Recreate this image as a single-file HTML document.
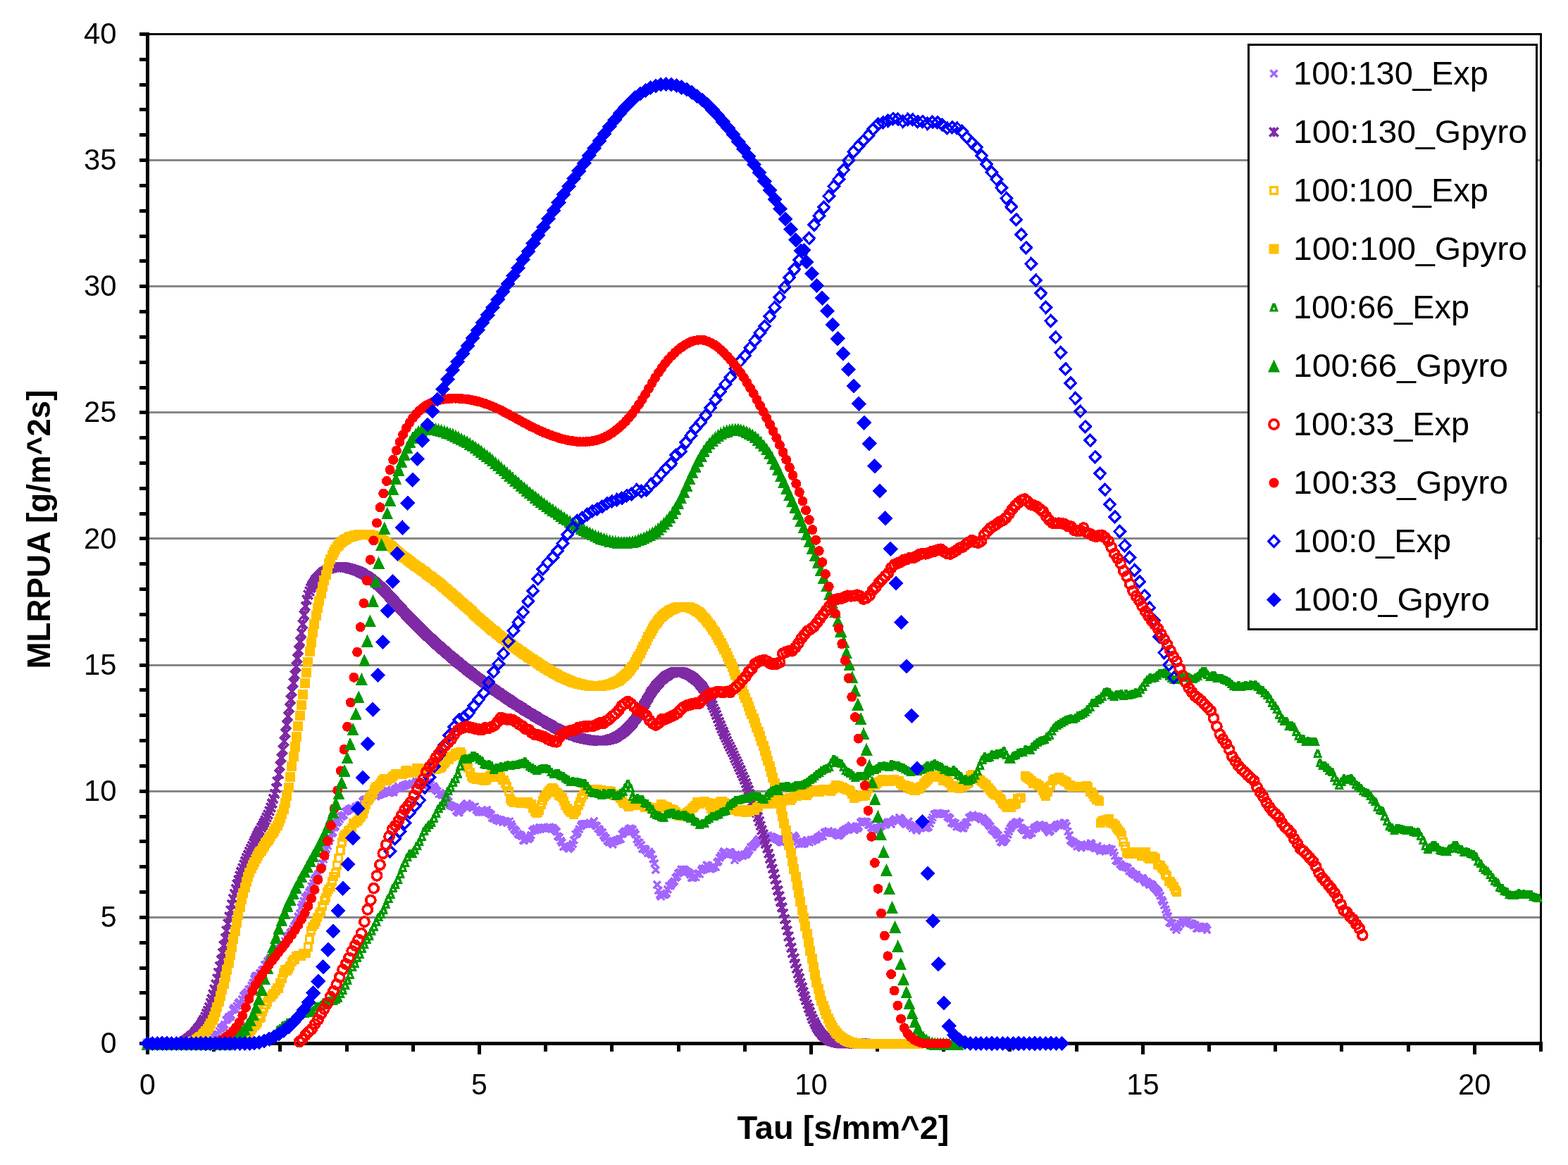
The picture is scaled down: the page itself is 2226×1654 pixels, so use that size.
<!DOCTYPE html>
<html lang="en">
<head>
<meta charset="utf-8">
<title>MLRPUA vs Tau</title>
<style>
html,body{margin:0;padding:0;background:#fff;}
body{width:2226px;height:1654px;overflow:hidden;}
svg{display:block;}
text{font-family:"Liberation Sans", sans-serif;fill:#000;}
.tk{font-size:42px;}
.lg{font-size:47px;}
.ti{font-size:47px;font-weight:bold;}
</style>
</head>
<body>
<svg xmlns="http://www.w3.org/2000/svg" width="2226" height="1654" viewBox="0 0 2226 1654">
<rect x="0" y="0" width="2226" height="1654" fill="#fff"/>
<g stroke="#868686" stroke-width="3" shape-rendering="crispEdges">
<line x1="212" y1="1302.5" x2="2186" y2="1302.5"/>
<line x1="212" y1="1123.5" x2="2186" y2="1123.5"/>
<line x1="212" y1="944.5" x2="2186" y2="944.5"/>
<line x1="212" y1="764.5" x2="2186" y2="764.5"/>
<line x1="212" y1="585.5" x2="2186" y2="585.5"/>
<line x1="212" y1="406.5" x2="2186" y2="406.5"/>
<line x1="212" y1="227.5" x2="2186" y2="227.5"/>
</g>
<g fill="#000" shape-rendering="crispEdges">
<rect x="207" y="47" width="1982" height="3"/>
<rect x="2186" y="47" width="3" height="1437"/>
<rect x="207" y="46" width="5" height="1451"/>
<rect x="198" y="1479" width="1992" height="5"/>
<rect x="198" y="1479" width="10" height="5"/>
<rect x="198" y="1443" width="10" height="5"/>
<rect x="198" y="1407" width="10" height="5"/>
<rect x="198" y="1372" width="10" height="5"/>
<rect x="198" y="1336" width="10" height="5"/>
<rect x="198" y="1300" width="10" height="5"/>
<rect x="198" y="1264" width="10" height="5"/>
<rect x="198" y="1228" width="10" height="5"/>
<rect x="198" y="1192" width="10" height="5"/>
<rect x="198" y="1157" width="10" height="5"/>
<rect x="198" y="1121" width="10" height="5"/>
<rect x="198" y="1085" width="10" height="5"/>
<rect x="198" y="1049" width="10" height="5"/>
<rect x="198" y="1013" width="10" height="5"/>
<rect x="198" y="977" width="10" height="5"/>
<rect x="198" y="942" width="10" height="5"/>
<rect x="198" y="906" width="10" height="5"/>
<rect x="198" y="870" width="10" height="5"/>
<rect x="198" y="834" width="10" height="5"/>
<rect x="198" y="798" width="10" height="5"/>
<rect x="198" y="762" width="10" height="5"/>
<rect x="198" y="727" width="10" height="5"/>
<rect x="198" y="691" width="10" height="5"/>
<rect x="198" y="655" width="10" height="5"/>
<rect x="198" y="619" width="10" height="5"/>
<rect x="198" y="583" width="10" height="5"/>
<rect x="198" y="548" width="10" height="5"/>
<rect x="198" y="512" width="10" height="5"/>
<rect x="198" y="476" width="10" height="5"/>
<rect x="198" y="440" width="10" height="5"/>
<rect x="198" y="404" width="10" height="5"/>
<rect x="198" y="368" width="10" height="5"/>
<rect x="198" y="333" width="10" height="5"/>
<rect x="198" y="297" width="10" height="5"/>
<rect x="198" y="261" width="10" height="5"/>
<rect x="198" y="225" width="10" height="5"/>
<rect x="198" y="189" width="10" height="5"/>
<rect x="198" y="153" width="10" height="5"/>
<rect x="198" y="118" width="10" height="5"/>
<rect x="198" y="82" width="10" height="5"/>
<rect x="198" y="46" width="10" height="5"/>
<rect x="207" y="1479" width="5" height="18"/>
<rect x="301" y="1479" width="5" height="14"/>
<rect x="395" y="1479" width="5" height="14"/>
<rect x="490" y="1479" width="5" height="14"/>
<rect x="584" y="1479" width="5" height="14"/>
<rect x="678" y="1479" width="5" height="18"/>
<rect x="772" y="1479" width="5" height="14"/>
<rect x="866" y="1479" width="5" height="14"/>
<rect x="961" y="1479" width="5" height="14"/>
<rect x="1055" y="1479" width="5" height="14"/>
<rect x="1149" y="1479" width="5" height="18"/>
<rect x="1243" y="1479" width="5" height="14"/>
<rect x="1337" y="1479" width="5" height="14"/>
<rect x="1431" y="1479" width="5" height="14"/>
<rect x="1526" y="1479" width="5" height="14"/>
<rect x="1620" y="1479" width="5" height="18"/>
<rect x="1714" y="1479" width="5" height="14"/>
<rect x="1808" y="1479" width="5" height="14"/>
<rect x="1902" y="1479" width="5" height="14"/>
<rect x="1997" y="1479" width="5" height="14"/>
<rect x="2091" y="1479" width="5" height="18"/>
<rect x="2185" y="1479" width="5" height="14"/>
</g>
<defs>
<g id="m0"><path d="M-5,-5L5,5M-5,5L5,-5" stroke="#A366FF" stroke-width="3.4" fill="none"/></g>
<g id="m1"><path d="M-6.2,-6.2L6.2,6.2M-6.2,6.2L6.2,-6.2" stroke="#7F2AA5" stroke-width="3.7" fill="none"/><rect x="-2" y="-6.5" width="4" height="13" fill="#7F2AA5"/></g>
<g id="m2"><rect x="-4.85" y="-4.85" width="9.7" height="9.7" stroke="#FFC000" stroke-width="3.3" fill="none"/></g>
<g id="m3"><rect x="-7" y="-7" width="14" height="14" fill="#FFC000"/></g>
<g id="m4"><path d="M-2,-6L2,-6L6.5,6L-6.5,6ZM0,-0.6L-1.8,3L1.8,3Z" fill="#009900" fill-rule="evenodd"/></g>
<g id="m5"><path d="M0,-9L8.5,9L-8.5,9Z" fill="#009900"/></g>
<g id="m6"><circle r="6.55" stroke="#FF0000" stroke-width="3.8" fill="none"/></g>
<g id="m7"><circle r="7" fill="#FF0000"/></g>
<g id="m8"><path d="M0,-7.9L7.6,0L0,7.9L-7.6,0Z" stroke="#0000FF" stroke-width="3.4" fill="none" stroke-linejoin="miter"/></g>
<g id="m9"><path d="M0,-10.6L10.6,0L0,10.6L-10.6,0Z" fill="#0000FF"/></g>
</defs>
<g id="series" shape-rendering="crispEdges">
<g><use href="#m0" x="300.0" y="1477.6"/><use href="#m0" x="301.9" y="1476.0"/><use href="#m0" x="303.8" y="1472.1"/><use href="#m0" x="305.7" y="1468.7"/><use href="#m0" x="307.6" y="1470.1"/><use href="#m0" x="309.5" y="1468.4"/><use href="#m0" x="311.4" y="1464.0"/><use href="#m0" x="313.3" y="1460.8"/><use href="#m0" x="315.2" y="1458.8"/><use href="#m0" x="317.1" y="1457.2"/><use href="#m0" x="319.0" y="1454.7"/><use href="#m0" x="320.9" y="1448.2"/><use href="#m0" x="322.8" y="1446.3"/><use href="#m0" x="324.7" y="1444.0"/><use href="#m0" x="326.6" y="1443.5"/><use href="#m0" x="328.5" y="1441.1"/><use href="#m0" x="330.4" y="1433.7"/><use href="#m0" x="332.3" y="1431.4"/><use href="#m0" x="334.2" y="1432.6"/><use href="#m0" x="336.1" y="1428.2"/><use href="#m0" x="338.0" y="1424.5"/><use href="#m0" x="339.9" y="1423.1"/><use href="#m0" x="341.8" y="1425.8"/><use href="#m0" x="343.7" y="1418.4"/><use href="#m0" x="345.6" y="1414.2"/><use href="#m0" x="347.5" y="1411.9"/><use href="#m0" x="349.4" y="1409.8"/><use href="#m0" x="351.3" y="1407.8"/><use href="#m0" x="353.2" y="1404.7"/><use href="#m0" x="355.1" y="1404.2"/><use href="#m0" x="357.0" y="1399.2"/><use href="#m0" x="358.9" y="1395.3"/><use href="#m0" x="360.8" y="1389.5"/><use href="#m0" x="362.7" y="1386.3"/><use href="#m0" x="364.6" y="1385.2"/><use href="#m0" x="366.5" y="1385.9"/><use href="#m0" x="368.4" y="1381.8"/><use href="#m0" x="370.3" y="1380.9"/><use href="#m0" x="372.2" y="1377.1"/><use href="#m0" x="374.1" y="1376.4"/><use href="#m0" x="376.0" y="1370.0"/><use href="#m0" x="377.9" y="1369.2"/><use href="#m0" x="379.8" y="1365.2"/><use href="#m0" x="381.7" y="1362.9"/><use href="#m0" x="383.6" y="1359.8"/><use href="#m0" x="385.5" y="1359.7"/><use href="#m0" x="387.4" y="1358.5"/><use href="#m0" x="389.3" y="1354.6"/><use href="#m0" x="391.2" y="1353.2"/><use href="#m0" x="393.1" y="1353.1"/><use href="#m0" x="395.0" y="1349.6"/><use href="#m0" x="396.9" y="1346.9"/><use href="#m0" x="398.8" y="1343.9"/><use href="#m0" x="400.7" y="1343.0"/><use href="#m0" x="402.6" y="1341.8"/><use href="#m0" x="404.5" y="1336.0"/><use href="#m0" x="406.4" y="1330.7"/><use href="#m0" x="408.3" y="1329.3"/><use href="#m0" x="410.2" y="1328.5"/><use href="#m0" x="412.1" y="1324.0"/><use href="#m0" x="414.0" y="1322.8"/><use href="#m0" x="415.9" y="1318.9"/><use href="#m0" x="417.8" y="1315.1"/><use href="#m0" x="419.7" y="1312.0"/><use href="#m0" x="421.6" y="1308.6"/><use href="#m0" x="423.5" y="1301.4"/><use href="#m0" x="425.4" y="1297.0"/><use href="#m0" x="427.3" y="1288.4"/><use href="#m0" x="429.2" y="1284.5"/><use href="#m0" x="431.1" y="1279.3"/><use href="#m0" x="433.0" y="1274.1"/><use href="#m0" x="434.9" y="1273.5"/><use href="#m0" x="436.8" y="1270.5"/><use href="#m0" x="438.7" y="1266.9"/><use href="#m0" x="440.6" y="1263.9"/><use href="#m0" x="442.5" y="1258.3"/><use href="#m0" x="444.4" y="1253.9"/><use href="#m0" x="446.3" y="1249.6"/><use href="#m0" x="448.2" y="1246.2"/><use href="#m0" x="450.1" y="1244.3"/><use href="#m0" x="452.0" y="1240.8"/><use href="#m0" x="453.9" y="1234.3"/><use href="#m0" x="455.8" y="1231.2"/><use href="#m0" x="457.7" y="1225.5"/><use href="#m0" x="459.6" y="1220.1"/><use href="#m0" x="461.5" y="1215.5"/><use href="#m0" x="463.4" y="1205.3"/><use href="#m0" x="465.3" y="1200.8"/><use href="#m0" x="467.2" y="1194.1"/><use href="#m0" x="469.1" y="1189.7"/><use href="#m0" x="471.0" y="1183.5"/><use href="#m0" x="472.9" y="1181.4"/><use href="#m0" x="474.8" y="1174.5"/><use href="#m0" x="476.7" y="1173.2"/><use href="#m0" x="478.6" y="1168.3"/><use href="#m0" x="480.5" y="1166.1"/><use href="#m0" x="482.4" y="1163.0"/><use href="#m0" x="484.3" y="1159.1"/><use href="#m0" x="486.2" y="1158.8"/><use href="#m0" x="488.1" y="1157.1"/><use href="#m0" x="490.0" y="1152.6"/><use href="#m0" x="491.9" y="1151.4"/><use href="#m0" x="493.8" y="1151.1"/><use href="#m0" x="495.7" y="1148.8"/><use href="#m0" x="497.6" y="1147.8"/><use href="#m0" x="499.5" y="1147.6"/><use href="#m0" x="501.4" y="1148.8"/><use href="#m0" x="503.3" y="1148.8"/><use href="#m0" x="505.2" y="1145.5"/><use href="#m0" x="507.1" y="1147.0"/><use href="#m0" x="509.0" y="1143.6"/><use href="#m0" x="510.9" y="1143.0"/><use href="#m0" x="512.8" y="1142.9"/><use href="#m0" x="514.7" y="1138.0"/><use href="#m0" x="516.6" y="1135.8"/><use href="#m0" x="518.5" y="1135.3"/><use href="#m0" x="520.4" y="1135.5"/><use href="#m0" x="522.3" y="1134.4"/><use href="#m0" x="524.2" y="1134.9"/><use href="#m0" x="526.1" y="1130.7"/><use href="#m0" x="528.0" y="1127.2"/><use href="#m0" x="529.9" y="1126.9"/><use href="#m0" x="531.8" y="1129.1"/><use href="#m0" x="533.7" y="1130.5"/><use href="#m0" x="535.6" y="1129.3"/><use href="#m0" x="537.5" y="1128.6"/><use href="#m0" x="539.4" y="1128.4"/><use href="#m0" x="541.3" y="1126.8"/><use href="#m0" x="543.2" y="1126.0"/><use href="#m0" x="545.1" y="1126.0"/><use href="#m0" x="547.0" y="1123.6"/><use href="#m0" x="548.9" y="1121.0"/><use href="#m0" x="550.8" y="1125.4"/><use href="#m0" x="552.7" y="1126.0"/><use href="#m0" x="554.6" y="1125.0"/><use href="#m0" x="556.5" y="1124.2"/><use href="#m0" x="558.4" y="1124.7"/><use href="#m0" x="560.3" y="1121.4"/><use href="#m0" x="562.2" y="1119.6"/><use href="#m0" x="564.1" y="1119.7"/><use href="#m0" x="566.0" y="1117.0"/><use href="#m0" x="567.9" y="1119.0"/><use href="#m0" x="569.8" y="1118.3"/><use href="#m0" x="571.7" y="1115.7"/><use href="#m0" x="573.6" y="1115.5"/><use href="#m0" x="575.5" y="1114.3"/><use href="#m0" x="577.4" y="1113.7"/><use href="#m0" x="579.3" y="1113.6"/><use href="#m0" x="581.2" y="1114.6"/><use href="#m0" x="583.1" y="1114.8"/><use href="#m0" x="585.0" y="1112.4"/><use href="#m0" x="586.9" y="1113.6"/><use href="#m0" x="588.8" y="1112.5"/><use href="#m0" x="590.7" y="1109.6"/><use href="#m0" x="592.6" y="1111.8"/><use href="#m0" x="594.5" y="1109.5"/><use href="#m0" x="596.4" y="1110.5"/><use href="#m0" x="598.3" y="1113.5"/><use href="#m0" x="600.2" y="1115.4"/><use href="#m0" x="602.1" y="1113.9"/><use href="#m0" x="604.0" y="1113.0"/><use href="#m0" x="605.9" y="1113.2"/><use href="#m0" x="607.8" y="1110.4"/><use href="#m0" x="609.7" y="1115.9"/><use href="#m0" x="611.6" y="1114.0"/><use href="#m0" x="613.5" y="1117.0"/><use href="#m0" x="615.4" y="1116.1"/><use href="#m0" x="617.3" y="1118.6"/><use href="#m0" x="619.2" y="1122.2"/><use href="#m0" x="621.1" y="1123.2"/><use href="#m0" x="623.0" y="1127.5"/><use href="#m0" x="624.9" y="1125.9"/><use href="#m0" x="626.8" y="1128.8"/><use href="#m0" x="628.7" y="1128.6"/><use href="#m0" x="630.6" y="1129.5"/><use href="#m0" x="632.5" y="1133.0"/><use href="#m0" x="634.4" y="1135.6"/><use href="#m0" x="636.3" y="1138.3"/><use href="#m0" x="638.2" y="1142.8"/><use href="#m0" x="640.1" y="1143.8"/><use href="#m0" x="642.0" y="1144.6"/><use href="#m0" x="643.9" y="1145.8"/><use href="#m0" x="645.8" y="1145.9"/><use href="#m0" x="647.7" y="1150.9"/><use href="#m0" x="649.6" y="1152.7"/><use href="#m0" x="651.5" y="1153.7"/><use href="#m0" x="653.4" y="1150.1"/><use href="#m0" x="655.3" y="1148.0"/><use href="#m0" x="657.2" y="1146.4"/><use href="#m0" x="659.1" y="1144.8"/><use href="#m0" x="661.0" y="1142.5"/><use href="#m0" x="662.9" y="1140.9"/><use href="#m0" x="664.8" y="1142.9"/><use href="#m0" x="666.7" y="1143.4"/><use href="#m0" x="668.6" y="1145.2"/><use href="#m0" x="670.5" y="1147.3"/><use href="#m0" x="672.4" y="1145.8"/><use href="#m0" x="674.3" y="1145.2"/><use href="#m0" x="676.2" y="1150.1"/><use href="#m0" x="678.1" y="1151.2"/><use href="#m0" x="680.0" y="1153.5"/><use href="#m0" x="681.9" y="1152.1"/><use href="#m0" x="683.8" y="1153.2"/><use href="#m0" x="685.7" y="1152.6"/><use href="#m0" x="687.6" y="1151.6"/><use href="#m0" x="689.5" y="1152.2"/><use href="#m0" x="691.4" y="1149.8"/><use href="#m0" x="693.3" y="1153.4"/><use href="#m0" x="695.2" y="1154.8"/><use href="#m0" x="697.1" y="1157.0"/><use href="#m0" x="699.0" y="1161.4"/><use href="#m0" x="700.9" y="1162.5"/><use href="#m0" x="702.8" y="1161.5"/><use href="#m0" x="704.7" y="1164.2"/><use href="#m0" x="706.6" y="1163.4"/><use href="#m0" x="708.5" y="1165.9"/><use href="#m0" x="710.4" y="1163.5"/><use href="#m0" x="712.3" y="1165.1"/><use href="#m0" x="714.2" y="1167.4"/><use href="#m0" x="716.1" y="1166.4"/><use href="#m0" x="718.0" y="1166.0"/><use href="#m0" x="719.9" y="1168.0"/><use href="#m0" x="721.8" y="1167.1"/><use href="#m0" x="723.7" y="1165.8"/><use href="#m0" x="725.6" y="1170.2"/><use href="#m0" x="727.5" y="1173.9"/><use href="#m0" x="729.4" y="1177.1"/><use href="#m0" x="731.3" y="1178.7"/><use href="#m0" x="733.2" y="1180.4"/><use href="#m0" x="735.1" y="1183.9"/><use href="#m0" x="737.0" y="1185.1"/><use href="#m0" x="738.9" y="1185.2"/><use href="#m0" x="740.8" y="1187.1"/><use href="#m0" x="742.7" y="1193.1"/><use href="#m0" x="744.6" y="1193.3"/><use href="#m0" x="746.5" y="1190.3"/><use href="#m0" x="748.4" y="1190.7"/><use href="#m0" x="750.3" y="1191.3"/><use href="#m0" x="752.2" y="1189.0"/><use href="#m0" x="754.1" y="1185.8"/><use href="#m0" x="756.0" y="1179.9"/><use href="#m0" x="757.9" y="1178.0"/><use href="#m0" x="759.8" y="1178.6"/><use href="#m0" x="761.7" y="1176.3"/><use href="#m0" x="763.6" y="1177.8"/><use href="#m0" x="765.5" y="1174.7"/><use href="#m0" x="767.4" y="1175.7"/><use href="#m0" x="769.3" y="1174.9"/><use href="#m0" x="771.2" y="1176.0"/><use href="#m0" x="773.1" y="1174.9"/><use href="#m0" x="775.0" y="1177.5"/><use href="#m0" x="776.9" y="1174.7"/><use href="#m0" x="778.8" y="1175.0"/><use href="#m0" x="780.7" y="1174.3"/><use href="#m0" x="782.6" y="1176.5"/><use href="#m0" x="784.5" y="1175.1"/><use href="#m0" x="786.4" y="1176.9"/><use href="#m0" x="788.3" y="1179.2"/><use href="#m0" x="790.2" y="1181.2"/><use href="#m0" x="792.1" y="1187.2"/><use href="#m0" x="794.0" y="1188.9"/><use href="#m0" x="795.9" y="1193.9"/><use href="#m0" x="797.8" y="1196.0"/><use href="#m0" x="799.7" y="1202.1"/><use href="#m0" x="801.6" y="1201.2"/><use href="#m0" x="803.5" y="1201.4"/><use href="#m0" x="805.4" y="1203.1"/><use href="#m0" x="807.3" y="1205.2"/><use href="#m0" x="809.2" y="1203.5"/><use href="#m0" x="811.1" y="1201.7"/><use href="#m0" x="813.0" y="1198.1"/><use href="#m0" x="814.9" y="1192.9"/><use href="#m0" x="816.8" y="1184.4"/><use href="#m0" x="818.7" y="1183.6"/><use href="#m0" x="820.6" y="1181.1"/><use href="#m0" x="822.5" y="1177.5"/><use href="#m0" x="824.4" y="1172.7"/><use href="#m0" x="826.3" y="1170.3"/><use href="#m0" x="828.2" y="1170.5"/><use href="#m0" x="830.1" y="1169.9"/><use href="#m0" x="832.0" y="1170.0"/><use href="#m0" x="833.9" y="1169.5"/><use href="#m0" x="835.8" y="1169.8"/><use href="#m0" x="837.7" y="1168.3"/><use href="#m0" x="839.6" y="1170.6"/><use href="#m0" x="841.5" y="1168.6"/><use href="#m0" x="843.4" y="1165.9"/><use href="#m0" x="845.3" y="1172.1"/><use href="#m0" x="847.2" y="1172.9"/><use href="#m0" x="849.1" y="1176.4"/><use href="#m0" x="851.0" y="1177.7"/><use href="#m0" x="852.9" y="1181.2"/><use href="#m0" x="854.8" y="1181.8"/><use href="#m0" x="856.7" y="1186.5"/><use href="#m0" x="858.6" y="1188.9"/><use href="#m0" x="860.5" y="1190.0"/><use href="#m0" x="862.4" y="1193.6"/><use href="#m0" x="864.3" y="1195.9"/><use href="#m0" x="866.2" y="1194.5"/><use href="#m0" x="868.1" y="1196.2"/><use href="#m0" x="870.0" y="1198.8"/><use href="#m0" x="871.9" y="1194.6"/><use href="#m0" x="873.8" y="1193.9"/><use href="#m0" x="875.7" y="1192.9"/><use href="#m0" x="877.6" y="1192.6"/><use href="#m0" x="879.5" y="1191.0"/><use href="#m0" x="881.4" y="1191.1"/><use href="#m0" x="883.3" y="1184.0"/><use href="#m0" x="885.2" y="1181.9"/><use href="#m0" x="887.1" y="1180.4"/><use href="#m0" x="889.0" y="1180.9"/><use href="#m0" x="890.9" y="1179.7"/><use href="#m0" x="892.8" y="1176.7"/><use href="#m0" x="894.7" y="1176.1"/><use href="#m0" x="896.6" y="1176.7"/><use href="#m0" x="898.5" y="1177.8"/><use href="#m0" x="900.4" y="1181.9"/><use href="#m0" x="902.3" y="1184.7"/><use href="#m0" x="904.2" y="1192.2"/><use href="#m0" x="906.1" y="1195.9"/><use href="#m0" x="908.0" y="1196.6"/><use href="#m0" x="909.9" y="1199.9"/><use href="#m0" x="911.8" y="1205.4"/><use href="#m0" x="913.7" y="1205.5"/><use href="#m0" x="915.6" y="1205.1"/><use href="#m0" x="917.5" y="1207.7"/><use href="#m0" x="919.4" y="1211.3"/><use href="#m0" x="921.3" y="1209.2"/><use href="#m0" x="923.2" y="1211.5"/><use href="#m0" x="925.1" y="1213.5"/><use href="#m0" x="927.0" y="1219.8"/><use href="#m0" x="928.9" y="1225.8"/><use href="#m0" x="930.8" y="1235.0"/><use href="#m0" x="932.7" y="1256.0"/><use href="#m0" x="934.6" y="1264.2"/><use href="#m0" x="936.5" y="1270.0"/><use href="#m0" x="938.4" y="1272.9"/><use href="#m0" x="940.3" y="1269.8"/><use href="#m0" x="942.2" y="1270.3"/><use href="#m0" x="944.1" y="1270.2"/><use href="#m0" x="946.0" y="1268.4"/><use href="#m0" x="947.9" y="1262.9"/><use href="#m0" x="949.8" y="1257.9"/><use href="#m0" x="951.7" y="1258.0"/><use href="#m0" x="953.6" y="1254.5"/><use href="#m0" x="955.5" y="1253.5"/><use href="#m0" x="957.4" y="1250.9"/><use href="#m0" x="959.3" y="1246.4"/><use href="#m0" x="961.2" y="1244.0"/><use href="#m0" x="963.1" y="1239.9"/><use href="#m0" x="965.0" y="1238.1"/><use href="#m0" x="966.9" y="1234.2"/><use href="#m0" x="968.8" y="1235.2"/><use href="#m0" x="970.7" y="1234.5"/><use href="#m0" x="972.6" y="1235.4"/><use href="#m0" x="974.5" y="1236.9"/><use href="#m0" x="976.4" y="1237.5"/><use href="#m0" x="978.3" y="1239.1"/><use href="#m0" x="980.2" y="1241.6"/><use href="#m0" x="982.1" y="1246.2"/><use href="#m0" x="984.0" y="1246.2"/><use href="#m0" x="985.9" y="1245.0"/><use href="#m0" x="987.8" y="1245.3"/><use href="#m0" x="989.7" y="1241.0"/><use href="#m0" x="991.6" y="1239.7"/><use href="#m0" x="993.5" y="1241.1"/><use href="#m0" x="995.4" y="1235.7"/><use href="#m0" x="997.3" y="1233.0"/><use href="#m0" x="999.2" y="1234.8"/><use href="#m0" x="1001.1" y="1232.9"/><use href="#m0" x="1003.0" y="1228.3"/><use href="#m0" x="1004.9" y="1228.6"/><use href="#m0" x="1006.8" y="1233.3"/><use href="#m0" x="1008.7" y="1233.7"/><use href="#m0" x="1010.6" y="1233.4"/><use href="#m0" x="1012.5" y="1232.0"/><use href="#m0" x="1014.4" y="1231.4"/><use href="#m0" x="1016.3" y="1230.9"/><use href="#m0" x="1018.2" y="1223.9"/><use href="#m0" x="1020.1" y="1222.7"/><use href="#m0" x="1022.0" y="1217.8"/><use href="#m0" x="1023.9" y="1214.6"/><use href="#m0" x="1025.8" y="1211.3"/><use href="#m0" x="1027.7" y="1209.0"/><use href="#m0" x="1029.6" y="1213.2"/><use href="#m0" x="1031.5" y="1211.5"/><use href="#m0" x="1033.4" y="1214.0"/><use href="#m0" x="1035.3" y="1209.8"/><use href="#m0" x="1037.2" y="1209.8"/><use href="#m0" x="1039.1" y="1212.8"/><use href="#m0" x="1041.0" y="1214.0"/><use href="#m0" x="1042.9" y="1221.5"/><use href="#m0" x="1044.8" y="1218.0"/><use href="#m0" x="1046.7" y="1217.9"/><use href="#m0" x="1048.6" y="1215.6"/><use href="#m0" x="1050.5" y="1215.1"/><use href="#m0" x="1052.4" y="1213.2"/><use href="#m0" x="1054.3" y="1215.4"/><use href="#m0" x="1056.2" y="1213.6"/><use href="#m0" x="1058.1" y="1213.3"/><use href="#m0" x="1060.0" y="1212.7"/><use href="#m0" x="1061.9" y="1209.9"/><use href="#m0" x="1063.8" y="1206.6"/><use href="#m0" x="1065.7" y="1202.9"/><use href="#m0" x="1067.6" y="1202.8"/><use href="#m0" x="1069.5" y="1200.5"/><use href="#m0" x="1071.4" y="1198.4"/><use href="#m0" x="1073.3" y="1196.2"/><use href="#m0" x="1075.2" y="1193.1"/><use href="#m0" x="1077.1" y="1191.4"/><use href="#m0" x="1079.0" y="1196.9"/><use href="#m0" x="1080.9" y="1195.6"/><use href="#m0" x="1082.8" y="1191.3"/><use href="#m0" x="1084.7" y="1188.8"/><use href="#m0" x="1086.6" y="1187.4"/><use href="#m0" x="1088.5" y="1187.1"/><use href="#m0" x="1090.4" y="1186.2"/><use href="#m0" x="1092.3" y="1189.1"/><use href="#m0" x="1094.2" y="1187.3"/><use href="#m0" x="1096.1" y="1188.3"/><use href="#m0" x="1098.0" y="1189.4"/><use href="#m0" x="1099.9" y="1190.0"/><use href="#m0" x="1101.8" y="1191.3"/><use href="#m0" x="1103.7" y="1192.3"/><use href="#m0" x="1105.6" y="1192.9"/><use href="#m0" x="1107.5" y="1194.8"/><use href="#m0" x="1109.4" y="1195.9"/><use href="#m0" x="1111.3" y="1195.7"/><use href="#m0" x="1113.2" y="1191.4"/><use href="#m0" x="1115.1" y="1189.3"/><use href="#m0" x="1117.0" y="1191.2"/><use href="#m0" x="1118.9" y="1192.0"/><use href="#m0" x="1120.8" y="1190.7"/><use href="#m0" x="1122.7" y="1191.2"/><use href="#m0" x="1124.6" y="1190.1"/><use href="#m0" x="1126.5" y="1186.0"/><use href="#m0" x="1128.4" y="1188.2"/><use href="#m0" x="1130.3" y="1190.7"/><use href="#m0" x="1132.2" y="1195.2"/><use href="#m0" x="1134.1" y="1198.6"/><use href="#m0" x="1136.0" y="1196.9"/><use href="#m0" x="1137.9" y="1198.2"/><use href="#m0" x="1139.8" y="1197.7"/><use href="#m0" x="1141.7" y="1198.0"/><use href="#m0" x="1143.6" y="1195.2"/><use href="#m0" x="1145.5" y="1192.9"/><use href="#m0" x="1147.4" y="1195.2"/><use href="#m0" x="1149.3" y="1195.9"/><use href="#m0" x="1151.2" y="1192.0"/><use href="#m0" x="1153.1" y="1194.2"/><use href="#m0" x="1155.0" y="1192.2"/><use href="#m0" x="1156.9" y="1191.7"/><use href="#m0" x="1158.8" y="1191.7"/><use href="#m0" x="1160.7" y="1189.2"/><use href="#m0" x="1162.6" y="1187.8"/><use href="#m0" x="1164.5" y="1188.2"/><use href="#m0" x="1166.4" y="1185.2"/><use href="#m0" x="1168.3" y="1187.4"/><use href="#m0" x="1170.2" y="1182.5"/><use href="#m0" x="1172.1" y="1181.2"/><use href="#m0" x="1174.0" y="1182.9"/><use href="#m0" x="1175.9" y="1179.8"/><use href="#m0" x="1177.8" y="1181.9"/><use href="#m0" x="1179.7" y="1182.1"/><use href="#m0" x="1181.6" y="1181.6"/><use href="#m0" x="1183.5" y="1183.1"/><use href="#m0" x="1185.4" y="1183.4"/><use href="#m0" x="1187.3" y="1185.0"/><use href="#m0" x="1189.2" y="1186.1"/><use href="#m0" x="1191.1" y="1186.4"/><use href="#m0" x="1193.0" y="1185.0"/><use href="#m0" x="1194.9" y="1182.7"/><use href="#m0" x="1196.8" y="1180.0"/><use href="#m0" x="1198.7" y="1179.4"/><use href="#m0" x="1200.6" y="1177.3"/><use href="#m0" x="1202.5" y="1177.7"/><use href="#m0" x="1204.4" y="1175.5"/><use href="#m0" x="1206.3" y="1175.7"/><use href="#m0" x="1208.2" y="1172.5"/><use href="#m0" x="1210.1" y="1176.6"/><use href="#m0" x="1212.0" y="1178.6"/><use href="#m0" x="1213.9" y="1177.7"/><use href="#m0" x="1215.8" y="1175.4"/><use href="#m0" x="1217.7" y="1175.5"/><use href="#m0" x="1219.6" y="1173.2"/><use href="#m0" x="1221.5" y="1167.9"/><use href="#m0" x="1223.4" y="1166.1"/><use href="#m0" x="1225.3" y="1166.6"/><use href="#m0" x="1227.2" y="1167.0"/><use href="#m0" x="1229.1" y="1166.8"/><use href="#m0" x="1231.0" y="1167.3"/><use href="#m0" x="1232.9" y="1171.0"/><use href="#m0" x="1234.8" y="1171.3"/><use href="#m0" x="1236.7" y="1174.9"/><use href="#m0" x="1238.6" y="1176.6"/><use href="#m0" x="1240.5" y="1175.8"/><use href="#m0" x="1242.4" y="1179.3"/><use href="#m0" x="1244.3" y="1177.8"/><use href="#m0" x="1246.2" y="1178.4"/><use href="#m0" x="1248.1" y="1178.0"/><use href="#m0" x="1250.0" y="1174.0"/><use href="#m0" x="1251.9" y="1172.5"/><use href="#m0" x="1253.8" y="1169.0"/><use href="#m0" x="1255.7" y="1171.0"/><use href="#m0" x="1257.6" y="1171.0"/><use href="#m0" x="1259.5" y="1167.7"/><use href="#m0" x="1261.4" y="1167.1"/><use href="#m0" x="1263.3" y="1167.4"/><use href="#m0" x="1265.2" y="1170.0"/><use href="#m0" x="1267.1" y="1166.1"/><use href="#m0" x="1269.0" y="1164.3"/><use href="#m0" x="1270.9" y="1162.7"/><use href="#m0" x="1272.8" y="1164.8"/><use href="#m0" x="1274.7" y="1164.4"/><use href="#m0" x="1276.6" y="1160.9"/><use href="#m0" x="1278.5" y="1162.2"/><use href="#m0" x="1280.4" y="1164.5"/><use href="#m0" x="1282.3" y="1166.8"/><use href="#m0" x="1284.2" y="1168.6"/><use href="#m0" x="1286.1" y="1170.3"/><use href="#m0" x="1288.0" y="1169.6"/><use href="#m0" x="1289.9" y="1166.5"/><use href="#m0" x="1291.8" y="1171.2"/><use href="#m0" x="1293.7" y="1172.9"/><use href="#m0" x="1295.6" y="1176.0"/><use href="#m0" x="1297.5" y="1172.5"/><use href="#m0" x="1299.4" y="1175.7"/><use href="#m0" x="1301.3" y="1179.0"/><use href="#m0" x="1303.2" y="1176.6"/><use href="#m0" x="1305.1" y="1174.2"/><use href="#m0" x="1307.0" y="1175.7"/><use href="#m0" x="1308.9" y="1174.2"/><use href="#m0" x="1310.8" y="1173.5"/><use href="#m0" x="1312.7" y="1175.2"/><use href="#m0" x="1314.6" y="1175.7"/><use href="#m0" x="1316.5" y="1175.0"/><use href="#m0" x="1318.4" y="1173.9"/><use href="#m0" x="1320.3" y="1169.5"/><use href="#m0" x="1322.2" y="1164.1"/><use href="#m0" x="1324.1" y="1160.7"/><use href="#m0" x="1326.0" y="1156.3"/><use href="#m0" x="1327.9" y="1155.4"/><use href="#m0" x="1329.8" y="1155.1"/><use href="#m0" x="1331.7" y="1154.5"/><use href="#m0" x="1333.6" y="1155.1"/><use href="#m0" x="1335.5" y="1155.3"/><use href="#m0" x="1337.4" y="1155.9"/><use href="#m0" x="1339.3" y="1155.6"/><use href="#m0" x="1341.2" y="1156.0"/><use href="#m0" x="1343.1" y="1155.3"/><use href="#m0" x="1345.0" y="1159.8"/><use href="#m0" x="1346.9" y="1160.9"/><use href="#m0" x="1348.8" y="1162.1"/><use href="#m0" x="1350.7" y="1168.4"/><use href="#m0" x="1352.6" y="1167.1"/><use href="#m0" x="1354.5" y="1169.6"/><use href="#m0" x="1356.4" y="1168.7"/><use href="#m0" x="1358.3" y="1174.1"/><use href="#m0" x="1360.2" y="1171.8"/><use href="#m0" x="1362.1" y="1173.2"/><use href="#m0" x="1364.0" y="1174.1"/><use href="#m0" x="1365.9" y="1175.7"/><use href="#m0" x="1367.8" y="1176.0"/><use href="#m0" x="1369.7" y="1172.0"/><use href="#m0" x="1371.6" y="1168.3"/><use href="#m0" x="1373.5" y="1167.2"/><use href="#m0" x="1375.4" y="1161.0"/><use href="#m0" x="1377.3" y="1160.2"/><use href="#m0" x="1379.2" y="1159.2"/><use href="#m0" x="1381.1" y="1157.2"/><use href="#m0" x="1383.0" y="1159.1"/><use href="#m0" x="1384.9" y="1159.1"/><use href="#m0" x="1386.8" y="1159.2"/><use href="#m0" x="1388.7" y="1160.1"/><use href="#m0" x="1390.6" y="1161.5"/><use href="#m0" x="1392.5" y="1163.2"/><use href="#m0" x="1394.4" y="1161.1"/><use href="#m0" x="1396.3" y="1163.3"/><use href="#m0" x="1398.2" y="1165.9"/><use href="#m0" x="1400.1" y="1166.7"/><use href="#m0" x="1402.0" y="1168.6"/><use href="#m0" x="1403.9" y="1171.3"/><use href="#m0" x="1405.8" y="1173.6"/><use href="#m0" x="1407.7" y="1177.7"/><use href="#m0" x="1409.6" y="1178.8"/><use href="#m0" x="1411.5" y="1180.1"/><use href="#m0" x="1413.4" y="1182.3"/><use href="#m0" x="1415.3" y="1184.6"/><use href="#m0" x="1417.2" y="1185.5"/><use href="#m0" x="1419.1" y="1190.3"/><use href="#m0" x="1421.0" y="1195.2"/><use href="#m0" x="1422.9" y="1196.1"/><use href="#m0" x="1424.8" y="1194.7"/><use href="#m0" x="1426.7" y="1191.9"/><use href="#m0" x="1428.6" y="1189.8"/><use href="#m0" x="1430.5" y="1184.7"/><use href="#m0" x="1432.4" y="1180.4"/><use href="#m0" x="1434.3" y="1176.5"/><use href="#m0" x="1436.2" y="1173.5"/><use href="#m0" x="1438.1" y="1170.8"/><use href="#m0" x="1440.0" y="1170.8"/><use href="#m0" x="1441.9" y="1168.0"/><use href="#m0" x="1443.8" y="1166.4"/><use href="#m0" x="1445.7" y="1168.6"/><use href="#m0" x="1447.6" y="1168.3"/><use href="#m0" x="1449.5" y="1175.1"/><use href="#m0" x="1451.4" y="1177.4"/><use href="#m0" x="1453.3" y="1179.0"/><use href="#m0" x="1455.2" y="1179.0"/><use href="#m0" x="1457.1" y="1185.3"/><use href="#m0" x="1459.0" y="1185.8"/><use href="#m0" x="1460.9" y="1184.7"/><use href="#m0" x="1462.8" y="1182.9"/><use href="#m0" x="1464.7" y="1183.0"/><use href="#m0" x="1466.6" y="1177.5"/><use href="#m0" x="1468.5" y="1174.7"/><use href="#m0" x="1470.4" y="1175.7"/><use href="#m0" x="1472.3" y="1173.5"/><use href="#m0" x="1474.2" y="1172.0"/><use href="#m0" x="1476.1" y="1170.8"/><use href="#m0" x="1478.0" y="1172.2"/><use href="#m0" x="1479.9" y="1172.9"/><use href="#m0" x="1481.8" y="1172.2"/><use href="#m0" x="1483.7" y="1175.6"/><use href="#m0" x="1485.6" y="1176.4"/><use href="#m0" x="1487.5" y="1178.6"/><use href="#m0" x="1489.4" y="1181.5"/><use href="#m0" x="1491.3" y="1179.4"/><use href="#m0" x="1493.2" y="1175.1"/><use href="#m0" x="1495.1" y="1176.1"/><use href="#m0" x="1497.0" y="1174.1"/><use href="#m0" x="1498.9" y="1172.2"/><use href="#m0" x="1500.8" y="1170.8"/><use href="#m0" x="1502.7" y="1172.1"/><use href="#m0" x="1504.6" y="1169.6"/><use href="#m0" x="1506.5" y="1171.2"/><use href="#m0" x="1508.4" y="1170.8"/><use href="#m0" x="1510.3" y="1168.6"/><use href="#m0" x="1512.2" y="1168.5"/><use href="#m0" x="1514.1" y="1172.9"/><use href="#m0" x="1516.0" y="1180.5"/><use href="#m0" x="1517.9" y="1185.8"/><use href="#m0" x="1519.8" y="1193.1"/><use href="#m0" x="1521.7" y="1195.3"/><use href="#m0" x="1523.6" y="1195.6"/><use href="#m0" x="1525.5" y="1197.9"/><use href="#m0" x="1527.4" y="1198.2"/><use href="#m0" x="1529.3" y="1201.6"/><use href="#m0" x="1531.2" y="1199.3"/><use href="#m0" x="1533.1" y="1201.9"/><use href="#m0" x="1535.0" y="1203.9"/><use href="#m0" x="1536.9" y="1200.3"/><use href="#m0" x="1538.8" y="1199.8"/><use href="#m0" x="1540.7" y="1202.0"/><use href="#m0" x="1542.6" y="1198.5"/><use href="#m0" x="1544.5" y="1201.1"/><use href="#m0" x="1546.4" y="1201.2"/><use href="#m0" x="1548.3" y="1196.8"/><use href="#m0" x="1550.2" y="1198.3"/><use href="#m0" x="1552.1" y="1202.7"/><use href="#m0" x="1554.0" y="1203.8"/><use href="#m0" x="1555.9" y="1204.3"/><use href="#m0" x="1557.8" y="1201.4"/><use href="#m0" x="1559.7" y="1205.2"/><use href="#m0" x="1561.6" y="1208.5"/><use href="#m0" x="1563.5" y="1206.7"/><use href="#m0" x="1565.4" y="1207.4"/><use href="#m0" x="1567.3" y="1207.3"/><use href="#m0" x="1569.2" y="1207.4"/><use href="#m0" x="1571.1" y="1204.0"/><use href="#m0" x="1573.0" y="1207.9"/><use href="#m0" x="1574.9" y="1205.5"/><use href="#m0" x="1576.8" y="1206.0"/><use href="#m0" x="1578.7" y="1205.9"/><use href="#m0" x="1580.6" y="1210.6"/><use href="#m0" x="1582.5" y="1215.1"/><use href="#m0" x="1584.4" y="1221.8"/><use href="#m0" x="1586.3" y="1223.0"/><use href="#m0" x="1588.2" y="1222.9"/><use href="#m0" x="1590.1" y="1226.7"/><use href="#m0" x="1592.0" y="1228.4"/><use href="#m0" x="1593.9" y="1230.2"/><use href="#m0" x="1595.8" y="1230.6"/><use href="#m0" x="1597.7" y="1231.3"/><use href="#m0" x="1599.6" y="1231.3"/><use href="#m0" x="1601.5" y="1232.9"/><use href="#m0" x="1603.4" y="1237.0"/><use href="#m0" x="1605.3" y="1237.1"/><use href="#m0" x="1607.2" y="1240.1"/><use href="#m0" x="1609.1" y="1240.5"/><use href="#m0" x="1611.0" y="1242.3"/><use href="#m0" x="1612.9" y="1241.9"/><use href="#m0" x="1614.8" y="1245.4"/><use href="#m0" x="1616.7" y="1245.9"/><use href="#m0" x="1618.6" y="1247.8"/><use href="#m0" x="1620.5" y="1247.1"/><use href="#m0" x="1622.4" y="1246.7"/><use href="#m0" x="1624.3" y="1249.5"/><use href="#m0" x="1626.2" y="1252.8"/><use href="#m0" x="1628.1" y="1252.0"/><use href="#m0" x="1630.0" y="1253.5"/><use href="#m0" x="1631.9" y="1256.5"/><use href="#m0" x="1633.8" y="1255.5"/><use href="#m0" x="1635.7" y="1256.7"/><use href="#m0" x="1637.6" y="1259.2"/><use href="#m0" x="1639.5" y="1261.0"/><use href="#m0" x="1641.4" y="1262.6"/><use href="#m0" x="1643.3" y="1265.3"/><use href="#m0" x="1645.2" y="1267.9"/><use href="#m0" x="1647.1" y="1271.7"/><use href="#m0" x="1649.0" y="1278.0"/><use href="#m0" x="1650.9" y="1280.5"/><use href="#m0" x="1652.8" y="1285.1"/><use href="#m0" x="1654.7" y="1291.0"/><use href="#m0" x="1656.6" y="1295.7"/><use href="#m0" x="1658.5" y="1300.7"/><use href="#m0" x="1660.4" y="1310.0"/><use href="#m0" x="1662.3" y="1311.0"/><use href="#m0" x="1664.2" y="1310.8"/><use href="#m0" x="1666.1" y="1315.8"/><use href="#m0" x="1668.0" y="1315.7"/><use href="#m0" x="1669.9" y="1320.4"/><use href="#m0" x="1671.8" y="1316.6"/><use href="#m0" x="1673.7" y="1315.3"/><use href="#m0" x="1675.6" y="1311.9"/><use href="#m0" x="1677.5" y="1306.8"/><use href="#m0" x="1679.4" y="1309.2"/><use href="#m0" x="1681.3" y="1308.4"/><use href="#m0" x="1683.2" y="1309.8"/><use href="#m0" x="1685.1" y="1308.5"/><use href="#m0" x="1687.0" y="1307.5"/><use href="#m0" x="1688.9" y="1310.8"/><use href="#m0" x="1690.8" y="1311.1"/><use href="#m0" x="1692.7" y="1311.5"/><use href="#m0" x="1694.6" y="1313.8"/><use href="#m0" x="1696.5" y="1313.2"/><use href="#m0" x="1698.4" y="1318.4"/><use href="#m0" x="1700.3" y="1317.8"/><use href="#m0" x="1702.2" y="1317.2"/><use href="#m0" x="1704.1" y="1315.2"/><use href="#m0" x="1706.0" y="1317.1"/><use href="#m0" x="1707.9" y="1315.9"/><use href="#m0" x="1709.8" y="1315.8"/><use href="#m0" x="1711.7" y="1317.5"/><use href="#m0" x="1713.6" y="1320.4"/></g>
<g><use href="#m1" x="209.5" y="1481.5"/><use href="#m1" x="211.4" y="1481.5"/><use href="#m1" x="213.3" y="1481.5"/><use href="#m1" x="215.2" y="1481.5"/><use href="#m1" x="217.1" y="1481.5"/><use href="#m1" x="219.0" y="1481.5"/><use href="#m1" x="220.9" y="1481.5"/><use href="#m1" x="222.8" y="1481.5"/><use href="#m1" x="224.7" y="1481.5"/><use href="#m1" x="226.6" y="1481.5"/><use href="#m1" x="228.5" y="1481.5"/><use href="#m1" x="230.4" y="1481.5"/><use href="#m1" x="232.3" y="1481.5"/><use href="#m1" x="234.2" y="1481.5"/><use href="#m1" x="236.1" y="1481.5"/><use href="#m1" x="238.0" y="1481.5"/><use href="#m1" x="239.9" y="1481.5"/><use href="#m1" x="241.8" y="1481.5"/><use href="#m1" x="243.7" y="1481.5"/><use href="#m1" x="245.6" y="1481.5"/><use href="#m1" x="247.5" y="1481.5"/><use href="#m1" x="249.4" y="1481.5"/><use href="#m1" x="251.3" y="1481.5"/><use href="#m1" x="253.2" y="1481.5"/><use href="#m1" x="255.1" y="1481.5"/><use href="#m1" x="257.0" y="1480.6"/><use href="#m1" x="258.9" y="1479.6"/><use href="#m1" x="260.8" y="1478.5"/><use href="#m1" x="262.7" y="1477.4"/><use href="#m1" x="264.6" y="1476.2"/><use href="#m1" x="266.5" y="1474.8"/><use href="#m1" x="268.4" y="1473.4"/><use href="#m1" x="270.3" y="1471.9"/><use href="#m1" x="272.2" y="1470.2"/><use href="#m1" x="274.1" y="1468.4"/><use href="#m1" x="276.0" y="1466.5"/><use href="#m1" x="277.9" y="1464.4"/><use href="#m1" x="279.8" y="1462.1"/><use href="#m1" x="281.7" y="1459.6"/><use href="#m1" x="283.6" y="1456.9"/><use href="#m1" x="285.5" y="1454.0"/><use href="#m1" x="287.4" y="1450.8"/><use href="#m1" x="289.3" y="1447.3"/><use href="#m1" x="291.2" y="1443.5"/><use href="#m1" x="293.1" y="1439.3"/><use href="#m1" x="295.0" y="1434.7"/><use href="#m1" x="296.9" y="1429.7"/><use href="#m1" x="298.8" y="1424.1"/><use href="#m1" x="300.7" y="1418.1"/><use href="#m1" x="302.6" y="1411.7"/><use href="#m1" x="304.5" y="1404.8"/><use href="#m1" x="306.4" y="1397.5"/><use href="#m1" x="308.3" y="1389.6"/><use href="#m1" x="310.2" y="1381.1"/><use href="#m1" x="312.1" y="1372.1"/><use href="#m1" x="314.0" y="1362.6"/><use href="#m1" x="315.9" y="1352.6"/><use href="#m1" x="317.8" y="1342.2"/><use href="#m1" x="319.7" y="1331.8"/><use href="#m1" x="321.6" y="1321.4"/><use href="#m1" x="323.5" y="1311.3"/><use href="#m1" x="325.4" y="1301.7"/><use href="#m1" x="327.3" y="1292.6"/><use href="#m1" x="329.2" y="1284.1"/><use href="#m1" x="331.1" y="1276.2"/><use href="#m1" x="333.0" y="1268.8"/><use href="#m1" x="334.9" y="1261.9"/><use href="#m1" x="336.8" y="1255.4"/><use href="#m1" x="338.7" y="1249.3"/><use href="#m1" x="340.6" y="1243.4"/><use href="#m1" x="342.5" y="1237.9"/><use href="#m1" x="344.4" y="1232.6"/><use href="#m1" x="346.3" y="1227.6"/><use href="#m1" x="348.2" y="1222.7"/><use href="#m1" x="350.1" y="1218.0"/><use href="#m1" x="352.0" y="1213.5"/><use href="#m1" x="353.9" y="1209.2"/><use href="#m1" x="355.8" y="1205.0"/><use href="#m1" x="357.7" y="1200.9"/><use href="#m1" x="359.6" y="1196.9"/><use href="#m1" x="361.5" y="1193.1"/><use href="#m1" x="363.4" y="1189.4"/><use href="#m1" x="365.3" y="1185.8"/><use href="#m1" x="367.2" y="1182.2"/><use href="#m1" x="369.1" y="1178.8"/><use href="#m1" x="371.0" y="1175.3"/><use href="#m1" x="372.9" y="1171.8"/><use href="#m1" x="374.8" y="1168.3"/><use href="#m1" x="376.7" y="1164.5"/><use href="#m1" x="378.6" y="1160.6"/><use href="#m1" x="380.5" y="1156.3"/><use href="#m1" x="382.4" y="1151.6"/><use href="#m1" x="384.3" y="1146.4"/><use href="#m1" x="386.2" y="1140.7"/><use href="#m1" x="388.1" y="1134.3"/><use href="#m1" x="390.0" y="1127.0"/><use href="#m1" x="391.9" y="1118.8"/><use href="#m1" x="393.8" y="1109.5"/><use href="#m1" x="395.7" y="1099.0"/><use href="#m1" x="397.6" y="1087.7"/><use href="#m1" x="399.5" y="1076.0"/><use href="#m1" x="401.4" y="1064.3"/><use href="#m1" x="403.3" y="1052.6"/><use href="#m1" x="405.2" y="1040.7"/><use href="#m1" x="407.1" y="1028.9"/><use href="#m1" x="409.0" y="1017.0"/><use href="#m1" x="410.9" y="1005.2"/><use href="#m1" x="412.8" y="993.3"/><use href="#m1" x="414.7" y="981.5"/><use href="#m1" x="416.6" y="969.8"/><use href="#m1" x="418.5" y="958.1"/><use href="#m1" x="420.4" y="946.5"/><use href="#m1" x="422.3" y="934.8"/><use href="#m1" x="424.2" y="923.2"/><use href="#m1" x="426.1" y="911.3"/><use href="#m1" x="428.0" y="899.1"/><use href="#m1" x="429.9" y="886.4"/><use href="#m1" x="431.8" y="873.2"/><use href="#m1" x="433.7" y="860.9"/><use href="#m1" x="435.6" y="851.7"/><use href="#m1" x="437.5" y="844.8"/><use href="#m1" x="439.4" y="839.3"/><use href="#m1" x="441.3" y="834.9"/><use href="#m1" x="443.2" y="831.1"/><use href="#m1" x="445.1" y="827.9"/><use href="#m1" x="447.0" y="825.0"/><use href="#m1" x="448.9" y="822.4"/><use href="#m1" x="450.8" y="820.1"/><use href="#m1" x="452.7" y="818.0"/><use href="#m1" x="454.6" y="816.2"/><use href="#m1" x="456.5" y="814.5"/><use href="#m1" x="458.4" y="812.9"/><use href="#m1" x="460.3" y="811.6"/><use href="#m1" x="462.2" y="810.4"/><use href="#m1" x="464.1" y="809.3"/><use href="#m1" x="466.0" y="808.3"/><use href="#m1" x="467.9" y="807.5"/><use href="#m1" x="469.8" y="806.8"/><use href="#m1" x="471.7" y="806.3"/><use href="#m1" x="473.6" y="805.8"/><use href="#m1" x="475.5" y="805.5"/><use href="#m1" x="477.4" y="805.3"/><use href="#m1" x="479.3" y="805.1"/><use href="#m1" x="481.2" y="805.0"/><use href="#m1" x="483.1" y="805.1"/><use href="#m1" x="485.0" y="805.2"/><use href="#m1" x="486.9" y="805.3"/><use href="#m1" x="488.8" y="805.5"/><use href="#m1" x="490.7" y="805.8"/><use href="#m1" x="492.6" y="806.2"/><use href="#m1" x="494.5" y="806.6"/><use href="#m1" x="496.4" y="807.1"/><use href="#m1" x="498.3" y="807.6"/><use href="#m1" x="500.2" y="808.1"/><use href="#m1" x="502.1" y="808.8"/><use href="#m1" x="504.0" y="809.5"/><use href="#m1" x="505.9" y="810.2"/><use href="#m1" x="507.8" y="811.0"/><use href="#m1" x="509.7" y="811.8"/><use href="#m1" x="511.6" y="812.7"/><use href="#m1" x="513.5" y="813.7"/><use href="#m1" x="515.4" y="814.7"/><use href="#m1" x="517.3" y="815.8"/><use href="#m1" x="519.2" y="817.0"/><use href="#m1" x="521.1" y="818.2"/><use href="#m1" x="523.0" y="819.4"/><use href="#m1" x="524.9" y="820.8"/><use href="#m1" x="526.8" y="822.1"/><use href="#m1" x="528.7" y="823.6"/><use href="#m1" x="530.6" y="825.1"/><use href="#m1" x="532.5" y="826.7"/><use href="#m1" x="534.4" y="828.3"/><use href="#m1" x="536.3" y="830.0"/><use href="#m1" x="538.2" y="831.7"/><use href="#m1" x="540.1" y="833.5"/><use href="#m1" x="542.0" y="835.3"/><use href="#m1" x="543.9" y="837.2"/><use href="#m1" x="545.8" y="839.1"/><use href="#m1" x="547.7" y="841.1"/><use href="#m1" x="549.6" y="843.1"/><use href="#m1" x="551.5" y="845.1"/><use href="#m1" x="553.4" y="847.2"/><use href="#m1" x="555.3" y="849.2"/><use href="#m1" x="557.2" y="851.3"/><use href="#m1" x="559.1" y="853.4"/><use href="#m1" x="561.0" y="855.5"/><use href="#m1" x="562.9" y="857.6"/><use href="#m1" x="564.8" y="859.7"/><use href="#m1" x="566.7" y="861.8"/><use href="#m1" x="568.6" y="863.8"/><use href="#m1" x="570.5" y="865.9"/><use href="#m1" x="572.4" y="867.9"/><use href="#m1" x="574.3" y="869.9"/><use href="#m1" x="576.2" y="871.9"/><use href="#m1" x="578.1" y="873.9"/><use href="#m1" x="580.0" y="875.9"/><use href="#m1" x="581.9" y="877.9"/><use href="#m1" x="583.8" y="879.8"/><use href="#m1" x="585.7" y="881.8"/><use href="#m1" x="587.6" y="883.7"/><use href="#m1" x="589.5" y="885.6"/><use href="#m1" x="591.4" y="887.5"/><use href="#m1" x="593.3" y="889.4"/><use href="#m1" x="595.2" y="891.3"/><use href="#m1" x="597.1" y="893.2"/><use href="#m1" x="599.0" y="895.0"/><use href="#m1" x="600.9" y="896.9"/><use href="#m1" x="602.8" y="898.7"/><use href="#m1" x="604.7" y="900.5"/><use href="#m1" x="606.6" y="902.3"/><use href="#m1" x="608.5" y="904.1"/><use href="#m1" x="610.4" y="905.9"/><use href="#m1" x="612.3" y="907.6"/><use href="#m1" x="614.2" y="909.4"/><use href="#m1" x="616.1" y="911.1"/><use href="#m1" x="618.0" y="912.9"/><use href="#m1" x="619.9" y="914.6"/><use href="#m1" x="621.8" y="916.3"/><use href="#m1" x="623.7" y="918.0"/><use href="#m1" x="625.6" y="919.7"/><use href="#m1" x="627.5" y="921.4"/><use href="#m1" x="629.4" y="923.0"/><use href="#m1" x="631.3" y="924.7"/><use href="#m1" x="633.2" y="926.3"/><use href="#m1" x="635.1" y="928.0"/><use href="#m1" x="637.0" y="929.6"/><use href="#m1" x="638.9" y="931.2"/><use href="#m1" x="640.8" y="932.8"/><use href="#m1" x="642.7" y="934.4"/><use href="#m1" x="644.6" y="936.0"/><use href="#m1" x="646.5" y="937.5"/><use href="#m1" x="648.4" y="939.1"/><use href="#m1" x="650.3" y="940.7"/><use href="#m1" x="652.2" y="942.2"/><use href="#m1" x="654.1" y="943.7"/><use href="#m1" x="656.0" y="945.3"/><use href="#m1" x="657.9" y="946.8"/><use href="#m1" x="659.8" y="948.3"/><use href="#m1" x="661.7" y="949.8"/><use href="#m1" x="663.6" y="951.3"/><use href="#m1" x="665.5" y="952.8"/><use href="#m1" x="667.4" y="954.2"/><use href="#m1" x="669.3" y="955.7"/><use href="#m1" x="671.2" y="957.2"/><use href="#m1" x="673.1" y="958.6"/><use href="#m1" x="675.0" y="960.0"/><use href="#m1" x="676.9" y="961.5"/><use href="#m1" x="678.8" y="962.9"/><use href="#m1" x="680.7" y="964.3"/><use href="#m1" x="682.6" y="965.7"/><use href="#m1" x="684.5" y="967.1"/><use href="#m1" x="686.4" y="968.5"/><use href="#m1" x="688.3" y="969.9"/><use href="#m1" x="690.2" y="971.3"/><use href="#m1" x="692.1" y="972.6"/><use href="#m1" x="694.0" y="974.0"/><use href="#m1" x="695.9" y="975.4"/><use href="#m1" x="697.8" y="976.7"/><use href="#m1" x="699.7" y="978.0"/><use href="#m1" x="701.6" y="979.4"/><use href="#m1" x="703.5" y="980.7"/><use href="#m1" x="705.4" y="982.0"/><use href="#m1" x="707.3" y="983.3"/><use href="#m1" x="709.2" y="984.6"/><use href="#m1" x="711.1" y="985.9"/><use href="#m1" x="713.0" y="987.2"/><use href="#m1" x="714.9" y="988.5"/><use href="#m1" x="716.8" y="989.8"/><use href="#m1" x="718.7" y="991.1"/><use href="#m1" x="720.6" y="992.3"/><use href="#m1" x="722.5" y="993.6"/><use href="#m1" x="724.4" y="994.8"/><use href="#m1" x="726.3" y="996.1"/><use href="#m1" x="728.2" y="997.3"/><use href="#m1" x="730.1" y="998.6"/><use href="#m1" x="732.0" y="999.8"/><use href="#m1" x="733.9" y="1001.0"/><use href="#m1" x="735.8" y="1002.2"/><use href="#m1" x="737.7" y="1003.5"/><use href="#m1" x="739.6" y="1004.7"/><use href="#m1" x="741.5" y="1005.9"/><use href="#m1" x="743.4" y="1007.1"/><use href="#m1" x="745.3" y="1008.2"/><use href="#m1" x="747.2" y="1009.4"/><use href="#m1" x="749.1" y="1010.6"/><use href="#m1" x="751.0" y="1011.8"/><use href="#m1" x="752.9" y="1012.9"/><use href="#m1" x="754.8" y="1014.1"/><use href="#m1" x="756.7" y="1015.3"/><use href="#m1" x="758.6" y="1016.4"/><use href="#m1" x="760.5" y="1017.6"/><use href="#m1" x="762.4" y="1018.7"/><use href="#m1" x="764.3" y="1019.8"/><use href="#m1" x="766.2" y="1021.0"/><use href="#m1" x="768.1" y="1022.1"/><use href="#m1" x="770.0" y="1023.2"/><use href="#m1" x="771.9" y="1024.3"/><use href="#m1" x="773.8" y="1025.4"/><use href="#m1" x="775.7" y="1026.5"/><use href="#m1" x="777.6" y="1027.6"/><use href="#m1" x="779.5" y="1028.6"/><use href="#m1" x="781.4" y="1029.7"/><use href="#m1" x="783.3" y="1030.7"/><use href="#m1" x="785.2" y="1031.7"/><use href="#m1" x="787.1" y="1032.8"/><use href="#m1" x="789.0" y="1033.7"/><use href="#m1" x="790.9" y="1034.7"/><use href="#m1" x="792.8" y="1035.7"/><use href="#m1" x="794.7" y="1036.6"/><use href="#m1" x="796.6" y="1037.5"/><use href="#m1" x="798.5" y="1038.4"/><use href="#m1" x="800.4" y="1039.2"/><use href="#m1" x="802.3" y="1040.1"/><use href="#m1" x="804.2" y="1040.9"/><use href="#m1" x="806.1" y="1041.7"/><use href="#m1" x="808.0" y="1042.4"/><use href="#m1" x="809.9" y="1043.2"/><use href="#m1" x="811.8" y="1043.9"/><use href="#m1" x="813.7" y="1044.6"/><use href="#m1" x="815.6" y="1045.2"/><use href="#m1" x="817.5" y="1045.9"/><use href="#m1" x="819.4" y="1046.5"/><use href="#m1" x="821.3" y="1047.0"/><use href="#m1" x="823.2" y="1047.6"/><use href="#m1" x="825.1" y="1048.1"/><use href="#m1" x="827.0" y="1048.5"/><use href="#m1" x="828.9" y="1049.0"/><use href="#m1" x="830.8" y="1049.4"/><use href="#m1" x="832.7" y="1049.8"/><use href="#m1" x="834.6" y="1050.1"/><use href="#m1" x="836.5" y="1050.4"/><use href="#m1" x="838.4" y="1050.7"/><use href="#m1" x="840.3" y="1051.0"/><use href="#m1" x="842.2" y="1051.2"/><use href="#m1" x="844.1" y="1051.4"/><use href="#m1" x="846.0" y="1051.5"/><use href="#m1" x="847.9" y="1051.6"/><use href="#m1" x="849.8" y="1051.7"/><use href="#m1" x="851.7" y="1051.7"/><use href="#m1" x="853.6" y="1051.6"/><use href="#m1" x="855.5" y="1051.6"/><use href="#m1" x="857.4" y="1051.4"/><use href="#m1" x="859.3" y="1051.2"/><use href="#m1" x="861.2" y="1050.9"/><use href="#m1" x="863.1" y="1050.5"/><use href="#m1" x="865.0" y="1050.1"/><use href="#m1" x="866.9" y="1049.5"/><use href="#m1" x="868.8" y="1048.9"/><use href="#m1" x="870.7" y="1048.1"/><use href="#m1" x="872.6" y="1047.3"/><use href="#m1" x="874.5" y="1046.4"/><use href="#m1" x="876.4" y="1045.4"/><use href="#m1" x="878.3" y="1044.3"/><use href="#m1" x="880.2" y="1043.1"/><use href="#m1" x="882.1" y="1041.8"/><use href="#m1" x="884.0" y="1040.4"/><use href="#m1" x="885.9" y="1038.9"/><use href="#m1" x="887.8" y="1037.2"/><use href="#m1" x="889.7" y="1035.5"/><use href="#m1" x="891.6" y="1033.6"/><use href="#m1" x="893.5" y="1031.7"/><use href="#m1" x="895.4" y="1029.6"/><use href="#m1" x="897.3" y="1027.4"/><use href="#m1" x="899.2" y="1025.0"/><use href="#m1" x="901.1" y="1022.5"/><use href="#m1" x="903.0" y="1019.8"/><use href="#m1" x="904.9" y="1017.0"/><use href="#m1" x="906.8" y="1014.0"/><use href="#m1" x="908.7" y="1010.9"/><use href="#m1" x="910.6" y="1007.6"/><use href="#m1" x="912.5" y="1004.3"/><use href="#m1" x="914.4" y="1000.8"/><use href="#m1" x="916.3" y="997.4"/><use href="#m1" x="918.2" y="994.0"/><use href="#m1" x="920.1" y="990.7"/><use href="#m1" x="922.0" y="987.6"/><use href="#m1" x="923.9" y="984.5"/><use href="#m1" x="925.8" y="981.6"/><use href="#m1" x="927.7" y="978.9"/><use href="#m1" x="929.6" y="976.3"/><use href="#m1" x="931.5" y="973.9"/><use href="#m1" x="933.4" y="971.6"/><use href="#m1" x="935.3" y="969.4"/><use href="#m1" x="937.2" y="967.4"/><use href="#m1" x="939.1" y="965.5"/><use href="#m1" x="941.0" y="963.7"/><use href="#m1" x="942.9" y="962.1"/><use href="#m1" x="944.8" y="960.6"/><use href="#m1" x="946.7" y="959.3"/><use href="#m1" x="948.6" y="958.1"/><use href="#m1" x="950.5" y="957.1"/><use href="#m1" x="952.4" y="956.2"/><use href="#m1" x="954.3" y="955.4"/><use href="#m1" x="956.2" y="954.8"/><use href="#m1" x="958.1" y="954.3"/><use href="#m1" x="960.0" y="954.0"/><use href="#m1" x="961.9" y="953.9"/><use href="#m1" x="963.8" y="953.9"/><use href="#m1" x="965.7" y="954.1"/><use href="#m1" x="967.6" y="954.4"/><use href="#m1" x="969.5" y="954.9"/><use href="#m1" x="971.4" y="955.4"/><use href="#m1" x="973.3" y="956.2"/><use href="#m1" x="975.2" y="957.0"/><use href="#m1" x="977.1" y="957.9"/><use href="#m1" x="979.0" y="959.0"/><use href="#m1" x="980.9" y="960.2"/><use href="#m1" x="982.8" y="961.5"/><use href="#m1" x="984.7" y="962.9"/><use href="#m1" x="986.6" y="964.4"/><use href="#m1" x="988.5" y="966.1"/><use href="#m1" x="990.4" y="967.9"/><use href="#m1" x="992.3" y="969.8"/><use href="#m1" x="994.2" y="972.0"/><use href="#m1" x="996.1" y="974.3"/><use href="#m1" x="998.0" y="976.8"/><use href="#m1" x="999.9" y="979.5"/><use href="#m1" x="1001.8" y="982.5"/><use href="#m1" x="1003.7" y="985.7"/><use href="#m1" x="1005.6" y="989.2"/><use href="#m1" x="1007.5" y="992.9"/><use href="#m1" x="1009.4" y="997.0"/><use href="#m1" x="1011.3" y="1001.2"/><use href="#m1" x="1013.2" y="1005.8"/><use href="#m1" x="1015.1" y="1010.5"/><use href="#m1" x="1017.0" y="1015.3"/><use href="#m1" x="1018.9" y="1020.2"/><use href="#m1" x="1020.8" y="1025.1"/><use href="#m1" x="1022.7" y="1029.8"/><use href="#m1" x="1024.6" y="1034.4"/><use href="#m1" x="1026.5" y="1038.9"/><use href="#m1" x="1028.4" y="1043.2"/><use href="#m1" x="1030.3" y="1047.5"/><use href="#m1" x="1032.2" y="1051.7"/><use href="#m1" x="1034.1" y="1055.8"/><use href="#m1" x="1036.0" y="1059.9"/><use href="#m1" x="1037.9" y="1064.0"/><use href="#m1" x="1039.8" y="1068.1"/><use href="#m1" x="1041.7" y="1072.2"/><use href="#m1" x="1043.6" y="1076.4"/><use href="#m1" x="1045.5" y="1080.5"/><use href="#m1" x="1047.4" y="1084.7"/><use href="#m1" x="1049.3" y="1089.0"/><use href="#m1" x="1051.2" y="1093.4"/><use href="#m1" x="1053.1" y="1097.9"/><use href="#m1" x="1055.0" y="1102.5"/><use href="#m1" x="1056.9" y="1107.2"/><use href="#m1" x="1058.8" y="1112.0"/><use href="#m1" x="1060.7" y="1116.9"/><use href="#m1" x="1062.6" y="1121.9"/><use href="#m1" x="1064.5" y="1127.0"/><use href="#m1" x="1066.4" y="1132.2"/><use href="#m1" x="1068.3" y="1137.5"/><use href="#m1" x="1070.2" y="1143.0"/><use href="#m1" x="1072.1" y="1148.6"/><use href="#m1" x="1074.0" y="1154.3"/><use href="#m1" x="1075.9" y="1160.1"/><use href="#m1" x="1077.8" y="1166.1"/><use href="#m1" x="1079.7" y="1172.2"/><use href="#m1" x="1081.6" y="1178.4"/><use href="#m1" x="1083.5" y="1184.8"/><use href="#m1" x="1085.4" y="1191.3"/><use href="#m1" x="1087.3" y="1198.0"/><use href="#m1" x="1089.2" y="1204.8"/><use href="#m1" x="1091.1" y="1211.7"/><use href="#m1" x="1093.0" y="1218.8"/><use href="#m1" x="1094.9" y="1226.0"/><use href="#m1" x="1096.8" y="1233.4"/><use href="#m1" x="1098.7" y="1240.9"/><use href="#m1" x="1100.6" y="1248.5"/><use href="#m1" x="1102.5" y="1256.3"/><use href="#m1" x="1104.4" y="1264.2"/><use href="#m1" x="1106.3" y="1272.2"/><use href="#m1" x="1108.2" y="1280.3"/><use href="#m1" x="1110.1" y="1288.5"/><use href="#m1" x="1112.0" y="1296.7"/><use href="#m1" x="1113.9" y="1304.9"/><use href="#m1" x="1115.8" y="1313.1"/><use href="#m1" x="1117.7" y="1321.3"/><use href="#m1" x="1119.6" y="1329.4"/><use href="#m1" x="1121.5" y="1337.4"/><use href="#m1" x="1123.4" y="1345.3"/><use href="#m1" x="1125.3" y="1353.0"/><use href="#m1" x="1127.2" y="1360.5"/><use href="#m1" x="1129.1" y="1367.9"/><use href="#m1" x="1131.0" y="1375.0"/><use href="#m1" x="1132.9" y="1382.0"/><use href="#m1" x="1134.8" y="1388.8"/><use href="#m1" x="1136.7" y="1395.4"/><use href="#m1" x="1138.6" y="1401.8"/><use href="#m1" x="1140.5" y="1408.1"/><use href="#m1" x="1142.4" y="1414.1"/><use href="#m1" x="1144.3" y="1420.0"/><use href="#m1" x="1146.2" y="1425.7"/><use href="#m1" x="1148.1" y="1431.3"/><use href="#m1" x="1150.0" y="1436.6"/><use href="#m1" x="1151.9" y="1441.8"/><use href="#m1" x="1153.8" y="1446.6"/><use href="#m1" x="1155.7" y="1451.0"/><use href="#m1" x="1157.6" y="1455.0"/><use href="#m1" x="1159.5" y="1458.5"/><use href="#m1" x="1161.4" y="1461.6"/><use href="#m1" x="1163.3" y="1464.3"/><use href="#m1" x="1165.2" y="1466.8"/><use href="#m1" x="1167.1" y="1468.9"/><use href="#m1" x="1169.0" y="1470.8"/><use href="#m1" x="1170.9" y="1472.4"/><use href="#m1" x="1172.8" y="1473.9"/><use href="#m1" x="1174.7" y="1475.2"/><use href="#m1" x="1176.6" y="1476.3"/><use href="#m1" x="1178.5" y="1477.2"/><use href="#m1" x="1180.4" y="1478.1"/><use href="#m1" x="1182.3" y="1478.8"/><use href="#m1" x="1184.2" y="1479.4"/><use href="#m1" x="1186.1" y="1479.9"/><use href="#m1" x="1188.0" y="1480.4"/><use href="#m1" x="1189.9" y="1480.8"/><use href="#m1" x="1191.8" y="1481.1"/><use href="#m1" x="1193.7" y="1481.4"/><use href="#m1" x="1195.6" y="1481.5"/><use href="#m1" x="1197.5" y="1481.5"/><use href="#m1" x="1199.4" y="1481.5"/><use href="#m1" x="1201.3" y="1481.5"/><use href="#m1" x="1203.2" y="1481.5"/><use href="#m1" x="1205.1" y="1481.5"/><use href="#m1" x="1207.0" y="1481.5"/><use href="#m1" x="1208.9" y="1481.5"/><use href="#m1" x="1210.8" y="1481.5"/><use href="#m1" x="1212.7" y="1481.5"/><use href="#m1" x="1214.6" y="1481.5"/><use href="#m1" x="1216.5" y="1481.5"/><use href="#m1" x="1218.4" y="1481.5"/><use href="#m1" x="1220.3" y="1481.5"/><use href="#m1" x="1222.2" y="1481.5"/><use href="#m1" x="1224.1" y="1481.5"/><use href="#m1" x="1226.0" y="1481.5"/><use href="#m1" x="1227.9" y="1481.5"/><use href="#m1" x="1229.8" y="1481.5"/></g>
<g><use href="#m2" x="345.0" y="1479.0"/><use href="#m2" x="347.3" y="1472.8"/><use href="#m2" x="349.6" y="1470.9"/><use href="#m2" x="351.9" y="1467.2"/><use href="#m2" x="354.2" y="1467.4"/><use href="#m2" x="356.5" y="1462.8"/><use href="#m2" x="358.8" y="1459.8"/><use href="#m2" x="361.1" y="1456.3"/><use href="#m2" x="363.4" y="1454.3"/><use href="#m2" x="365.7" y="1451.0"/><use href="#m2" x="368.0" y="1445.1"/><use href="#m2" x="370.3" y="1444.0"/><use href="#m2" x="372.6" y="1436.7"/><use href="#m2" x="374.9" y="1431.7"/><use href="#m2" x="377.2" y="1426.8"/><use href="#m2" x="379.5" y="1422.4"/><use href="#m2" x="381.8" y="1416.9"/><use href="#m2" x="384.1" y="1415.8"/><use href="#m2" x="386.4" y="1412.5"/><use href="#m2" x="388.7" y="1410.2"/><use href="#m2" x="391.0" y="1406.4"/><use href="#m2" x="393.3" y="1402.9"/><use href="#m2" x="395.6" y="1403.5"/><use href="#m2" x="397.9" y="1395.4"/><use href="#m2" x="400.2" y="1389.2"/><use href="#m2" x="402.5" y="1381.0"/><use href="#m2" x="404.8" y="1376.9"/><use href="#m2" x="407.1" y="1378.8"/><use href="#m2" x="409.4" y="1375.9"/><use href="#m2" x="411.7" y="1371.2"/><use href="#m2" x="414.0" y="1365.2"/><use href="#m2" x="416.3" y="1362.5"/><use href="#m2" x="418.6" y="1362.4"/><use href="#m2" x="420.9" y="1357.0"/><use href="#m2" x="423.2" y="1356.9"/><use href="#m2" x="425.5" y="1357.1"/><use href="#m2" x="427.8" y="1357.8"/><use href="#m2" x="430.1" y="1353.8"/><use href="#m2" x="432.4" y="1353.1"/><use href="#m2" x="434.7" y="1353.8"/><use href="#m2" x="437.0" y="1344.5"/><use href="#m2" x="439.3" y="1333.7"/><use href="#m2" x="441.6" y="1321.0"/><use href="#m2" x="443.9" y="1315.1"/><use href="#m2" x="446.2" y="1312.3"/><use href="#m2" x="448.5" y="1308.1"/><use href="#m2" x="450.8" y="1302.0"/><use href="#m2" x="453.1" y="1297.5"/><use href="#m2" x="455.4" y="1294.2"/><use href="#m2" x="457.7" y="1286.4"/><use href="#m2" x="460.0" y="1278.6"/><use href="#m2" x="462.3" y="1274.5"/><use href="#m2" x="464.6" y="1266.9"/><use href="#m2" x="466.9" y="1262.7"/><use href="#m2" x="469.2" y="1259.4"/><use href="#m2" x="471.5" y="1251.1"/><use href="#m2" x="473.8" y="1244.3"/><use href="#m2" x="476.1" y="1239.1"/><use href="#m2" x="478.4" y="1228.0"/><use href="#m2" x="480.7" y="1218.5"/><use href="#m2" x="483.0" y="1207.7"/><use href="#m2" x="485.3" y="1195.8"/><use href="#m2" x="487.6" y="1188.0"/><use href="#m2" x="489.9" y="1185.1"/><use href="#m2" x="492.2" y="1183.0"/><use href="#m2" x="494.5" y="1179.7"/><use href="#m2" x="496.8" y="1178.3"/><use href="#m2" x="499.1" y="1175.1"/><use href="#m2" x="501.4" y="1168.9"/><use href="#m2" x="503.7" y="1168.4"/><use href="#m2" x="506.0" y="1166.2"/><use href="#m2" x="508.3" y="1164.9"/><use href="#m2" x="510.6" y="1161.7"/><use href="#m2" x="512.9" y="1159.9"/><use href="#m2" x="515.2" y="1155.7"/><use href="#m2" x="517.5" y="1148.8"/><use href="#m2" x="519.8" y="1142.0"/><use href="#m2" x="522.1" y="1136.5"/><use href="#m2" x="524.4" y="1132.0"/><use href="#m2" x="526.7" y="1130.6"/><use href="#m2" x="529.0" y="1126.8"/><use href="#m2" x="531.3" y="1120.6"/><use href="#m2" x="533.6" y="1117.8"/><use href="#m2" x="535.9" y="1116.1"/><use href="#m2" x="538.2" y="1114.3"/><use href="#m2" x="540.5" y="1111.8"/><use href="#m2" x="542.8" y="1107.6"/><use href="#m2" x="545.1" y="1105.5"/><use href="#m2" x="547.4" y="1108.6"/><use href="#m2" x="549.7" y="1108.1"/><use href="#m2" x="552.0" y="1105.5"/><use href="#m2" x="554.3" y="1105.6"/><use href="#m2" x="556.6" y="1103.6"/><use href="#m2" x="558.9" y="1101.6"/><use href="#m2" x="561.2" y="1098.7"/><use href="#m2" x="563.5" y="1098.4"/><use href="#m2" x="565.8" y="1099.4"/><use href="#m2" x="568.1" y="1099.7"/><use href="#m2" x="570.4" y="1099.4"/><use href="#m2" x="572.7" y="1098.1"/><use href="#m2" x="575.0" y="1094.8"/><use href="#m2" x="577.3" y="1093.9"/><use href="#m2" x="579.6" y="1095.5"/><use href="#m2" x="581.9" y="1097.8"/><use href="#m2" x="584.2" y="1096.6"/><use href="#m2" x="586.5" y="1096.2"/><use href="#m2" x="588.8" y="1095.6"/><use href="#m2" x="591.1" y="1090.8"/><use href="#m2" x="593.4" y="1090.2"/><use href="#m2" x="595.7" y="1094.5"/><use href="#m2" x="598.0" y="1095.6"/><use href="#m2" x="600.3" y="1092.9"/><use href="#m2" x="602.6" y="1094.3"/><use href="#m2" x="604.9" y="1091.2"/><use href="#m2" x="607.2" y="1090.6"/><use href="#m2" x="609.5" y="1092.0"/><use href="#m2" x="611.8" y="1093.2"/><use href="#m2" x="614.1" y="1091.8"/><use href="#m2" x="616.4" y="1090.9"/><use href="#m2" x="618.7" y="1092.1"/><use href="#m2" x="621.0" y="1091.7"/><use href="#m2" x="623.3" y="1088.2"/><use href="#m2" x="625.6" y="1090.3"/><use href="#m2" x="627.9" y="1088.6"/><use href="#m2" x="630.2" y="1084.5"/><use href="#m2" x="632.5" y="1081.4"/><use href="#m2" x="634.8" y="1078.2"/><use href="#m2" x="637.1" y="1078.3"/><use href="#m2" x="639.4" y="1074.3"/><use href="#m2" x="641.7" y="1074.4"/><use href="#m2" x="644.0" y="1072.9"/><use href="#m2" x="646.3" y="1069.7"/><use href="#m2" x="648.6" y="1070.7"/><use href="#m2" x="650.9" y="1068.7"/><use href="#m2" x="653.2" y="1067.1"/><use href="#m2" x="655.5" y="1070.9"/><use href="#m2" x="657.8" y="1076.0"/><use href="#m2" x="660.1" y="1084.9"/><use href="#m2" x="662.4" y="1086.7"/><use href="#m2" x="664.7" y="1090.6"/><use href="#m2" x="667.0" y="1096.1"/><use href="#m2" x="669.3" y="1102.6"/><use href="#m2" x="671.6" y="1104.1"/><use href="#m2" x="673.9" y="1105.4"/><use href="#m2" x="676.2" y="1106.8"/><use href="#m2" x="678.5" y="1105.1"/><use href="#m2" x="680.8" y="1103.8"/><use href="#m2" x="683.1" y="1107.3"/><use href="#m2" x="685.4" y="1105.7"/><use href="#m2" x="687.7" y="1108.0"/><use href="#m2" x="690.0" y="1107.3"/><use href="#m2" x="692.3" y="1104.8"/><use href="#m2" x="694.6" y="1102.3"/><use href="#m2" x="696.9" y="1100.4"/><use href="#m2" x="699.2" y="1099.4"/><use href="#m2" x="701.5" y="1100.2"/><use href="#m2" x="703.8" y="1103.2"/><use href="#m2" x="706.1" y="1101.4"/><use href="#m2" x="708.4" y="1101.7"/><use href="#m2" x="710.7" y="1102.7"/><use href="#m2" x="713.0" y="1107.8"/><use href="#m2" x="715.3" y="1107.4"/><use href="#m2" x="717.6" y="1112.9"/><use href="#m2" x="719.9" y="1116.0"/><use href="#m2" x="722.2" y="1123.8"/><use href="#m2" x="724.5" y="1134.0"/><use href="#m2" x="726.8" y="1137.9"/><use href="#m2" x="729.1" y="1139.3"/><use href="#m2" x="731.4" y="1139.6"/><use href="#m2" x="733.7" y="1138.2"/><use href="#m2" x="736.0" y="1138.7"/><use href="#m2" x="738.3" y="1140.5"/><use href="#m2" x="740.6" y="1140.6"/><use href="#m2" x="742.9" y="1140.4"/><use href="#m2" x="745.2" y="1138.6"/><use href="#m2" x="747.5" y="1138.1"/><use href="#m2" x="749.8" y="1138.1"/><use href="#m2" x="752.1" y="1141.9"/><use href="#m2" x="754.4" y="1141.6"/><use href="#m2" x="756.7" y="1147.4"/><use href="#m2" x="759.0" y="1152.2"/><use href="#m2" x="761.3" y="1154.3"/><use href="#m2" x="763.6" y="1153.5"/><use href="#m2" x="765.9" y="1150.2"/><use href="#m2" x="768.2" y="1142.3"/><use href="#m2" x="770.5" y="1136.5"/><use href="#m2" x="772.8" y="1131.4"/><use href="#m2" x="775.1" y="1128.2"/><use href="#m2" x="777.4" y="1125.0"/><use href="#m2" x="779.7" y="1122.1"/><use href="#m2" x="782.0" y="1119.6"/><use href="#m2" x="784.3" y="1118.9"/><use href="#m2" x="786.6" y="1120.3"/><use href="#m2" x="788.9" y="1124.0"/><use href="#m2" x="791.2" y="1125.9"/><use href="#m2" x="793.5" y="1129.2"/><use href="#m2" x="795.8" y="1130.3"/><use href="#m2" x="798.1" y="1132.6"/><use href="#m2" x="800.4" y="1137.5"/><use href="#m2" x="802.7" y="1143.9"/><use href="#m2" x="805.0" y="1147.9"/><use href="#m2" x="807.3" y="1150.7"/><use href="#m2" x="809.6" y="1152.5"/><use href="#m2" x="811.9" y="1153.1"/><use href="#m2" x="814.2" y="1156.7"/><use href="#m2" x="816.5" y="1152.9"/><use href="#m2" x="818.8" y="1150.2"/><use href="#m2" x="821.1" y="1143.5"/><use href="#m2" x="823.4" y="1138.5"/><use href="#m2" x="825.7" y="1132.0"/><use href="#m2" x="828.0" y="1128.5"/><use href="#m2" x="830.3" y="1123.1"/><use href="#m2" x="832.6" y="1121.1"/><use href="#m2" x="834.9" y="1121.2"/><use href="#m2" x="837.2" y="1120.0"/><use href="#m2" x="839.5" y="1120.4"/><use href="#m2" x="841.8" y="1120.1"/><use href="#m2" x="844.1" y="1120.3"/><use href="#m2" x="846.4" y="1122.0"/><use href="#m2" x="848.7" y="1120.9"/><use href="#m2" x="851.0" y="1121.0"/><use href="#m2" x="853.3" y="1121.1"/><use href="#m2" x="855.6" y="1123.9"/><use href="#m2" x="857.9" y="1123.8"/><use href="#m2" x="860.2" y="1123.6"/><use href="#m2" x="862.5" y="1124.1"/><use href="#m2" x="864.8" y="1122.3"/><use href="#m2" x="867.1" y="1123.9"/><use href="#m2" x="869.4" y="1127.4"/><use href="#m2" x="871.7" y="1129.0"/><use href="#m2" x="874.0" y="1128.7"/><use href="#m2" x="876.3" y="1127.2"/><use href="#m2" x="878.6" y="1130.0"/><use href="#m2" x="880.9" y="1133.3"/><use href="#m2" x="883.2" y="1137.7"/><use href="#m2" x="885.5" y="1140.8"/><use href="#m2" x="887.8" y="1140.3"/><use href="#m2" x="890.1" y="1142.1"/><use href="#m2" x="892.4" y="1145.7"/><use href="#m2" x="894.7" y="1142.3"/><use href="#m2" x="897.0" y="1143.7"/><use href="#m2" x="899.3" y="1140.1"/><use href="#m2" x="901.6" y="1141.0"/><use href="#m2" x="903.9" y="1138.5"/><use href="#m2" x="906.2" y="1139.5"/><use href="#m2" x="908.5" y="1139.1"/><use href="#m2" x="910.8" y="1143.2"/><use href="#m2" x="913.1" y="1141.3"/><use href="#m2" x="915.4" y="1146.5"/><use href="#m2" x="917.7" y="1144.6"/><use href="#m2" x="920.0" y="1145.7"/><use href="#m2" x="922.3" y="1146.7"/><use href="#m2" x="924.6" y="1146.2"/><use href="#m2" x="926.9" y="1149.4"/><use href="#m2" x="929.2" y="1152.4"/><use href="#m2" x="931.5" y="1149.2"/><use href="#m2" x="933.8" y="1149.7"/><use href="#m2" x="936.1" y="1146.0"/><use href="#m2" x="938.4" y="1141.8"/><use href="#m2" x="940.7" y="1143.0"/><use href="#m2" x="943.0" y="1144.7"/><use href="#m2" x="945.3" y="1145.9"/><use href="#m2" x="947.6" y="1145.5"/><use href="#m2" x="949.9" y="1149.5"/><use href="#m2" x="952.2" y="1148.1"/><use href="#m2" x="954.5" y="1149.8"/><use href="#m2" x="956.8" y="1149.9"/><use href="#m2" x="959.1" y="1152.6"/><use href="#m2" x="961.4" y="1156.3"/><use href="#m2" x="963.7" y="1158.2"/><use href="#m2" x="966.0" y="1155.0"/><use href="#m2" x="968.3" y="1156.7"/><use href="#m2" x="970.6" y="1159.3"/><use href="#m2" x="972.9" y="1155.7"/><use href="#m2" x="975.2" y="1153.6"/><use href="#m2" x="977.5" y="1152.4"/><use href="#m2" x="979.8" y="1150.1"/><use href="#m2" x="982.1" y="1147.9"/><use href="#m2" x="984.4" y="1146.0"/><use href="#m2" x="986.7" y="1143.9"/><use href="#m2" x="989.0" y="1138.2"/><use href="#m2" x="991.3" y="1140.3"/><use href="#m2" x="993.6" y="1141.8"/><use href="#m2" x="995.9" y="1139.0"/><use href="#m2" x="998.2" y="1138.1"/><use href="#m2" x="1000.5" y="1137.9"/><use href="#m2" x="1002.8" y="1139.5"/><use href="#m2" x="1005.1" y="1139.8"/><use href="#m2" x="1007.4" y="1143.8"/><use href="#m2" x="1009.7" y="1148.4"/><use href="#m2" x="1012.0" y="1151.2"/><use href="#m2" x="1014.3" y="1145.5"/><use href="#m2" x="1016.6" y="1144.0"/><use href="#m2" x="1018.9" y="1140.0"/><use href="#m2" x="1021.2" y="1139.2"/><use href="#m2" x="1023.5" y="1137.9"/><use href="#m2" x="1025.8" y="1137.8"/><use href="#m2" x="1028.1" y="1139.9"/><use href="#m2" x="1030.4" y="1142.2"/><use href="#m2" x="1032.7" y="1146.4"/><use href="#m2" x="1035.0" y="1147.9"/><use href="#m2" x="1037.3" y="1147.1"/><use href="#m2" x="1039.6" y="1147.2"/><use href="#m2" x="1041.9" y="1148.1"/><use href="#m2" x="1044.2" y="1150.9"/><use href="#m2" x="1046.5" y="1150.9"/><use href="#m2" x="1048.8" y="1152.3"/><use href="#m2" x="1051.1" y="1151.9"/><use href="#m2" x="1053.4" y="1151.4"/><use href="#m2" x="1055.7" y="1149.8"/><use href="#m2" x="1058.0" y="1153.2"/><use href="#m2" x="1060.3" y="1151.6"/><use href="#m2" x="1062.6" y="1150.2"/><use href="#m2" x="1064.9" y="1152.0"/><use href="#m2" x="1067.2" y="1150.0"/><use href="#m2" x="1069.5" y="1150.3"/><use href="#m2" x="1071.8" y="1150.6"/><use href="#m2" x="1074.1" y="1146.4"/><use href="#m2" x="1076.4" y="1145.6"/><use href="#m2" x="1078.7" y="1139.7"/><use href="#m2" x="1081.0" y="1141.3"/><use href="#m2" x="1083.3" y="1141.0"/><use href="#m2" x="1085.6" y="1139.8"/><use href="#m2" x="1087.9" y="1137.1"/><use href="#m2" x="1090.2" y="1135.7"/><use href="#m2" x="1092.5" y="1136.3"/><use href="#m2" x="1094.8" y="1141.8"/><use href="#m2" x="1097.1" y="1138.4"/><use href="#m2" x="1099.4" y="1138.1"/><use href="#m2" x="1101.7" y="1140.6"/><use href="#m2" x="1104.0" y="1139.5"/><use href="#m2" x="1106.3" y="1138.6"/><use href="#m2" x="1108.6" y="1140.1"/><use href="#m2" x="1110.9" y="1137.1"/><use href="#m2" x="1113.2" y="1136.4"/><use href="#m2" x="1115.5" y="1134.0"/><use href="#m2" x="1117.8" y="1134.1"/><use href="#m2" x="1120.1" y="1132.6"/><use href="#m2" x="1122.4" y="1136.2"/><use href="#m2" x="1124.7" y="1133.9"/><use href="#m2" x="1127.0" y="1129.8"/><use href="#m2" x="1129.3" y="1129.8"/><use href="#m2" x="1131.6" y="1130.0"/><use href="#m2" x="1133.9" y="1126.6"/><use href="#m2" x="1136.2" y="1127.4"/><use href="#m2" x="1138.5" y="1128.7"/><use href="#m2" x="1140.8" y="1126.6"/><use href="#m2" x="1143.1" y="1128.9"/><use href="#m2" x="1145.4" y="1129.1"/><use href="#m2" x="1147.7" y="1126.6"/><use href="#m2" x="1150.0" y="1124.0"/><use href="#m2" x="1152.3" y="1121.4"/><use href="#m2" x="1154.6" y="1121.4"/><use href="#m2" x="1156.9" y="1121.0"/><use href="#m2" x="1159.2" y="1121.7"/><use href="#m2" x="1161.5" y="1122.0"/><use href="#m2" x="1163.8" y="1124.3"/><use href="#m2" x="1166.1" y="1121.5"/><use href="#m2" x="1168.4" y="1120.6"/><use href="#m2" x="1170.7" y="1122.4"/><use href="#m2" x="1173.0" y="1121.4"/><use href="#m2" x="1175.3" y="1120.4"/><use href="#m2" x="1177.6" y="1121.5"/><use href="#m2" x="1179.9" y="1123.2"/><use href="#m2" x="1182.2" y="1120.7"/><use href="#m2" x="1184.5" y="1118.5"/><use href="#m2" x="1186.8" y="1114.6"/><use href="#m2" x="1189.1" y="1115.5"/><use href="#m2" x="1191.4" y="1116.3"/><use href="#m2" x="1193.7" y="1118.2"/><use href="#m2" x="1196.0" y="1117.9"/><use href="#m2" x="1198.3" y="1119.3"/><use href="#m2" x="1200.6" y="1120.1"/><use href="#m2" x="1202.9" y="1121.1"/><use href="#m2" x="1205.2" y="1121.3"/><use href="#m2" x="1207.5" y="1123.5"/><use href="#m2" x="1209.8" y="1127.0"/><use href="#m2" x="1212.1" y="1133.2"/><use href="#m2" x="1214.4" y="1130.6"/><use href="#m2" x="1216.7" y="1131.7"/><use href="#m2" x="1219.0" y="1130.7"/><use href="#m2" x="1221.3" y="1130.0"/><use href="#m2" x="1223.6" y="1128.2"/><use href="#m2" x="1225.9" y="1130.4"/><use href="#m2" x="1228.2" y="1129.4"/><use href="#m2" x="1230.5" y="1124.8"/><use href="#m2" x="1232.8" y="1119.7"/><use href="#m2" x="1235.1" y="1115.6"/><use href="#m2" x="1237.4" y="1113.7"/><use href="#m2" x="1239.7" y="1114.2"/><use href="#m2" x="1242.0" y="1114.3"/><use href="#m2" x="1244.3" y="1112.3"/><use href="#m2" x="1246.6" y="1110.3"/><use href="#m2" x="1248.9" y="1109.4"/><use href="#m2" x="1251.2" y="1107.5"/><use href="#m2" x="1253.5" y="1106.8"/><use href="#m2" x="1255.8" y="1107.3"/><use href="#m2" x="1258.1" y="1108.9"/><use href="#m2" x="1260.4" y="1109.3"/><use href="#m2" x="1262.7" y="1108.8"/><use href="#m2" x="1265.0" y="1109.9"/><use href="#m2" x="1267.3" y="1106.7"/><use href="#m2" x="1269.6" y="1106.5"/><use href="#m2" x="1271.9" y="1108.3"/><use href="#m2" x="1274.2" y="1108.3"/><use href="#m2" x="1276.5" y="1108.5"/><use href="#m2" x="1278.8" y="1112.6"/><use href="#m2" x="1281.1" y="1115.2"/><use href="#m2" x="1283.4" y="1114.6"/><use href="#m2" x="1285.7" y="1115.7"/><use href="#m2" x="1288.0" y="1117.1"/><use href="#m2" x="1290.3" y="1116.7"/><use href="#m2" x="1292.6" y="1120.7"/><use href="#m2" x="1294.9" y="1118.7"/><use href="#m2" x="1297.2" y="1122.2"/><use href="#m2" x="1299.5" y="1122.7"/><use href="#m2" x="1301.8" y="1119.7"/><use href="#m2" x="1304.1" y="1120.3"/><use href="#m2" x="1306.4" y="1117.2"/><use href="#m2" x="1308.7" y="1116.2"/><use href="#m2" x="1311.0" y="1112.6"/><use href="#m2" x="1313.3" y="1110.6"/><use href="#m2" x="1315.6" y="1108.3"/><use href="#m2" x="1317.9" y="1106.0"/><use href="#m2" x="1320.2" y="1100.8"/><use href="#m2" x="1322.5" y="1103.5"/><use href="#m2" x="1324.8" y="1103.4"/><use href="#m2" x="1327.1" y="1103.4"/><use href="#m2" x="1329.4" y="1102.8"/><use href="#m2" x="1331.7" y="1101.1"/><use href="#m2" x="1334.0" y="1102.9"/><use href="#m2" x="1336.3" y="1103.1"/><use href="#m2" x="1338.6" y="1108.5"/><use href="#m2" x="1340.9" y="1107.9"/><use href="#m2" x="1343.2" y="1108.4"/><use href="#m2" x="1345.5" y="1109.8"/><use href="#m2" x="1347.8" y="1111.9"/><use href="#m2" x="1350.1" y="1116.0"/><use href="#m2" x="1352.4" y="1118.8"/><use href="#m2" x="1354.7" y="1115.6"/><use href="#m2" x="1357.0" y="1118.4"/><use href="#m2" x="1359.3" y="1116.6"/><use href="#m2" x="1361.6" y="1119.1"/><use href="#m2" x="1363.9" y="1116.6"/><use href="#m2" x="1366.2" y="1117.5"/><use href="#m2" x="1368.5" y="1114.7"/><use href="#m2" x="1370.8" y="1114.2"/><use href="#m2" x="1373.1" y="1112.8"/><use href="#m2" x="1375.4" y="1111.5"/><use href="#m2" x="1377.7" y="1101.8"/><use href="#m2" x="1380.0" y="1099.9"/><use href="#m2" x="1382.3" y="1103.8"/><use href="#m2" x="1384.6" y="1105.7"/><use href="#m2" x="1386.9" y="1106.1"/><use href="#m2" x="1389.2" y="1106.3"/><use href="#m2" x="1391.5" y="1107.3"/><use href="#m2" x="1393.8" y="1109.7"/><use href="#m2" x="1396.1" y="1111.5"/><use href="#m2" x="1398.4" y="1113.0"/><use href="#m2" x="1400.7" y="1114.9"/><use href="#m2" x="1403.0" y="1118.5"/><use href="#m2" x="1405.3" y="1121.3"/><use href="#m2" x="1407.6" y="1123.3"/><use href="#m2" x="1409.9" y="1126.5"/><use href="#m2" x="1412.2" y="1128.4"/><use href="#m2" x="1414.5" y="1128.1"/><use href="#m2" x="1416.8" y="1129.6"/><use href="#m2" x="1419.1" y="1133.5"/><use href="#m2" x="1421.4" y="1135.1"/><use href="#m2" x="1423.7" y="1140.4"/><use href="#m2" x="1426.0" y="1142.4"/><use href="#m2" x="1428.3" y="1145.4"/><use href="#m2" x="1430.6" y="1146.7"/><use href="#m2" x="1432.9" y="1146.2"/><use href="#m2" x="1435.2" y="1146.7"/><use href="#m2" x="1437.5" y="1140.7"/><use href="#m2" x="1439.8" y="1142.0"/><use href="#m2" x="1442.1" y="1141.2"/><use href="#m2" x="1444.4" y="1133.9"/><use href="#m2" x="1446.7" y="1133.4"/><use href="#m2" x="1449.0" y="1132.4"/><use href="#m2" x="1455.0" y="1101.4"/><use href="#m2" x="1457.3" y="1103.7"/><use href="#m2" x="1459.6" y="1104.1"/><use href="#m2" x="1461.9" y="1106.6"/><use href="#m2" x="1464.2" y="1108.1"/><use href="#m2" x="1466.5" y="1112.3"/><use href="#m2" x="1468.8" y="1111.8"/><use href="#m2" x="1471.1" y="1112.4"/><use href="#m2" x="1473.4" y="1114.0"/><use href="#m2" x="1475.7" y="1115.6"/><use href="#m2" x="1478.0" y="1118.5"/><use href="#m2" x="1480.3" y="1122.4"/><use href="#m2" x="1482.6" y="1126.5"/><use href="#m2" x="1484.9" y="1130.1"/><use href="#m2" x="1487.2" y="1124.3"/><use href="#m2" x="1489.5" y="1117.5"/><use href="#m2" x="1491.8" y="1115.0"/><use href="#m2" x="1494.1" y="1108.7"/><use href="#m2" x="1496.4" y="1106.4"/><use href="#m2" x="1498.7" y="1105.6"/><use href="#m2" x="1501.0" y="1105.3"/><use href="#m2" x="1503.3" y="1103.1"/><use href="#m2" x="1505.6" y="1106.0"/><use href="#m2" x="1507.9" y="1106.8"/><use href="#m2" x="1510.2" y="1108.2"/><use href="#m2" x="1512.5" y="1109.4"/><use href="#m2" x="1514.8" y="1110.4"/><use href="#m2" x="1517.1" y="1114.5"/><use href="#m2" x="1519.4" y="1114.8"/><use href="#m2" x="1521.7" y="1117.2"/><use href="#m2" x="1524.0" y="1116.9"/><use href="#m2" x="1526.3" y="1116.9"/><use href="#m2" x="1528.6" y="1116.3"/><use href="#m2" x="1530.9" y="1116.4"/><use href="#m2" x="1533.2" y="1117.9"/><use href="#m2" x="1535.5" y="1117.5"/><use href="#m2" x="1537.8" y="1117.5"/><use href="#m2" x="1540.1" y="1116.3"/><use href="#m2" x="1542.4" y="1115.8"/><use href="#m2" x="1544.7" y="1117.7"/><use href="#m2" x="1547.0" y="1124.0"/><use href="#m2" x="1549.3" y="1124.3"/><use href="#m2" x="1551.6" y="1127.6"/><use href="#m2" x="1553.9" y="1131.2"/><use href="#m2" x="1556.2" y="1135.5"/><use href="#m2" x="1558.5" y="1135.1"/><use href="#m2" x="1560.8" y="1137.7"/><use href="#m2" x="1562.5" y="1168.4"/><use href="#m2" x="1564.8" y="1165.5"/><use href="#m2" x="1567.1" y="1164.7"/><use href="#m2" x="1569.4" y="1164.4"/><use href="#m2" x="1571.7" y="1163.6"/><use href="#m2" x="1574.0" y="1162.6"/><use href="#m2" x="1576.3" y="1168.5"/><use href="#m2" x="1578.6" y="1168.7"/><use href="#m2" x="1580.9" y="1169.6"/><use href="#m2" x="1583.2" y="1171.3"/><use href="#m2" x="1585.5" y="1175.2"/><use href="#m2" x="1587.8" y="1178.4"/><use href="#m2" x="1590.1" y="1181.5"/><use href="#m2" x="1592.4" y="1185.3"/><use href="#m2" x="1594.7" y="1195.3"/><use href="#m2" x="1597.0" y="1201.1"/><use href="#m2" x="1599.3" y="1210.8"/><use href="#m2" x="1601.6" y="1211.3"/><use href="#m2" x="1603.9" y="1212.7"/><use href="#m2" x="1606.2" y="1212.5"/><use href="#m2" x="1608.5" y="1209.6"/><use href="#m2" x="1610.8" y="1212.8"/><use href="#m2" x="1613.1" y="1210.0"/><use href="#m2" x="1615.4" y="1209.6"/><use href="#m2" x="1617.7" y="1212.1"/><use href="#m2" x="1620.0" y="1215.2"/><use href="#m2" x="1622.3" y="1212.9"/><use href="#m2" x="1624.6" y="1213.1"/><use href="#m2" x="1626.9" y="1209.8"/><use href="#m2" x="1629.2" y="1217.4"/><use href="#m2" x="1631.5" y="1219.9"/><use href="#m2" x="1633.8" y="1218.9"/><use href="#m2" x="1636.1" y="1215.2"/><use href="#m2" x="1638.4" y="1217.0"/><use href="#m2" x="1640.7" y="1218.2"/><use href="#m2" x="1643.0" y="1227.4"/><use href="#m2" x="1645.3" y="1228.2"/><use href="#m2" x="1647.6" y="1228.6"/><use href="#m2" x="1649.9" y="1232.7"/><use href="#m2" x="1652.2" y="1235.7"/><use href="#m2" x="1654.5" y="1241.6"/><use href="#m2" x="1656.8" y="1243.7"/><use href="#m2" x="1659.1" y="1251.0"/><use href="#m2" x="1661.4" y="1251.9"/><use href="#m2" x="1663.7" y="1254.9"/><use href="#m2" x="1666.0" y="1258.9"/><use href="#m2" x="1668.3" y="1263.2"/><use href="#m2" x="1670.6" y="1266.4"/></g>
<g><use href="#m3" x="209.5" y="1481.5"/><use href="#m3" x="211.8" y="1481.5"/><use href="#m3" x="214.1" y="1481.5"/><use href="#m3" x="216.4" y="1481.5"/><use href="#m3" x="218.7" y="1481.5"/><use href="#m3" x="221.0" y="1481.5"/><use href="#m3" x="223.3" y="1481.5"/><use href="#m3" x="225.6" y="1481.5"/><use href="#m3" x="227.9" y="1481.5"/><use href="#m3" x="230.2" y="1481.5"/><use href="#m3" x="232.5" y="1481.5"/><use href="#m3" x="234.8" y="1481.5"/><use href="#m3" x="237.1" y="1481.5"/><use href="#m3" x="239.4" y="1481.5"/><use href="#m3" x="241.7" y="1481.5"/><use href="#m3" x="244.0" y="1481.5"/><use href="#m3" x="246.3" y="1481.5"/><use href="#m3" x="248.6" y="1481.5"/><use href="#m3" x="250.9" y="1481.5"/><use href="#m3" x="253.2" y="1481.5"/><use href="#m3" x="255.5" y="1481.5"/><use href="#m3" x="257.8" y="1481.5"/><use href="#m3" x="260.1" y="1481.5"/><use href="#m3" x="262.4" y="1481.5"/><use href="#m3" x="264.7" y="1481.5"/><use href="#m3" x="267.0" y="1481.0"/><use href="#m3" x="269.3" y="1480.4"/><use href="#m3" x="271.6" y="1479.6"/><use href="#m3" x="273.9" y="1478.7"/><use href="#m3" x="276.2" y="1477.6"/><use href="#m3" x="278.5" y="1476.4"/><use href="#m3" x="280.8" y="1475.0"/><use href="#m3" x="283.1" y="1473.4"/><use href="#m3" x="285.4" y="1471.5"/><use href="#m3" x="287.7" y="1469.4"/><use href="#m3" x="290.0" y="1467.0"/><use href="#m3" x="292.3" y="1464.2"/><use href="#m3" x="294.6" y="1461.0"/><use href="#m3" x="296.9" y="1457.4"/><use href="#m3" x="299.2" y="1453.2"/><use href="#m3" x="301.5" y="1448.4"/><use href="#m3" x="303.8" y="1442.8"/><use href="#m3" x="306.1" y="1436.5"/><use href="#m3" x="308.4" y="1429.5"/><use href="#m3" x="310.7" y="1421.9"/><use href="#m3" x="313.0" y="1413.8"/><use href="#m3" x="315.3" y="1405.4"/><use href="#m3" x="317.6" y="1396.5"/><use href="#m3" x="319.9" y="1387.1"/><use href="#m3" x="322.2" y="1377.1"/><use href="#m3" x="324.5" y="1366.8"/><use href="#m3" x="326.8" y="1355.9"/><use href="#m3" x="329.1" y="1344.7"/><use href="#m3" x="331.4" y="1333.2"/><use href="#m3" x="333.7" y="1321.5"/><use href="#m3" x="336.0" y="1309.9"/><use href="#m3" x="338.3" y="1298.5"/><use href="#m3" x="340.6" y="1287.5"/><use href="#m3" x="342.9" y="1277.3"/><use href="#m3" x="345.2" y="1268.0"/><use href="#m3" x="347.5" y="1259.6"/><use href="#m3" x="349.8" y="1252.0"/><use href="#m3" x="352.1" y="1245.2"/><use href="#m3" x="354.4" y="1239.0"/><use href="#m3" x="356.7" y="1233.4"/><use href="#m3" x="359.0" y="1228.3"/><use href="#m3" x="361.3" y="1223.5"/><use href="#m3" x="363.6" y="1219.2"/><use href="#m3" x="365.9" y="1215.1"/><use href="#m3" x="368.2" y="1211.3"/><use href="#m3" x="370.5" y="1207.7"/><use href="#m3" x="372.8" y="1204.1"/><use href="#m3" x="375.1" y="1200.7"/><use href="#m3" x="377.4" y="1197.3"/><use href="#m3" x="379.7" y="1193.9"/><use href="#m3" x="382.0" y="1190.5"/><use href="#m3" x="384.3" y="1187.0"/><use href="#m3" x="386.6" y="1183.4"/><use href="#m3" x="388.9" y="1179.7"/><use href="#m3" x="391.2" y="1175.8"/><use href="#m3" x="393.5" y="1171.6"/><use href="#m3" x="395.8" y="1167.0"/><use href="#m3" x="398.1" y="1161.8"/><use href="#m3" x="400.4" y="1155.8"/><use href="#m3" x="402.7" y="1148.8"/><use href="#m3" x="405.0" y="1140.4"/><use href="#m3" x="407.3" y="1130.3"/><use href="#m3" x="409.6" y="1117.9"/><use href="#m3" x="411.9" y="1103.4"/><use href="#m3" x="414.2" y="1088.4"/><use href="#m3" x="416.5" y="1073.9"/><use href="#m3" x="418.8" y="1059.7"/><use href="#m3" x="421.1" y="1045.5"/><use href="#m3" x="423.4" y="1031.1"/><use href="#m3" x="425.7" y="1016.4"/><use href="#m3" x="428.0" y="1001.1"/><use href="#m3" x="430.3" y="985.6"/><use href="#m3" x="432.6" y="970.1"/><use href="#m3" x="434.9" y="954.7"/><use href="#m3" x="437.2" y="939.7"/><use href="#m3" x="439.5" y="925.3"/><use href="#m3" x="441.8" y="911.5"/><use href="#m3" x="444.1" y="898.4"/><use href="#m3" x="446.4" y="885.9"/><use href="#m3" x="448.7" y="874.2"/><use href="#m3" x="451.0" y="863.1"/><use href="#m3" x="453.3" y="852.6"/><use href="#m3" x="455.6" y="842.7"/><use href="#m3" x="457.9" y="833.3"/><use href="#m3" x="460.2" y="824.3"/><use href="#m3" x="462.5" y="815.8"/><use href="#m3" x="464.8" y="807.6"/><use href="#m3" x="467.1" y="800.2"/><use href="#m3" x="469.4" y="793.7"/><use href="#m3" x="471.7" y="788.3"/><use href="#m3" x="474.0" y="783.7"/><use href="#m3" x="476.3" y="779.7"/><use href="#m3" x="478.6" y="776.4"/><use href="#m3" x="480.9" y="773.6"/><use href="#m3" x="483.2" y="771.2"/><use href="#m3" x="485.5" y="769.1"/><use href="#m3" x="487.8" y="767.3"/><use href="#m3" x="490.1" y="765.8"/><use href="#m3" x="492.4" y="764.5"/><use href="#m3" x="494.7" y="763.3"/><use href="#m3" x="497.0" y="762.3"/><use href="#m3" x="499.3" y="761.5"/><use href="#m3" x="501.6" y="760.7"/><use href="#m3" x="503.9" y="760.1"/><use href="#m3" x="506.2" y="759.6"/><use href="#m3" x="508.5" y="759.2"/><use href="#m3" x="510.8" y="758.9"/><use href="#m3" x="513.1" y="758.7"/><use href="#m3" x="515.4" y="758.6"/><use href="#m3" x="517.7" y="758.6"/><use href="#m3" x="520.0" y="758.7"/><use href="#m3" x="522.3" y="758.9"/><use href="#m3" x="524.6" y="759.3"/><use href="#m3" x="526.9" y="759.7"/><use href="#m3" x="529.2" y="760.3"/><use href="#m3" x="531.5" y="761.0"/><use href="#m3" x="533.8" y="761.9"/><use href="#m3" x="536.1" y="762.9"/><use href="#m3" x="538.4" y="764.0"/><use href="#m3" x="540.7" y="765.3"/><use href="#m3" x="543.0" y="766.7"/><use href="#m3" x="545.3" y="768.2"/><use href="#m3" x="547.6" y="769.9"/><use href="#m3" x="549.9" y="771.6"/><use href="#m3" x="552.2" y="773.4"/><use href="#m3" x="554.5" y="775.3"/><use href="#m3" x="556.8" y="777.2"/><use href="#m3" x="559.1" y="779.1"/><use href="#m3" x="561.4" y="781.1"/><use href="#m3" x="563.7" y="783.0"/><use href="#m3" x="566.0" y="784.9"/><use href="#m3" x="568.3" y="786.8"/><use href="#m3" x="570.6" y="788.6"/><use href="#m3" x="572.9" y="790.5"/><use href="#m3" x="575.2" y="792.2"/><use href="#m3" x="577.5" y="794.0"/><use href="#m3" x="579.8" y="795.7"/><use href="#m3" x="582.1" y="797.4"/><use href="#m3" x="584.4" y="799.1"/><use href="#m3" x="586.7" y="800.8"/><use href="#m3" x="589.0" y="802.5"/><use href="#m3" x="591.3" y="804.1"/><use href="#m3" x="593.6" y="805.8"/><use href="#m3" x="595.9" y="807.4"/><use href="#m3" x="598.2" y="809.1"/><use href="#m3" x="600.5" y="810.8"/><use href="#m3" x="602.8" y="812.4"/><use href="#m3" x="605.1" y="814.1"/><use href="#m3" x="607.4" y="815.8"/><use href="#m3" x="609.7" y="817.5"/><use href="#m3" x="612.0" y="819.2"/><use href="#m3" x="614.3" y="821.0"/><use href="#m3" x="616.6" y="822.7"/><use href="#m3" x="618.9" y="824.5"/><use href="#m3" x="621.2" y="826.4"/><use href="#m3" x="623.5" y="828.2"/><use href="#m3" x="625.8" y="830.1"/><use href="#m3" x="628.1" y="832.0"/><use href="#m3" x="630.4" y="833.9"/><use href="#m3" x="632.7" y="835.8"/><use href="#m3" x="635.0" y="837.8"/><use href="#m3" x="637.3" y="839.7"/><use href="#m3" x="639.6" y="841.7"/><use href="#m3" x="641.9" y="843.7"/><use href="#m3" x="644.2" y="845.8"/><use href="#m3" x="646.5" y="847.8"/><use href="#m3" x="648.8" y="849.8"/><use href="#m3" x="651.1" y="851.9"/><use href="#m3" x="653.4" y="853.9"/><use href="#m3" x="655.7" y="856.0"/><use href="#m3" x="658.0" y="858.1"/><use href="#m3" x="660.3" y="860.1"/><use href="#m3" x="662.6" y="862.2"/><use href="#m3" x="664.9" y="864.3"/><use href="#m3" x="667.2" y="866.4"/><use href="#m3" x="669.5" y="868.4"/><use href="#m3" x="671.8" y="870.5"/><use href="#m3" x="674.1" y="872.6"/><use href="#m3" x="676.4" y="874.6"/><use href="#m3" x="678.7" y="876.7"/><use href="#m3" x="681.0" y="878.7"/><use href="#m3" x="683.3" y="880.7"/><use href="#m3" x="685.6" y="882.7"/><use href="#m3" x="687.9" y="884.7"/><use href="#m3" x="690.2" y="886.7"/><use href="#m3" x="692.5" y="888.7"/><use href="#m3" x="694.8" y="890.6"/><use href="#m3" x="697.1" y="892.6"/><use href="#m3" x="699.4" y="894.5"/><use href="#m3" x="701.7" y="896.4"/><use href="#m3" x="704.0" y="898.3"/><use href="#m3" x="706.3" y="900.1"/><use href="#m3" x="708.6" y="902.0"/><use href="#m3" x="710.9" y="903.8"/><use href="#m3" x="713.2" y="905.6"/><use href="#m3" x="715.5" y="907.4"/><use href="#m3" x="717.8" y="909.2"/><use href="#m3" x="720.1" y="911.0"/><use href="#m3" x="722.4" y="912.7"/><use href="#m3" x="724.7" y="914.4"/><use href="#m3" x="727.0" y="916.2"/><use href="#m3" x="729.3" y="917.9"/><use href="#m3" x="731.6" y="919.5"/><use href="#m3" x="733.9" y="921.2"/><use href="#m3" x="736.2" y="922.9"/><use href="#m3" x="738.5" y="924.5"/><use href="#m3" x="740.8" y="926.2"/><use href="#m3" x="743.1" y="927.8"/><use href="#m3" x="745.4" y="929.4"/><use href="#m3" x="747.7" y="931.0"/><use href="#m3" x="750.0" y="932.6"/><use href="#m3" x="752.3" y="934.1"/><use href="#m3" x="754.6" y="935.7"/><use href="#m3" x="756.9" y="937.2"/><use href="#m3" x="759.2" y="938.7"/><use href="#m3" x="761.5" y="940.3"/><use href="#m3" x="763.8" y="941.8"/><use href="#m3" x="766.1" y="943.3"/><use href="#m3" x="768.4" y="944.7"/><use href="#m3" x="770.7" y="946.2"/><use href="#m3" x="773.0" y="947.7"/><use href="#m3" x="775.3" y="949.1"/><use href="#m3" x="777.6" y="950.5"/><use href="#m3" x="779.9" y="951.9"/><use href="#m3" x="782.2" y="953.2"/><use href="#m3" x="784.5" y="954.6"/><use href="#m3" x="786.8" y="955.9"/><use href="#m3" x="789.1" y="957.1"/><use href="#m3" x="791.4" y="958.4"/><use href="#m3" x="793.7" y="959.6"/><use href="#m3" x="796.0" y="960.7"/><use href="#m3" x="798.3" y="961.9"/><use href="#m3" x="800.6" y="962.9"/><use href="#m3" x="802.9" y="964.0"/><use href="#m3" x="805.2" y="965.0"/><use href="#m3" x="807.5" y="965.9"/><use href="#m3" x="809.8" y="966.8"/><use href="#m3" x="812.1" y="967.7"/><use href="#m3" x="814.4" y="968.5"/><use href="#m3" x="816.7" y="969.3"/><use href="#m3" x="819.0" y="970.0"/><use href="#m3" x="821.3" y="970.6"/><use href="#m3" x="823.6" y="971.2"/><use href="#m3" x="825.9" y="971.8"/><use href="#m3" x="828.2" y="972.3"/><use href="#m3" x="830.5" y="972.7"/><use href="#m3" x="832.8" y="973.1"/><use href="#m3" x="835.1" y="973.4"/><use href="#m3" x="837.4" y="973.7"/><use href="#m3" x="839.7" y="973.9"/><use href="#m3" x="842.0" y="974.0"/><use href="#m3" x="844.3" y="974.1"/><use href="#m3" x="846.6" y="974.1"/><use href="#m3" x="848.9" y="974.0"/><use href="#m3" x="851.2" y="973.9"/><use href="#m3" x="853.5" y="973.7"/><use href="#m3" x="855.8" y="973.4"/><use href="#m3" x="858.1" y="973.1"/><use href="#m3" x="860.4" y="972.7"/><use href="#m3" x="862.7" y="972.1"/><use href="#m3" x="865.0" y="971.5"/><use href="#m3" x="867.3" y="970.8"/><use href="#m3" x="869.6" y="970.0"/><use href="#m3" x="871.9" y="969.1"/><use href="#m3" x="874.2" y="968.0"/><use href="#m3" x="876.5" y="966.8"/><use href="#m3" x="878.8" y="965.5"/><use href="#m3" x="881.1" y="963.9"/><use href="#m3" x="883.4" y="962.2"/><use href="#m3" x="885.7" y="960.2"/><use href="#m3" x="888.0" y="958.0"/><use href="#m3" x="890.3" y="955.6"/><use href="#m3" x="892.6" y="953.0"/><use href="#m3" x="894.9" y="950.1"/><use href="#m3" x="897.2" y="947.0"/><use href="#m3" x="899.5" y="943.6"/><use href="#m3" x="901.8" y="939.9"/><use href="#m3" x="904.1" y="936.0"/><use href="#m3" x="906.4" y="931.9"/><use href="#m3" x="908.7" y="927.5"/><use href="#m3" x="911.0" y="922.9"/><use href="#m3" x="913.3" y="918.2"/><use href="#m3" x="915.6" y="913.5"/><use href="#m3" x="917.9" y="908.8"/><use href="#m3" x="920.2" y="904.1"/><use href="#m3" x="922.5" y="899.7"/><use href="#m3" x="924.8" y="895.5"/><use href="#m3" x="927.1" y="891.6"/><use href="#m3" x="929.4" y="888.0"/><use href="#m3" x="931.7" y="884.7"/><use href="#m3" x="934.0" y="881.7"/><use href="#m3" x="936.3" y="878.9"/><use href="#m3" x="938.6" y="876.4"/><use href="#m3" x="940.9" y="874.1"/><use href="#m3" x="943.2" y="872.0"/><use href="#m3" x="945.5" y="870.1"/><use href="#m3" x="947.8" y="868.5"/><use href="#m3" x="950.1" y="867.0"/><use href="#m3" x="952.4" y="865.7"/><use href="#m3" x="954.7" y="864.6"/><use href="#m3" x="957.0" y="863.7"/><use href="#m3" x="959.3" y="862.9"/><use href="#m3" x="961.6" y="862.3"/><use href="#m3" x="963.9" y="861.9"/><use href="#m3" x="966.2" y="861.6"/><use href="#m3" x="968.5" y="861.5"/><use href="#m3" x="970.8" y="861.5"/><use href="#m3" x="973.1" y="861.6"/><use href="#m3" x="975.4" y="861.9"/><use href="#m3" x="977.7" y="862.4"/><use href="#m3" x="980.0" y="863.0"/><use href="#m3" x="982.3" y="863.8"/><use href="#m3" x="984.6" y="864.9"/><use href="#m3" x="986.9" y="866.1"/><use href="#m3" x="989.2" y="867.6"/><use href="#m3" x="991.5" y="869.3"/><use href="#m3" x="993.8" y="871.2"/><use href="#m3" x="996.1" y="873.3"/><use href="#m3" x="998.4" y="875.7"/><use href="#m3" x="1000.7" y="878.2"/><use href="#m3" x="1003.0" y="881.0"/><use href="#m3" x="1005.3" y="884.0"/><use href="#m3" x="1007.6" y="887.1"/><use href="#m3" x="1009.9" y="890.3"/><use href="#m3" x="1012.2" y="893.7"/><use href="#m3" x="1014.5" y="897.3"/><use href="#m3" x="1016.8" y="901.0"/><use href="#m3" x="1019.1" y="904.8"/><use href="#m3" x="1021.4" y="908.9"/><use href="#m3" x="1023.7" y="913.1"/><use href="#m3" x="1026.0" y="917.5"/><use href="#m3" x="1028.3" y="922.0"/><use href="#m3" x="1030.6" y="926.7"/><use href="#m3" x="1032.9" y="931.6"/><use href="#m3" x="1035.2" y="936.7"/><use href="#m3" x="1037.5" y="941.9"/><use href="#m3" x="1039.8" y="947.2"/><use href="#m3" x="1042.1" y="952.6"/><use href="#m3" x="1044.4" y="958.1"/><use href="#m3" x="1046.7" y="963.5"/><use href="#m3" x="1049.0" y="969.0"/><use href="#m3" x="1051.3" y="974.5"/><use href="#m3" x="1053.6" y="980.1"/><use href="#m3" x="1055.9" y="985.7"/><use href="#m3" x="1058.2" y="991.3"/><use href="#m3" x="1060.5" y="997.0"/><use href="#m3" x="1062.8" y="1002.7"/><use href="#m3" x="1065.1" y="1008.5"/><use href="#m3" x="1067.4" y="1014.4"/><use href="#m3" x="1069.7" y="1020.3"/><use href="#m3" x="1072.0" y="1026.4"/><use href="#m3" x="1074.3" y="1032.6"/><use href="#m3" x="1076.6" y="1038.9"/><use href="#m3" x="1078.9" y="1045.3"/><use href="#m3" x="1081.2" y="1051.9"/><use href="#m3" x="1083.5" y="1058.6"/><use href="#m3" x="1085.8" y="1065.6"/><use href="#m3" x="1088.1" y="1072.8"/><use href="#m3" x="1090.4" y="1080.2"/><use href="#m3" x="1092.7" y="1087.9"/><use href="#m3" x="1095.0" y="1095.7"/><use href="#m3" x="1097.3" y="1103.9"/><use href="#m3" x="1099.6" y="1112.3"/><use href="#m3" x="1101.9" y="1121.0"/><use href="#m3" x="1104.2" y="1129.9"/><use href="#m3" x="1106.5" y="1139.2"/><use href="#m3" x="1108.8" y="1148.7"/><use href="#m3" x="1111.1" y="1158.5"/><use href="#m3" x="1113.4" y="1168.6"/><use href="#m3" x="1115.7" y="1178.9"/><use href="#m3" x="1118.0" y="1189.5"/><use href="#m3" x="1120.3" y="1200.4"/><use href="#m3" x="1122.6" y="1211.4"/><use href="#m3" x="1124.9" y="1222.7"/><use href="#m3" x="1127.2" y="1234.0"/><use href="#m3" x="1129.5" y="1245.4"/><use href="#m3" x="1131.8" y="1256.9"/><use href="#m3" x="1134.1" y="1268.4"/><use href="#m3" x="1136.4" y="1279.9"/><use href="#m3" x="1138.7" y="1291.5"/><use href="#m3" x="1141.0" y="1303.0"/><use href="#m3" x="1143.3" y="1314.6"/><use href="#m3" x="1145.6" y="1326.2"/><use href="#m3" x="1147.9" y="1337.8"/><use href="#m3" x="1150.2" y="1349.5"/><use href="#m3" x="1152.5" y="1361.1"/><use href="#m3" x="1154.8" y="1372.8"/><use href="#m3" x="1157.1" y="1384.0"/><use href="#m3" x="1159.4" y="1394.5"/><use href="#m3" x="1161.7" y="1404.1"/><use href="#m3" x="1164.0" y="1412.7"/><use href="#m3" x="1166.3" y="1420.6"/><use href="#m3" x="1168.6" y="1427.7"/><use href="#m3" x="1170.9" y="1434.1"/><use href="#m3" x="1173.2" y="1440.0"/><use href="#m3" x="1175.5" y="1445.5"/><use href="#m3" x="1177.8" y="1450.5"/><use href="#m3" x="1180.1" y="1455.0"/><use href="#m3" x="1182.4" y="1459.0"/><use href="#m3" x="1184.7" y="1462.5"/><use href="#m3" x="1187.0" y="1465.6"/><use href="#m3" x="1189.3" y="1468.2"/><use href="#m3" x="1191.6" y="1470.6"/><use href="#m3" x="1193.9" y="1472.5"/><use href="#m3" x="1196.2" y="1474.3"/><use href="#m3" x="1198.5" y="1475.7"/><use href="#m3" x="1200.8" y="1476.9"/><use href="#m3" x="1203.1" y="1477.9"/><use href="#m3" x="1205.4" y="1478.8"/><use href="#m3" x="1207.7" y="1479.5"/><use href="#m3" x="1210.0" y="1480.1"/><use href="#m3" x="1212.3" y="1480.6"/><use href="#m3" x="1214.6" y="1480.9"/><use href="#m3" x="1216.9" y="1481.3"/><use href="#m3" x="1219.2" y="1481.5"/><use href="#m3" x="1221.5" y="1481.5"/><use href="#m3" x="1223.8" y="1481.5"/><use href="#m3" x="1226.1" y="1481.5"/><use href="#m3" x="1228.4" y="1481.5"/><use href="#m3" x="1230.7" y="1481.5"/><use href="#m3" x="1233.0" y="1481.5"/><use href="#m3" x="1235.3" y="1481.5"/><use href="#m3" x="1237.6" y="1481.5"/><use href="#m3" x="1239.9" y="1481.5"/><use href="#m3" x="1242.2" y="1481.5"/><use href="#m3" x="1244.5" y="1481.5"/><use href="#m3" x="1246.8" y="1481.5"/><use href="#m3" x="1249.1" y="1481.5"/><use href="#m3" x="1251.4" y="1481.5"/><use href="#m3" x="1253.7" y="1481.5"/><use href="#m3" x="1256.0" y="1481.5"/><use href="#m3" x="1258.3" y="1481.5"/><use href="#m3" x="1260.6" y="1481.5"/><use href="#m3" x="1262.9" y="1481.5"/><use href="#m3" x="1265.2" y="1481.5"/><use href="#m3" x="1267.5" y="1481.5"/><use href="#m3" x="1269.8" y="1481.5"/><use href="#m3" x="1272.1" y="1481.5"/><use href="#m3" x="1274.4" y="1481.5"/><use href="#m3" x="1276.7" y="1481.5"/><use href="#m3" x="1279.0" y="1481.5"/><use href="#m3" x="1281.3" y="1481.5"/><use href="#m3" x="1283.6" y="1481.5"/><use href="#m3" x="1285.9" y="1481.5"/><use href="#m3" x="1288.2" y="1481.5"/><use href="#m3" x="1290.5" y="1481.5"/><use href="#m3" x="1292.8" y="1481.5"/><use href="#m3" x="1295.1" y="1481.5"/><use href="#m3" x="1297.4" y="1481.5"/><use href="#m3" x="1299.7" y="1481.5"/><use href="#m3" x="1302.0" y="1481.5"/><use href="#m3" x="1304.3" y="1481.5"/></g>
<g><use href="#m4" x="395.0" y="1461.6"/><use href="#m4" x="398.4" y="1460.0"/><use href="#m4" x="401.8" y="1456.1"/><use href="#m4" x="405.2" y="1455.0"/><use href="#m4" x="408.6" y="1452.2"/><use href="#m4" x="412.0" y="1451.4"/><use href="#m4" x="415.4" y="1449.3"/><use href="#m4" x="418.8" y="1445.7"/><use href="#m4" x="422.2" y="1444.3"/><use href="#m4" x="425.6" y="1440.7"/><use href="#m4" x="429.0" y="1438.9"/><use href="#m4" x="432.4" y="1438.9"/><use href="#m4" x="435.8" y="1434.7"/><use href="#m4" x="439.2" y="1437.5"/><use href="#m4" x="442.6" y="1435.7"/><use href="#m4" x="446.0" y="1434.0"/><use href="#m4" x="449.4" y="1429.0"/><use href="#m4" x="452.8" y="1428.6"/><use href="#m4" x="456.2" y="1426.8"/><use href="#m4" x="459.6" y="1423.3"/><use href="#m4" x="463.0" y="1422.8"/><use href="#m4" x="466.4" y="1420.7"/><use href="#m4" x="469.8" y="1420.6"/><use href="#m4" x="473.2" y="1420.9"/><use href="#m4" x="476.6" y="1418.8"/><use href="#m4" x="480.0" y="1417.1"/><use href="#m4" x="483.4" y="1411.3"/><use href="#m4" x="486.8" y="1406.2"/><use href="#m4" x="490.2" y="1398.6"/><use href="#m4" x="493.6" y="1392.4"/><use href="#m4" x="497.0" y="1384.0"/><use href="#m4" x="500.4" y="1373.3"/><use href="#m4" x="503.8" y="1367.7"/><use href="#m4" x="507.2" y="1360.3"/><use href="#m4" x="510.6" y="1354.7"/><use href="#m4" x="514.0" y="1347.1"/><use href="#m4" x="517.4" y="1341.3"/><use href="#m4" x="520.8" y="1334.1"/><use href="#m4" x="524.2" y="1328.6"/><use href="#m4" x="527.6" y="1322.3"/><use href="#m4" x="531.0" y="1315.9"/><use href="#m4" x="534.4" y="1309.1"/><use href="#m4" x="537.8" y="1302.0"/><use href="#m4" x="541.2" y="1297.8"/><use href="#m4" x="544.6" y="1292.3"/><use href="#m4" x="548.0" y="1284.2"/><use href="#m4" x="551.4" y="1275.5"/><use href="#m4" x="554.8" y="1270.2"/><use href="#m4" x="558.2" y="1261.2"/><use href="#m4" x="561.6" y="1256.3"/><use href="#m4" x="565.0" y="1248.5"/><use href="#m4" x="568.4" y="1241.0"/><use href="#m4" x="571.8" y="1231.7"/><use href="#m4" x="575.2" y="1224.8"/><use href="#m4" x="578.6" y="1217.3"/><use href="#m4" x="582.0" y="1211.6"/><use href="#m4" x="585.4" y="1211.5"/><use href="#m4" x="588.8" y="1206.9"/><use href="#m4" x="592.2" y="1200.6"/><use href="#m4" x="595.6" y="1195.4"/><use href="#m4" x="599.0" y="1188.0"/><use href="#m4" x="602.4" y="1180.0"/><use href="#m4" x="605.8" y="1174.8"/><use href="#m4" x="609.2" y="1171.0"/><use href="#m4" x="612.6" y="1168.3"/><use href="#m4" x="616.0" y="1161.8"/><use href="#m4" x="619.4" y="1155.2"/><use href="#m4" x="622.8" y="1148.0"/><use href="#m4" x="626.2" y="1143.6"/><use href="#m4" x="629.6" y="1139.1"/><use href="#m4" x="633.0" y="1131.5"/><use href="#m4" x="636.4" y="1123.0"/><use href="#m4" x="639.8" y="1117.7"/><use href="#m4" x="643.2" y="1110.5"/><use href="#m4" x="646.6" y="1105.7"/><use href="#m4" x="650.0" y="1099.1"/><use href="#m4" x="653.4" y="1087.7"/><use href="#m4" x="656.8" y="1078.4"/><use href="#m4" x="660.2" y="1077.1"/><use href="#m4" x="663.6" y="1078.0"/><use href="#m4" x="667.0" y="1075.9"/><use href="#m4" x="670.4" y="1073.4"/><use href="#m4" x="673.8" y="1073.1"/><use href="#m4" x="677.2" y="1075.1"/><use href="#m4" x="680.6" y="1077.6"/><use href="#m4" x="684.0" y="1079.6"/><use href="#m4" x="687.4" y="1084.7"/><use href="#m4" x="690.8" y="1085.5"/><use href="#m4" x="694.2" y="1085.0"/><use href="#m4" x="697.6" y="1087.2"/><use href="#m4" x="701.0" y="1092.6"/><use href="#m4" x="704.4" y="1090.2"/><use href="#m4" x="707.8" y="1089.5"/><use href="#m4" x="711.2" y="1087.7"/><use href="#m4" x="714.6" y="1088.6"/><use href="#m4" x="718.0" y="1087.1"/><use href="#m4" x="721.4" y="1086.3"/><use href="#m4" x="724.8" y="1086.7"/><use href="#m4" x="728.2" y="1086.3"/><use href="#m4" x="731.6" y="1085.5"/><use href="#m4" x="735.0" y="1084.8"/><use href="#m4" x="738.4" y="1083.7"/><use href="#m4" x="741.8" y="1083.1"/><use href="#m4" x="745.2" y="1081.0"/><use href="#m4" x="748.6" y="1084.5"/><use href="#m4" x="752.0" y="1088.4"/><use href="#m4" x="755.4" y="1089.7"/><use href="#m4" x="758.8" y="1092.2"/><use href="#m4" x="762.2" y="1094.0"/><use href="#m4" x="765.6" y="1092.3"/><use href="#m4" x="769.0" y="1091.2"/><use href="#m4" x="772.4" y="1091.2"/><use href="#m4" x="775.8" y="1091.4"/><use href="#m4" x="779.2" y="1092.1"/><use href="#m4" x="782.6" y="1096.4"/><use href="#m4" x="786.0" y="1098.7"/><use href="#m4" x="789.4" y="1098.2"/><use href="#m4" x="792.8" y="1097.9"/><use href="#m4" x="796.2" y="1100.8"/><use href="#m4" x="799.6" y="1101.7"/><use href="#m4" x="803.0" y="1105.0"/><use href="#m4" x="806.4" y="1106.9"/><use href="#m4" x="809.8" y="1109.9"/><use href="#m4" x="813.2" y="1109.2"/><use href="#m4" x="816.6" y="1110.0"/><use href="#m4" x="820.0" y="1110.3"/><use href="#m4" x="823.4" y="1110.8"/><use href="#m4" x="826.8" y="1111.5"/><use href="#m4" x="830.2" y="1112.1"/><use href="#m4" x="833.6" y="1116.2"/><use href="#m4" x="837.0" y="1120.6"/><use href="#m4" x="840.4" y="1124.8"/><use href="#m4" x="843.8" y="1125.8"/><use href="#m4" x="847.2" y="1125.8"/><use href="#m4" x="850.6" y="1126.7"/><use href="#m4" x="854.0" y="1129.3"/><use href="#m4" x="857.4" y="1126.3"/><use href="#m4" x="860.8" y="1127.5"/><use href="#m4" x="864.2" y="1126.2"/><use href="#m4" x="867.6" y="1126.4"/><use href="#m4" x="871.0" y="1125.9"/><use href="#m4" x="874.4" y="1129.7"/><use href="#m4" x="877.8" y="1128.7"/><use href="#m4" x="881.2" y="1126.3"/><use href="#m4" x="884.6" y="1123.8"/><use href="#m4" x="888.0" y="1117.9"/><use href="#m4" x="891.4" y="1112.7"/><use href="#m4" x="894.8" y="1118.6"/><use href="#m4" x="898.2" y="1130.7"/><use href="#m4" x="901.6" y="1134.5"/><use href="#m4" x="905.0" y="1133.2"/><use href="#m4" x="908.4" y="1135.3"/><use href="#m4" x="911.8" y="1135.4"/><use href="#m4" x="915.2" y="1140.2"/><use href="#m4" x="918.6" y="1141.2"/><use href="#m4" x="922.0" y="1145.4"/><use href="#m4" x="925.4" y="1148.5"/><use href="#m4" x="928.8" y="1154.7"/><use href="#m4" x="932.2" y="1156.9"/><use href="#m4" x="935.6" y="1157.8"/><use href="#m4" x="939.0" y="1160.3"/><use href="#m4" x="942.4" y="1160.8"/><use href="#m4" x="945.8" y="1156.0"/><use href="#m4" x="949.2" y="1154.7"/><use href="#m4" x="952.6" y="1154.3"/><use href="#m4" x="956.0" y="1154.1"/><use href="#m4" x="959.4" y="1157.4"/><use href="#m4" x="962.8" y="1156.3"/><use href="#m4" x="966.2" y="1157.6"/><use href="#m4" x="969.6" y="1157.3"/><use href="#m4" x="973.0" y="1156.6"/><use href="#m4" x="976.4" y="1159.9"/><use href="#m4" x="979.8" y="1162.2"/><use href="#m4" x="983.2" y="1161.0"/><use href="#m4" x="986.6" y="1166.0"/><use href="#m4" x="990.0" y="1167.3"/><use href="#m4" x="993.4" y="1171.1"/><use href="#m4" x="996.8" y="1169.4"/><use href="#m4" x="1000.2" y="1168.5"/><use href="#m4" x="1003.6" y="1164.3"/><use href="#m4" x="1007.0" y="1162.2"/><use href="#m4" x="1010.4" y="1159.4"/><use href="#m4" x="1013.8" y="1158.5"/><use href="#m4" x="1017.2" y="1157.0"/><use href="#m4" x="1020.6" y="1156.2"/><use href="#m4" x="1024.0" y="1152.8"/><use href="#m4" x="1027.4" y="1152.2"/><use href="#m4" x="1030.8" y="1151.1"/><use href="#m4" x="1034.2" y="1143.9"/><use href="#m4" x="1037.6" y="1140.8"/><use href="#m4" x="1041.0" y="1138.9"/><use href="#m4" x="1044.4" y="1136.0"/><use href="#m4" x="1047.8" y="1135.5"/><use href="#m4" x="1051.2" y="1135.1"/><use href="#m4" x="1054.6" y="1133.6"/><use href="#m4" x="1058.0" y="1134.4"/><use href="#m4" x="1061.4" y="1132.5"/><use href="#m4" x="1064.8" y="1130.5"/><use href="#m4" x="1068.2" y="1130.1"/><use href="#m4" x="1071.6" y="1129.8"/><use href="#m4" x="1075.0" y="1131.1"/><use href="#m4" x="1078.4" y="1131.4"/><use href="#m4" x="1081.8" y="1133.8"/><use href="#m4" x="1085.2" y="1135.3"/><use href="#m4" x="1088.6" y="1130.4"/><use href="#m4" x="1092.0" y="1125.9"/><use href="#m4" x="1095.4" y="1123.0"/><use href="#m4" x="1098.8" y="1121.6"/><use href="#m4" x="1102.2" y="1119.6"/><use href="#m4" x="1105.6" y="1122.8"/><use href="#m4" x="1109.0" y="1116.9"/><use href="#m4" x="1112.4" y="1116.7"/><use href="#m4" x="1115.8" y="1116.1"/><use href="#m4" x="1119.2" y="1116.2"/><use href="#m4" x="1122.6" y="1118.0"/><use href="#m4" x="1126.0" y="1117.4"/><use href="#m4" x="1129.4" y="1114.8"/><use href="#m4" x="1132.8" y="1114.8"/><use href="#m4" x="1136.2" y="1115.0"/><use href="#m4" x="1139.6" y="1114.1"/><use href="#m4" x="1143.0" y="1111.9"/><use href="#m4" x="1146.4" y="1109.6"/><use href="#m4" x="1149.8" y="1106.8"/><use href="#m4" x="1153.2" y="1104.6"/><use href="#m4" x="1156.6" y="1102.4"/><use href="#m4" x="1160.0" y="1099.1"/><use href="#m4" x="1163.4" y="1097.3"/><use href="#m4" x="1166.8" y="1093.5"/><use href="#m4" x="1170.2" y="1092.3"/><use href="#m4" x="1173.6" y="1091.0"/><use href="#m4" x="1177.0" y="1088.5"/><use href="#m4" x="1180.4" y="1083.4"/><use href="#m4" x="1183.8" y="1077.6"/><use href="#m4" x="1187.2" y="1079.6"/><use href="#m4" x="1190.6" y="1083.3"/><use href="#m4" x="1194.0" y="1083.9"/><use href="#m4" x="1197.4" y="1089.4"/><use href="#m4" x="1200.8" y="1093.9"/><use href="#m4" x="1204.2" y="1096.1"/><use href="#m4" x="1207.6" y="1097.5"/><use href="#m4" x="1211.0" y="1101.2"/><use href="#m4" x="1214.4" y="1104.1"/><use href="#m4" x="1217.8" y="1101.8"/><use href="#m4" x="1221.2" y="1101.6"/><use href="#m4" x="1224.6" y="1101.6"/><use href="#m4" x="1228.0" y="1101.1"/><use href="#m4" x="1231.4" y="1097.8"/><use href="#m4" x="1234.8" y="1095.1"/><use href="#m4" x="1238.2" y="1093.2"/><use href="#m4" x="1241.6" y="1092.7"/><use href="#m4" x="1245.0" y="1091.1"/><use href="#m4" x="1248.4" y="1088.1"/><use href="#m4" x="1251.8" y="1088.0"/><use href="#m4" x="1255.2" y="1086.9"/><use href="#m4" x="1258.6" y="1088.1"/><use href="#m4" x="1262.0" y="1088.5"/><use href="#m4" x="1265.4" y="1085.1"/><use href="#m4" x="1268.8" y="1085.5"/><use href="#m4" x="1272.2" y="1087.3"/><use href="#m4" x="1275.6" y="1086.5"/><use href="#m4" x="1279.0" y="1088.8"/><use href="#m4" x="1282.4" y="1090.0"/><use href="#m4" x="1285.8" y="1091.7"/><use href="#m4" x="1289.2" y="1093.8"/><use href="#m4" x="1292.6" y="1095.6"/><use href="#m4" x="1296.0" y="1095.0"/><use href="#m4" x="1299.4" y="1095.2"/><use href="#m4" x="1302.8" y="1094.6"/><use href="#m4" x="1306.2" y="1092.6"/><use href="#m4" x="1309.6" y="1092.1"/><use href="#m4" x="1313.0" y="1090.4"/><use href="#m4" x="1316.4" y="1087.0"/><use href="#m4" x="1319.8" y="1088.5"/><use href="#m4" x="1323.2" y="1085.5"/><use href="#m4" x="1326.6" y="1084.4"/><use href="#m4" x="1330.0" y="1085.9"/><use href="#m4" x="1333.4" y="1088.1"/><use href="#m4" x="1336.8" y="1089.3"/><use href="#m4" x="1340.2" y="1092.7"/><use href="#m4" x="1343.6" y="1092.9"/><use href="#m4" x="1347.0" y="1094.8"/><use href="#m4" x="1350.4" y="1095.8"/><use href="#m4" x="1353.8" y="1093.0"/><use href="#m4" x="1357.2" y="1095.9"/><use href="#m4" x="1360.6" y="1100.1"/><use href="#m4" x="1364.0" y="1102.4"/><use href="#m4" x="1367.4" y="1106.5"/><use href="#m4" x="1370.8" y="1106.3"/><use href="#m4" x="1374.2" y="1108.6"/><use href="#m4" x="1377.6" y="1106.6"/><use href="#m4" x="1381.0" y="1104.5"/><use href="#m4" x="1384.4" y="1101.4"/><use href="#m4" x="1387.8" y="1095.4"/><use href="#m4" x="1391.2" y="1086.5"/><use href="#m4" x="1394.6" y="1078.7"/><use href="#m4" x="1398.0" y="1074.2"/><use href="#m4" x="1401.4" y="1075.5"/><use href="#m4" x="1404.8" y="1075.0"/><use href="#m4" x="1408.2" y="1071.2"/><use href="#m4" x="1411.6" y="1071.5"/><use href="#m4" x="1415.0" y="1069.5"/><use href="#m4" x="1418.4" y="1069.7"/><use href="#m4" x="1421.8" y="1068.7"/><use href="#m4" x="1425.2" y="1066.1"/><use href="#m4" x="1428.6" y="1072.1"/><use href="#m4" x="1432.0" y="1078.1"/><use href="#m4" x="1435.4" y="1077.9"/><use href="#m4" x="1438.8" y="1072.9"/><use href="#m4" x="1442.2" y="1072.1"/><use href="#m4" x="1445.6" y="1069.1"/><use href="#m4" x="1449.0" y="1067.5"/><use href="#m4" x="1452.4" y="1067.6"/><use href="#m4" x="1455.8" y="1064.4"/><use href="#m4" x="1459.2" y="1064.7"/><use href="#m4" x="1462.6" y="1065.0"/><use href="#m4" x="1466.0" y="1059.7"/><use href="#m4" x="1469.4" y="1056.9"/><use href="#m4" x="1472.8" y="1054.0"/><use href="#m4" x="1476.2" y="1052.2"/><use href="#m4" x="1479.6" y="1051.0"/><use href="#m4" x="1483.0" y="1050.1"/><use href="#m4" x="1486.4" y="1046.4"/><use href="#m4" x="1489.8" y="1043.5"/><use href="#m4" x="1493.2" y="1037.9"/><use href="#m4" x="1496.6" y="1033.4"/><use href="#m4" x="1500.0" y="1029.5"/><use href="#m4" x="1503.4" y="1027.6"/><use href="#m4" x="1506.8" y="1025.5"/><use href="#m4" x="1510.2" y="1023.6"/><use href="#m4" x="1513.6" y="1021.7"/><use href="#m4" x="1517.0" y="1020.9"/><use href="#m4" x="1520.4" y="1020.3"/><use href="#m4" x="1523.8" y="1021.1"/><use href="#m4" x="1527.2" y="1018.9"/><use href="#m4" x="1530.6" y="1016.2"/><use href="#m4" x="1534.0" y="1015.0"/><use href="#m4" x="1537.4" y="1013.2"/><use href="#m4" x="1540.8" y="1011.2"/><use href="#m4" x="1544.2" y="1007.4"/><use href="#m4" x="1547.6" y="1003.8"/><use href="#m4" x="1551.0" y="998.0"/><use href="#m4" x="1554.4" y="998.4"/><use href="#m4" x="1557.8" y="993.7"/><use href="#m4" x="1561.2" y="991.6"/><use href="#m4" x="1564.6" y="988.7"/><use href="#m4" x="1568.0" y="983.4"/><use href="#m4" x="1571.4" y="982.1"/><use href="#m4" x="1574.8" y="983.3"/><use href="#m4" x="1578.2" y="986.9"/><use href="#m4" x="1581.6" y="988.8"/><use href="#m4" x="1585.0" y="986.0"/><use href="#m4" x="1588.4" y="985.5"/><use href="#m4" x="1591.8" y="985.2"/><use href="#m4" x="1595.2" y="988.1"/><use href="#m4" x="1598.6" y="984.9"/><use href="#m4" x="1602.0" y="987.4"/><use href="#m4" x="1605.4" y="986.2"/><use href="#m4" x="1608.8" y="984.7"/><use href="#m4" x="1612.2" y="982.9"/><use href="#m4" x="1615.6" y="984.3"/><use href="#m4" x="1619.0" y="979.4"/><use href="#m4" x="1622.4" y="974.7"/><use href="#m4" x="1625.8" y="969.3"/><use href="#m4" x="1629.2" y="965.4"/><use href="#m4" x="1632.6" y="962.3"/><use href="#m4" x="1636.0" y="962.8"/><use href="#m4" x="1639.4" y="961.7"/><use href="#m4" x="1642.8" y="959.1"/><use href="#m4" x="1646.2" y="955.9"/><use href="#m4" x="1649.6" y="956.2"/><use href="#m4" x="1653.0" y="954.9"/><use href="#m4" x="1656.4" y="957.0"/><use href="#m4" x="1659.8" y="960.2"/><use href="#m4" x="1663.2" y="962.8"/><use href="#m4" x="1666.6" y="964.8"/><use href="#m4" x="1670.0" y="964.1"/><use href="#m4" x="1673.4" y="964.7"/><use href="#m4" x="1676.8" y="962.4"/><use href="#m4" x="1680.2" y="961.6"/><use href="#m4" x="1683.6" y="959.6"/><use href="#m4" x="1687.0" y="960.5"/><use href="#m4" x="1690.4" y="963.3"/><use href="#m4" x="1693.8" y="964.3"/><use href="#m4" x="1697.2" y="962.1"/><use href="#m4" x="1700.6" y="960.3"/><use href="#m4" x="1704.0" y="956.2"/><use href="#m4" x="1707.4" y="952.9"/><use href="#m4" x="1710.8" y="952.9"/><use href="#m4" x="1714.2" y="958.3"/><use href="#m4" x="1717.6" y="961.0"/><use href="#m4" x="1721.0" y="959.0"/><use href="#m4" x="1724.4" y="959.4"/><use href="#m4" x="1727.8" y="962.5"/><use href="#m4" x="1731.2" y="962.7"/><use href="#m4" x="1734.6" y="963.1"/><use href="#m4" x="1738.0" y="965.1"/><use href="#m4" x="1741.4" y="966.3"/><use href="#m4" x="1744.8" y="968.1"/><use href="#m4" x="1748.2" y="970.7"/><use href="#m4" x="1751.6" y="973.5"/><use href="#m4" x="1755.0" y="974.9"/><use href="#m4" x="1758.4" y="972.7"/><use href="#m4" x="1761.8" y="974.7"/><use href="#m4" x="1765.2" y="974.0"/><use href="#m4" x="1768.6" y="973.1"/><use href="#m4" x="1772.0" y="974.1"/><use href="#m4" x="1775.4" y="971.6"/><use href="#m4" x="1778.8" y="973.3"/><use href="#m4" x="1782.2" y="972.0"/><use href="#m4" x="1785.6" y="974.6"/><use href="#m4" x="1789.0" y="979.2"/><use href="#m4" x="1792.4" y="979.8"/><use href="#m4" x="1795.8" y="983.5"/><use href="#m4" x="1799.2" y="987.0"/><use href="#m4" x="1802.6" y="991.9"/><use href="#m4" x="1806.0" y="997.6"/><use href="#m4" x="1809.4" y="1001.9"/><use href="#m4" x="1812.8" y="1006.9"/><use href="#m4" x="1816.2" y="1014.6"/><use href="#m4" x="1819.6" y="1020.0"/><use href="#m4" x="1823.0" y="1023.7"/><use href="#m4" x="1826.4" y="1024.4"/><use href="#m4" x="1829.8" y="1030.9"/><use href="#m4" x="1833.2" y="1029.5"/><use href="#m4" x="1836.6" y="1032.3"/><use href="#m4" x="1840.0" y="1039.4"/><use href="#m4" x="1843.4" y="1045.2"/><use href="#m4" x="1846.8" y="1049.3"/><use href="#m4" x="1850.2" y="1049.4"/><use href="#m4" x="1853.6" y="1052.6"/><use href="#m4" x="1857.0" y="1051.8"/><use href="#m4" x="1860.4" y="1052.6"/><use href="#m4" x="1863.8" y="1053.1"/><use href="#m4" x="1867.2" y="1052.7"/><use href="#m4" x="1870.6" y="1069.9"/><use href="#m4" x="1874.0" y="1083.4"/><use href="#m4" x="1877.4" y="1087.3"/><use href="#m4" x="1880.8" y="1087.4"/><use href="#m4" x="1884.2" y="1089.5"/><use href="#m4" x="1887.6" y="1093.5"/><use href="#m4" x="1891.0" y="1095.7"/><use href="#m4" x="1894.4" y="1103.6"/><use href="#m4" x="1897.8" y="1108.9"/><use href="#m4" x="1901.2" y="1114.6"/><use href="#m4" x="1904.6" y="1109.9"/><use href="#m4" x="1908.0" y="1105.2"/><use href="#m4" x="1911.4" y="1106.8"/><use href="#m4" x="1914.8" y="1105.6"/><use href="#m4" x="1918.2" y="1105.0"/><use href="#m4" x="1921.6" y="1108.7"/><use href="#m4" x="1925.0" y="1113.7"/><use href="#m4" x="1928.4" y="1116.2"/><use href="#m4" x="1931.8" y="1119.0"/><use href="#m4" x="1935.2" y="1122.7"/><use href="#m4" x="1938.6" y="1125.4"/><use href="#m4" x="1942.0" y="1126.2"/><use href="#m4" x="1945.4" y="1130.2"/><use href="#m4" x="1948.8" y="1134.8"/><use href="#m4" x="1952.2" y="1137.9"/><use href="#m4" x="1955.6" y="1145.7"/><use href="#m4" x="1959.0" y="1149.6"/><use href="#m4" x="1962.4" y="1151.3"/><use href="#m4" x="1965.8" y="1158.7"/><use href="#m4" x="1969.2" y="1166.4"/><use href="#m4" x="1972.6" y="1173.2"/><use href="#m4" x="1976.0" y="1175.4"/><use href="#m4" x="1979.4" y="1179.2"/><use href="#m4" x="1982.8" y="1175.9"/><use href="#m4" x="1986.2" y="1176.4"/><use href="#m4" x="1989.6" y="1177.1"/><use href="#m4" x="1993.0" y="1178.4"/><use href="#m4" x="1996.4" y="1178.6"/><use href="#m4" x="1999.8" y="1179.4"/><use href="#m4" x="2003.2" y="1178.6"/><use href="#m4" x="2006.6" y="1180.8"/><use href="#m4" x="2010.0" y="1182.2"/><use href="#m4" x="2013.4" y="1181.4"/><use href="#m4" x="2016.8" y="1187.3"/><use href="#m4" x="2020.2" y="1192.7"/><use href="#m4" x="2023.6" y="1200.7"/><use href="#m4" x="2027.0" y="1205.8"/><use href="#m4" x="2030.4" y="1202.7"/><use href="#m4" x="2033.8" y="1200.4"/><use href="#m4" x="2037.2" y="1200.3"/><use href="#m4" x="2040.6" y="1203.3"/><use href="#m4" x="2044.0" y="1207.4"/><use href="#m4" x="2047.4" y="1207.8"/><use href="#m4" x="2050.8" y="1209.4"/><use href="#m4" x="2054.2" y="1208.6"/><use href="#m4" x="2057.6" y="1205.4"/><use href="#m4" x="2061.0" y="1203.6"/><use href="#m4" x="2064.4" y="1199.5"/><use href="#m4" x="2067.8" y="1200.2"/><use href="#m4" x="2071.2" y="1204.7"/><use href="#m4" x="2074.6" y="1205.7"/><use href="#m4" x="2078.0" y="1210.2"/><use href="#m4" x="2081.4" y="1208.7"/><use href="#m4" x="2084.8" y="1210.3"/><use href="#m4" x="2088.2" y="1211.8"/><use href="#m4" x="2091.6" y="1212.5"/><use href="#m4" x="2095.0" y="1216.1"/><use href="#m4" x="2098.4" y="1222.8"/><use href="#m4" x="2101.8" y="1226.3"/><use href="#m4" x="2105.2" y="1232.0"/><use href="#m4" x="2108.6" y="1235.1"/><use href="#m4" x="2112.0" y="1237.2"/><use href="#m4" x="2115.4" y="1242.2"/><use href="#m4" x="2118.8" y="1246.3"/><use href="#m4" x="2122.2" y="1250.5"/><use href="#m4" x="2125.6" y="1252.6"/><use href="#m4" x="2129.0" y="1260.1"/><use href="#m4" x="2132.4" y="1260.8"/><use href="#m4" x="2135.8" y="1264.6"/><use href="#m4" x="2139.2" y="1266.3"/><use href="#m4" x="2142.6" y="1269.9"/><use href="#m4" x="2146.0" y="1270.6"/><use href="#m4" x="2149.4" y="1270.5"/><use href="#m4" x="2152.8" y="1270.0"/><use href="#m4" x="2156.2" y="1268.2"/><use href="#m4" x="2159.6" y="1269.9"/><use href="#m4" x="2163.0" y="1269.2"/><use href="#m4" x="2166.4" y="1270.2"/><use href="#m4" x="2169.8" y="1269.6"/><use href="#m4" x="2173.2" y="1269.6"/><use href="#m4" x="2176.6" y="1272.8"/><use href="#m4" x="2180.0" y="1273.9"/><use href="#m4" x="2183.4" y="1275.0"/></g>
<g><use href="#m5" x="209.5" y="1481.5"/><use href="#m5" x="213.6" y="1481.5"/><use href="#m5" x="217.6" y="1481.5"/><use href="#m5" x="221.7" y="1481.5"/><use href="#m5" x="225.7" y="1481.5"/><use href="#m5" x="229.8" y="1481.5"/><use href="#m5" x="233.8" y="1481.5"/><use href="#m5" x="237.9" y="1481.5"/><use href="#m5" x="241.9" y="1481.5"/><use href="#m5" x="246.0" y="1481.5"/><use href="#m5" x="250.0" y="1481.5"/><use href="#m5" x="254.1" y="1481.5"/><use href="#m5" x="258.1" y="1481.5"/><use href="#m5" x="262.2" y="1481.5"/><use href="#m5" x="266.2" y="1481.5"/><use href="#m5" x="270.3" y="1481.5"/><use href="#m5" x="274.3" y="1481.5"/><use href="#m5" x="278.4" y="1481.5"/><use href="#m5" x="282.4" y="1481.5"/><use href="#m5" x="286.5" y="1481.5"/><use href="#m5" x="290.5" y="1481.5"/><use href="#m5" x="294.6" y="1481.5"/><use href="#m5" x="298.6" y="1481.5"/><use href="#m5" x="302.7" y="1481.5"/><use href="#m5" x="306.7" y="1481.5"/><use href="#m5" x="310.8" y="1481.5"/><use href="#m5" x="314.8" y="1481.5"/><use href="#m5" x="318.9" y="1481.5"/><use href="#m5" x="322.9" y="1481.5"/><use href="#m5" x="327.0" y="1480.2"/><use href="#m5" x="331.0" y="1477.3"/><use href="#m5" x="335.1" y="1474.0"/><use href="#m5" x="339.1" y="1470.1"/><use href="#m5" x="343.2" y="1465.8"/><use href="#m5" x="347.2" y="1460.7"/><use href="#m5" x="351.3" y="1454.8"/><use href="#m5" x="355.3" y="1447.9"/><use href="#m5" x="359.4" y="1439.8"/><use href="#m5" x="363.4" y="1430.0"/><use href="#m5" x="367.5" y="1418.4"/><use href="#m5" x="371.5" y="1404.6"/><use href="#m5" x="375.6" y="1389.2"/><use href="#m5" x="379.6" y="1373.5"/><use href="#m5" x="383.7" y="1358.3"/><use href="#m5" x="387.7" y="1343.9"/><use href="#m5" x="391.8" y="1330.5"/><use href="#m5" x="395.8" y="1318.0"/><use href="#m5" x="399.9" y="1306.4"/><use href="#m5" x="403.9" y="1295.7"/><use href="#m5" x="408.0" y="1285.7"/><use href="#m5" x="412.0" y="1276.5"/><use href="#m5" x="416.1" y="1267.8"/><use href="#m5" x="420.1" y="1259.7"/><use href="#m5" x="424.2" y="1251.9"/><use href="#m5" x="428.2" y="1244.4"/><use href="#m5" x="432.3" y="1237.0"/><use href="#m5" x="436.3" y="1229.7"/><use href="#m5" x="440.4" y="1222.4"/><use href="#m5" x="444.4" y="1215.1"/><use href="#m5" x="448.5" y="1207.6"/><use href="#m5" x="452.5" y="1199.9"/><use href="#m5" x="456.6" y="1191.9"/><use href="#m5" x="460.6" y="1183.5"/><use href="#m5" x="464.7" y="1174.4"/><use href="#m5" x="468.7" y="1164.4"/></g>
<g><use href="#m7" x="209.5" y="1481.5"/><use href="#m7" x="214.2" y="1481.5"/><use href="#m7" x="218.8" y="1481.5"/><use href="#m7" x="223.5" y="1481.5"/><use href="#m7" x="228.1" y="1481.5"/><use href="#m7" x="232.8" y="1481.5"/><use href="#m7" x="237.4" y="1481.5"/><use href="#m7" x="242.1" y="1481.5"/><use href="#m7" x="246.7" y="1481.5"/><use href="#m7" x="251.4" y="1481.5"/><use href="#m7" x="256.0" y="1481.5"/><use href="#m7" x="260.7" y="1481.5"/><use href="#m7" x="265.3" y="1481.5"/><use href="#m7" x="269.9" y="1481.5"/><use href="#m7" x="274.6" y="1481.5"/><use href="#m7" x="279.2" y="1481.5"/><use href="#m7" x="283.9" y="1481.5"/><use href="#m7" x="288.5" y="1481.5"/><use href="#m7" x="293.2" y="1481.5"/><use href="#m7" x="297.8" y="1481.4"/><use href="#m7" x="302.5" y="1480.8"/><use href="#m7" x="307.1" y="1479.5"/><use href="#m7" x="311.8" y="1477.7"/><use href="#m7" x="316.4" y="1475.3"/><use href="#m7" x="321.1" y="1472.3"/><use href="#m7" x="325.7" y="1468.6"/><use href="#m7" x="330.4" y="1464.1"/><use href="#m7" x="335.0" y="1458.5"/><use href="#m7" x="339.7" y="1451.3"/><use href="#m7" x="344.3" y="1442.0"/><use href="#m7" x="349.0" y="1430.4"/><use href="#m7" x="353.6" y="1418.0"/><use href="#m7" x="358.3" y="1407.2"/><use href="#m7" x="362.9" y="1398.3"/><use href="#m7" x="367.6" y="1390.4"/><use href="#m7" x="372.2" y="1383.2"/><use href="#m7" x="376.9" y="1376.6"/><use href="#m7" x="381.5" y="1370.2"/><use href="#m7" x="386.2" y="1364.1"/><use href="#m7" x="390.8" y="1358.1"/><use href="#m7" x="395.5" y="1352.1"/><use href="#m7" x="400.1" y="1346.2"/><use href="#m7" x="404.8" y="1340.1"/><use href="#m7" x="409.4" y="1333.9"/><use href="#m7" x="414.1" y="1327.5"/><use href="#m7" x="418.7" y="1320.7"/><use href="#m7" x="423.4" y="1313.3"/><use href="#m7" x="428.0" y="1305.3"/><use href="#m7" x="432.7" y="1296.4"/><use href="#m7" x="437.3" y="1286.6"/><use href="#m7" x="442.0" y="1275.5"/><use href="#m7" x="446.6" y="1263.1"/><use href="#m7" x="451.3" y="1249.0"/><use href="#m7" x="455.9" y="1232.9"/><use href="#m7" x="460.6" y="1214.6"/><use href="#m7" x="465.2" y="1194.1"/><use href="#m7" x="469.9" y="1172.0"/></g>
<g><use href="#m7" x="474.5" y="1148.1"/><use href="#m7" x="479.2" y="1122.3"/><use href="#m7" x="483.8" y="1094.4"/><use href="#m7" x="488.5" y="1064.1"/><use href="#m7" x="493.1" y="1031.7"/><use href="#m7" x="497.8" y="997.4"/><use href="#m7" x="502.4" y="961.8"/><use href="#m7" x="507.1" y="925.7"/><use href="#m7" x="511.7" y="890.3"/><use href="#m7" x="516.4" y="856.4"/><use href="#m7" x="521.0" y="824.4"/><use href="#m7" x="525.7" y="794.8"/><use href="#m7" x="530.3" y="767.4"/><use href="#m7" x="535.0" y="742.5"/><use href="#m7" x="539.6" y="720.3"/><use href="#m7" x="544.3" y="700.5"/><use href="#m7" x="548.9" y="683.0"/><use href="#m7" x="553.6" y="667.1"/><use href="#m7" x="558.2" y="652.8"/><use href="#m7" x="562.9" y="639.6"/><use href="#m7" x="567.5" y="627.6"/><use href="#m7" x="572.2" y="617.0"/><use href="#m7" x="576.8" y="607.8"/><use href="#m7" x="581.5" y="600.0"/><use href="#m7" x="586.1" y="593.4"/><use href="#m7" x="590.8" y="587.8"/><use href="#m7" x="595.4" y="583.0"/><use href="#m7" x="600.1" y="579.1"/><use href="#m7" x="604.7" y="575.9"/><use href="#m7" x="609.4" y="573.2"/><use href="#m7" x="614.0" y="571.1"/><use href="#m7" x="618.7" y="569.4"/><use href="#m7" x="623.3" y="568.1"/><use href="#m7" x="628.0" y="567.2"/><use href="#m7" x="632.6" y="566.4"/><use href="#m7" x="637.3" y="566.0"/><use href="#m7" x="641.9" y="565.7"/><use href="#m7" x="646.6" y="565.7"/><use href="#m7" x="651.2" y="565.8"/><use href="#m7" x="655.9" y="566.1"/><use href="#m7" x="660.5" y="566.6"/><use href="#m7" x="665.2" y="567.2"/><use href="#m7" x="669.8" y="568.0"/><use href="#m7" x="674.5" y="569.0"/><use href="#m7" x="679.1" y="570.1"/><use href="#m7" x="683.8" y="571.4"/><use href="#m7" x="688.4" y="572.9"/><use href="#m7" x="693.1" y="574.6"/><use href="#m7" x="697.7" y="576.4"/><use href="#m7" x="702.4" y="578.4"/><use href="#m7" x="707.0" y="580.5"/><use href="#m7" x="711.7" y="582.8"/><use href="#m7" x="716.3" y="585.2"/><use href="#m7" x="721.0" y="587.6"/><use href="#m7" x="725.6" y="590.2"/><use href="#m7" x="730.3" y="592.7"/><use href="#m7" x="734.9" y="595.3"/><use href="#m7" x="739.6" y="597.9"/><use href="#m7" x="744.2" y="600.4"/><use href="#m7" x="748.9" y="602.9"/><use href="#m7" x="753.5" y="605.3"/><use href="#m7" x="758.2" y="607.6"/><use href="#m7" x="762.8" y="609.8"/><use href="#m7" x="767.5" y="612.0"/><use href="#m7" x="772.1" y="614.0"/><use href="#m7" x="776.8" y="615.9"/><use href="#m7" x="781.4" y="617.7"/><use href="#m7" x="786.1" y="619.4"/><use href="#m7" x="790.7" y="620.9"/><use href="#m7" x="795.4" y="622.3"/></g>
<g><use href="#m5" x="472.8" y="1153.1"/><use href="#m5" x="476.8" y="1140.5"/><use href="#m5" x="480.9" y="1126.3"/><use href="#m5" x="484.9" y="1110.6"/><use href="#m5" x="489.0" y="1093.6"/><use href="#m5" x="493.0" y="1075.4"/><use href="#m5" x="497.1" y="1056.0"/><use href="#m5" x="501.1" y="1035.2"/><use href="#m5" x="505.2" y="1013.0"/><use href="#m5" x="509.2" y="989.2"/><use href="#m5" x="513.3" y="963.9"/><use href="#m5" x="517.3" y="937.3"/><use href="#m5" x="521.4" y="909.6"/><use href="#m5" x="525.4" y="881.3"/><use href="#m5" x="529.5" y="853.0"/><use href="#m5" x="533.5" y="825.3"/><use href="#m5" x="537.6" y="798.6"/><use href="#m5" x="541.6" y="773.2"/><use href="#m5" x="545.7" y="749.5"/><use href="#m5" x="549.7" y="728.4"/><use href="#m5" x="553.8" y="709.9"/><use href="#m5" x="557.8" y="693.7"/><use href="#m5" x="561.9" y="679.4"/><use href="#m5" x="565.9" y="666.6"/><use href="#m5" x="570.0" y="655.1"/><use href="#m5" x="574.0" y="644.5"/><use href="#m5" x="578.1" y="635.1"/><use href="#m5" x="582.1" y="627.2"/><use href="#m5" x="586.1" y="620.9"/><use href="#m5" x="590.2" y="616.2"/><use href="#m5" x="594.2" y="612.8"/><use href="#m5" x="598.3" y="610.5"/><use href="#m5" x="602.3" y="609.1"/><use href="#m5" x="606.4" y="608.3"/><use href="#m5" x="610.4" y="608.2"/><use href="#m5" x="614.5" y="608.4"/><use href="#m5" x="618.5" y="609.0"/><use href="#m5" x="622.6" y="609.8"/><use href="#m5" x="626.6" y="610.8"/><use href="#m5" x="630.7" y="612.1"/><use href="#m5" x="634.7" y="613.5"/><use href="#m5" x="638.8" y="615.1"/><use href="#m5" x="642.8" y="616.8"/><use href="#m5" x="646.9" y="618.6"/><use href="#m5" x="650.9" y="620.5"/><use href="#m5" x="655.0" y="622.6"/><use href="#m5" x="659.0" y="624.8"/><use href="#m5" x="663.1" y="627.1"/><use href="#m5" x="667.1" y="629.6"/><use href="#m5" x="671.2" y="632.2"/><use href="#m5" x="675.2" y="634.9"/><use href="#m5" x="679.3" y="637.7"/><use href="#m5" x="683.3" y="640.6"/><use href="#m5" x="687.4" y="643.7"/><use href="#m5" x="691.4" y="646.8"/><use href="#m5" x="695.5" y="650.1"/><use href="#m5" x="699.5" y="653.4"/><use href="#m5" x="703.6" y="656.8"/><use href="#m5" x="707.6" y="660.3"/><use href="#m5" x="711.7" y="663.8"/><use href="#m5" x="715.7" y="667.4"/><use href="#m5" x="719.8" y="670.9"/><use href="#m5" x="723.8" y="674.6"/><use href="#m5" x="727.9" y="678.2"/><use href="#m5" x="731.9" y="681.7"/><use href="#m5" x="736.0" y="685.3"/><use href="#m5" x="740.0" y="688.8"/><use href="#m5" x="744.1" y="692.3"/><use href="#m5" x="748.1" y="695.6"/><use href="#m5" x="752.2" y="699.0"/><use href="#m5" x="756.2" y="702.2"/><use href="#m5" x="760.3" y="705.5"/><use href="#m5" x="764.3" y="708.6"/><use href="#m5" x="768.4" y="711.7"/><use href="#m5" x="772.4" y="714.8"/><use href="#m5" x="776.5" y="717.7"/><use href="#m5" x="780.5" y="720.7"/><use href="#m5" x="784.6" y="723.5"/><use href="#m5" x="788.6" y="726.4"/><use href="#m5" x="792.7" y="729.2"/><use href="#m5" x="796.7" y="731.9"/><use href="#m5" x="800.8" y="734.6"/><use href="#m5" x="804.8" y="737.2"/><use href="#m5" x="808.9" y="739.8"/><use href="#m5" x="812.9" y="742.3"/><use href="#m5" x="817.0" y="744.8"/><use href="#m5" x="821.0" y="747.3"/><use href="#m5" x="825.1" y="749.7"/><use href="#m5" x="829.1" y="752.0"/><use href="#m5" x="833.2" y="754.2"/><use href="#m5" x="837.2" y="756.3"/><use href="#m5" x="841.3" y="758.3"/><use href="#m5" x="845.3" y="760.2"/><use href="#m5" x="849.4" y="762.0"/><use href="#m5" x="853.4" y="763.6"/><use href="#m5" x="857.5" y="765.1"/><use href="#m5" x="861.5" y="766.4"/><use href="#m5" x="865.6" y="767.5"/><use href="#m5" x="869.6" y="768.4"/><use href="#m5" x="873.7" y="769.1"/><use href="#m5" x="877.7" y="769.7"/><use href="#m5" x="881.8" y="769.9"/><use href="#m5" x="885.8" y="770.0"/><use href="#m5" x="889.9" y="769.8"/><use href="#m5" x="893.9" y="769.3"/><use href="#m5" x="898.0" y="768.6"/><use href="#m5" x="902.0" y="767.6"/><use href="#m5" x="906.1" y="766.4"/><use href="#m5" x="910.1" y="764.9"/><use href="#m5" x="914.2" y="763.2"/><use href="#m5" x="918.2" y="761.2"/><use href="#m5" x="922.3" y="759.0"/><use href="#m5" x="926.3" y="756.5"/><use href="#m5" x="930.4" y="753.7"/><use href="#m5" x="934.4" y="750.6"/><use href="#m5" x="938.5" y="747.1"/><use href="#m5" x="942.5" y="743.1"/><use href="#m5" x="946.6" y="738.7"/><use href="#m5" x="950.6" y="733.6"/><use href="#m5" x="954.7" y="727.9"/><use href="#m5" x="958.7" y="721.5"/><use href="#m5" x="962.8" y="714.3"/><use href="#m5" x="966.8" y="706.4"/><use href="#m5" x="970.9" y="697.7"/><use href="#m5" x="974.9" y="688.6"/><use href="#m5" x="979.0" y="679.4"/><use href="#m5" x="983.0" y="670.3"/><use href="#m5" x="987.1" y="661.7"/><use href="#m5" x="991.1" y="653.7"/><use href="#m5" x="995.2" y="646.5"/><use href="#m5" x="999.2" y="640.0"/><use href="#m5" x="1003.3" y="634.3"/><use href="#m5" x="1007.3" y="629.3"/><use href="#m5" x="1011.4" y="625.0"/><use href="#m5" x="1015.4" y="621.2"/><use href="#m5" x="1019.5" y="618.0"/><use href="#m5" x="1023.5" y="615.4"/><use href="#m5" x="1027.6" y="613.2"/><use href="#m5" x="1031.6" y="611.5"/><use href="#m5" x="1035.7" y="610.4"/><use href="#m5" x="1039.7" y="609.7"/><use href="#m5" x="1043.8" y="609.4"/><use href="#m5" x="1047.8" y="609.6"/><use href="#m5" x="1051.9" y="610.3"/><use href="#m5" x="1055.9" y="611.4"/><use href="#m5" x="1060.0" y="613.0"/><use href="#m5" x="1064.0" y="615.0"/><use href="#m5" x="1068.1" y="617.4"/><use href="#m5" x="1072.1" y="620.3"/><use href="#m5" x="1076.2" y="623.7"/><use href="#m5" x="1080.2" y="627.6"/><use href="#m5" x="1084.3" y="632.1"/><use href="#m5" x="1088.3" y="637.3"/><use href="#m5" x="1092.4" y="643.3"/><use href="#m5" x="1096.4" y="650.1"/><use href="#m5" x="1100.5" y="657.7"/><use href="#m5" x="1104.5" y="665.9"/><use href="#m5" x="1108.6" y="674.7"/><use href="#m5" x="1112.6" y="683.6"/><use href="#m5" x="1116.7" y="692.6"/><use href="#m5" x="1120.7" y="701.7"/><use href="#m5" x="1124.8" y="710.8"/><use href="#m5" x="1128.8" y="720.0"/><use href="#m5" x="1132.9" y="729.3"/><use href="#m5" x="1136.9" y="738.7"/><use href="#m5" x="1141.0" y="748.2"/><use href="#m5" x="1145.0" y="757.9"/><use href="#m5" x="1149.1" y="767.7"/><use href="#m5" x="1153.1" y="777.7"/><use href="#m5" x="1157.2" y="787.9"/><use href="#m5" x="1161.2" y="798.3"/><use href="#m5" x="1165.3" y="809.0"/><use href="#m5" x="1169.3" y="820.0"/><use href="#m5" x="1173.4" y="831.4"/><use href="#m5" x="1177.4" y="843.1"/><use href="#m5" x="1181.5" y="855.3"/><use href="#m5" x="1185.5" y="868.0"/><use href="#m5" x="1189.6" y="881.4"/><use href="#m5" x="1193.6" y="895.5"/><use href="#m5" x="1197.7" y="910.5"/><use href="#m5" x="1201.7" y="926.4"/><use href="#m5" x="1205.8" y="943.2"/><use href="#m5" x="1209.8" y="961.0"/><use href="#m5" x="1213.9" y="979.8"/><use href="#m5" x="1217.9" y="999.5"/><use href="#m5" x="1222.0" y="1020.0"/><use href="#m5" x="1226.0" y="1041.4"/><use href="#m5" x="1230.1" y="1063.6"/><use href="#m5" x="1234.1" y="1086.5"/><use href="#m5" x="1238.2" y="1110.1"/><use href="#m5" x="1242.2" y="1134.3"/><use href="#m5" x="1246.3" y="1158.9"/><use href="#m5" x="1250.3" y="1183.8"/><use href="#m5" x="1254.4" y="1209.2"/><use href="#m5" x="1258.4" y="1234.9"/><use href="#m5" x="1262.5" y="1261.2"/><use href="#m5" x="1266.5" y="1288.0"/><use href="#m5" x="1270.6" y="1315.6"/><use href="#m5" x="1274.6" y="1343.1"/><use href="#m5" x="1278.7" y="1368.3"/><use href="#m5" x="1282.7" y="1390.0"/><use href="#m5" x="1286.8" y="1408.4"/><use href="#m5" x="1290.8" y="1424.1"/><use href="#m5" x="1294.9" y="1437.9"/><use href="#m5" x="1298.9" y="1450.0"/><use href="#m5" x="1303.0" y="1460.0"/><use href="#m5" x="1307.0" y="1467.4"/><use href="#m5" x="1311.1" y="1472.6"/><use href="#m5" x="1315.1" y="1476.3"/><use href="#m5" x="1319.2" y="1478.9"/><use href="#m5" x="1323.2" y="1480.5"/><use href="#m5" x="1327.3" y="1481.5"/><use href="#m5" x="1331.3" y="1481.5"/><use href="#m5" x="1335.4" y="1481.5"/><use href="#m5" x="1339.4" y="1481.5"/><use href="#m5" x="1343.5" y="1481.5"/><use href="#m5" x="1347.5" y="1481.5"/><use href="#m5" x="1351.6" y="1481.5"/><use href="#m5" x="1355.6" y="1481.5"/><use href="#m5" x="1359.7" y="1481.5"/></g>
<g><use href="#m8" x="553.7" y="1208.6"/><use href="#m8" x="560.7" y="1190.7"/><use href="#m8" x="567.7" y="1180.6"/><use href="#m8" x="574.7" y="1168.5"/><use href="#m8" x="581.7" y="1153.7"/><use href="#m8" x="588.7" y="1144.6"/><use href="#m8" x="595.7" y="1136.1"/><use href="#m8" x="602.7" y="1118.1"/><use href="#m8" x="609.7" y="1103.6"/><use href="#m8" x="616.7" y="1088.0"/><use href="#m8" x="623.7" y="1072.2"/><use href="#m8" x="630.7" y="1058.1"/><use href="#m8" x="637.7" y="1044.2"/><use href="#m8" x="644.7" y="1031.8"/><use href="#m8" x="651.7" y="1022.0"/><use href="#m8" x="658.7" y="1018.4"/><use href="#m8" x="665.7" y="1012.2"/><use href="#m8" x="672.7" y="1002.2"/><use href="#m8" x="679.7" y="993.2"/><use href="#m8" x="686.7" y="983.7"/><use href="#m8" x="693.7" y="968.7"/><use href="#m8" x="700.7" y="954.0"/><use href="#m8" x="707.7" y="942.6"/><use href="#m8" x="714.7" y="928.0"/><use href="#m8" x="721.7" y="910.6"/><use href="#m8" x="728.7" y="895.6"/><use href="#m8" x="735.7" y="883.4"/><use href="#m8" x="742.7" y="869.1"/><use href="#m8" x="749.7" y="853.7"/><use href="#m8" x="756.7" y="838.9"/><use href="#m8" x="763.7" y="822.0"/><use href="#m8" x="770.7" y="807.8"/><use href="#m8" x="777.7" y="798.6"/><use href="#m8" x="784.7" y="791.4"/><use href="#m8" x="791.7" y="781.8"/><use href="#m8" x="798.7" y="771.5"/><use href="#m8" x="805.7" y="758.9"/><use href="#m8" x="812.7" y="749.9"/><use href="#m8" x="819.7" y="739.1"/><use href="#m8" x="826.7" y="735.5"/><use href="#m8" x="833.7" y="730.5"/><use href="#m8" x="840.7" y="725.9"/><use href="#m8" x="847.7" y="722.7"/><use href="#m8" x="854.7" y="719.3"/><use href="#m8" x="861.7" y="714.7"/><use href="#m8" x="868.7" y="712.0"/><use href="#m8" x="875.7" y="709.6"/><use href="#m8" x="882.7" y="707.2"/><use href="#m8" x="889.7" y="703.7"/><use href="#m8" x="896.7" y="701.5"/><use href="#m8" x="903.7" y="695.6"/><use href="#m8" x="910.7" y="697.5"/><use href="#m8" x="917.7" y="695.9"/><use href="#m8" x="924.7" y="687.5"/><use href="#m8" x="931.7" y="681.6"/><use href="#m8" x="938.7" y="672.9"/><use href="#m8" x="945.7" y="665.2"/><use href="#m8" x="952.7" y="658.3"/><use href="#m8" x="959.7" y="646.2"/><use href="#m8" x="966.7" y="640.8"/><use href="#m8" x="973.7" y="628.2"/><use href="#m8" x="980.7" y="618.4"/><use href="#m8" x="987.7" y="607.9"/><use href="#m8" x="994.7" y="599.7"/><use href="#m8" x="1001.7" y="589.7"/><use href="#m8" x="1008.7" y="579.0"/><use href="#m8" x="1015.7" y="567.5"/><use href="#m8" x="1022.7" y="555.9"/><use href="#m8" x="1029.7" y="545.6"/><use href="#m8" x="1036.7" y="535.7"/><use href="#m8" x="1043.7" y="523.6"/><use href="#m8" x="1050.7" y="513.0"/><use href="#m8" x="1057.7" y="504.9"/><use href="#m8" x="1064.7" y="493.7"/><use href="#m8" x="1071.7" y="483.5"/><use href="#m8" x="1078.7" y="472.6"/><use href="#m8" x="1085.7" y="463.2"/><use href="#m8" x="1092.7" y="449.3"/><use href="#m8" x="1099.7" y="436.6"/><use href="#m8" x="1106.7" y="422.0"/><use href="#m8" x="1113.7" y="407.7"/><use href="#m8" x="1120.7" y="394.0"/><use href="#m8" x="1127.7" y="382.3"/><use href="#m8" x="1134.7" y="369.2"/><use href="#m8" x="1141.7" y="355.2"/><use href="#m8" x="1148.7" y="338.3"/><use href="#m8" x="1155.7" y="319.2"/><use href="#m8" x="1162.7" y="306.4"/><use href="#m8" x="1169.7" y="294.3"/><use href="#m8" x="1176.7" y="278.5"/><use href="#m8" x="1183.7" y="264.5"/><use href="#m8" x="1190.7" y="254.5"/><use href="#m8" x="1197.7" y="241.1"/><use href="#m8" x="1204.7" y="227.7"/><use href="#m8" x="1211.7" y="215.4"/><use href="#m8" x="1218.7" y="207.4"/><use href="#m8" x="1225.7" y="199.7"/><use href="#m8" x="1232.7" y="192.4"/><use href="#m8" x="1239.7" y="183.3"/><use href="#m8" x="1246.7" y="176.3"/><use href="#m8" x="1253.7" y="174.0"/><use href="#m8" x="1260.7" y="171.4"/><use href="#m8" x="1267.7" y="168.7"/><use href="#m8" x="1274.7" y="169.1"/><use href="#m8" x="1281.7" y="172.4"/><use href="#m8" x="1288.7" y="169.6"/><use href="#m8" x="1295.7" y="170.0"/><use href="#m8" x="1302.7" y="172.9"/><use href="#m8" x="1309.7" y="172.7"/><use href="#m8" x="1316.7" y="175.4"/><use href="#m8" x="1323.7" y="173.3"/><use href="#m8" x="1330.7" y="173.8"/><use href="#m8" x="1337.7" y="177.1"/><use href="#m8" x="1344.7" y="182.0"/><use href="#m8" x="1351.7" y="180.8"/><use href="#m8" x="1358.7" y="182.0"/><use href="#m8" x="1365.7" y="186.6"/><use href="#m8" x="1372.7" y="195.2"/><use href="#m8" x="1379.7" y="202.5"/><use href="#m8" x="1386.7" y="209.1"/><use href="#m8" x="1393.7" y="221.2"/><use href="#m8" x="1400.7" y="233.3"/><use href="#m8" x="1407.7" y="244.4"/><use href="#m8" x="1414.7" y="254.4"/><use href="#m8" x="1421.7" y="266.6"/><use href="#m8" x="1428.7" y="281.6"/><use href="#m8" x="1435.7" y="293.7"/><use href="#m8" x="1442.7" y="311.9"/><use href="#m8" x="1449.7" y="332.8"/><use href="#m8" x="1456.7" y="351.7"/><use href="#m8" x="1463.7" y="374.6"/><use href="#m8" x="1470.7" y="398.0"/><use href="#m8" x="1477.7" y="416.3"/><use href="#m8" x="1484.7" y="436.4"/><use href="#m8" x="1491.7" y="455.6"/><use href="#m8" x="1498.7" y="479.0"/><use href="#m8" x="1505.7" y="500.6"/><use href="#m8" x="1512.7" y="523.9"/><use href="#m8" x="1519.7" y="543.8"/><use href="#m8" x="1526.7" y="565.5"/><use href="#m8" x="1533.7" y="584.0"/><use href="#m8" x="1540.7" y="605.7"/><use href="#m8" x="1547.7" y="625.3"/><use href="#m8" x="1554.7" y="648.7"/><use href="#m8" x="1561.7" y="672.2"/><use href="#m8" x="1568.7" y="695.1"/><use href="#m8" x="1575.7" y="716.1"/><use href="#m8" x="1582.7" y="733.8"/><use href="#m8" x="1589.7" y="754.5"/><use href="#m8" x="1596.7" y="774.6"/><use href="#m8" x="1603.7" y="791.5"/><use href="#m8" x="1610.7" y="809.6"/><use href="#m8" x="1617.7" y="825.8"/><use href="#m8" x="1624.7" y="845.7"/><use href="#m8" x="1631.7" y="862.9"/><use href="#m8" x="1638.7" y="881.1"/><use href="#m8" x="1645.7" y="904.1"/><use href="#m8" x="1652.7" y="926.5"/><use href="#m8" x="1659.7" y="943.7"/><use href="#m8" x="1666.7" y="961.9"/></g>
<g><use href="#m6" x="425.0" y="1479.1"/><use href="#m6" x="429.4" y="1475.6"/><use href="#m6" x="433.8" y="1469.4"/><use href="#m6" x="438.2" y="1464.7"/><use href="#m6" x="442.6" y="1460.9"/><use href="#m6" x="447.0" y="1453.9"/><use href="#m6" x="451.4" y="1447.8"/><use href="#m6" x="455.8" y="1439.6"/><use href="#m6" x="460.2" y="1432.5"/><use href="#m6" x="464.6" y="1424.9"/><use href="#m6" x="469.0" y="1415.1"/><use href="#m6" x="473.4" y="1407.2"/><use href="#m6" x="477.8" y="1397.6"/><use href="#m6" x="482.2" y="1387.3"/><use href="#m6" x="486.6" y="1376.6"/><use href="#m6" x="491.0" y="1368.6"/><use href="#m6" x="495.4" y="1360.0"/><use href="#m6" x="499.8" y="1350.1"/><use href="#m6" x="504.2" y="1342.2"/><use href="#m6" x="508.6" y="1334.2"/><use href="#m6" x="513.0" y="1324.9"/><use href="#m6" x="517.4" y="1308.6"/><use href="#m6" x="521.8" y="1291.3"/><use href="#m6" x="526.2" y="1278.0"/><use href="#m6" x="530.6" y="1261.1"/><use href="#m6" x="535.0" y="1243.2"/><use href="#m6" x="539.4" y="1227.8"/><use href="#m6" x="543.8" y="1211.6"/><use href="#m6" x="548.2" y="1199.1"/><use href="#m6" x="552.6" y="1187.6"/><use href="#m6" x="557.0" y="1177.6"/><use href="#m6" x="561.4" y="1172.0"/><use href="#m6" x="565.8" y="1165.5"/><use href="#m6" x="570.2" y="1157.5"/><use href="#m6" x="574.6" y="1149.5"/><use href="#m6" x="579.0" y="1144.3"/><use href="#m6" x="583.4" y="1138.4"/><use href="#m6" x="587.8" y="1129.5"/><use href="#m6" x="592.2" y="1120.6"/><use href="#m6" x="596.6" y="1113.1"/><use href="#m6" x="601.0" y="1105.9"/><use href="#m6" x="605.4" y="1096.0"/><use href="#m6" x="609.8" y="1088.9"/><use href="#m6" x="614.2" y="1083.5"/><use href="#m6" x="618.6" y="1075.9"/><use href="#m6" x="623.0" y="1070.0"/><use href="#m6" x="627.4" y="1064.3"/><use href="#m6" x="631.8" y="1059.0"/><use href="#m6" x="636.2" y="1054.2"/><use href="#m6" x="640.6" y="1049.6"/><use href="#m6" x="645.0" y="1042.8"/><use href="#m6" x="649.4" y="1037.2"/><use href="#m6" x="653.8" y="1033.9"/><use href="#m6" x="658.2" y="1033.2"/><use href="#m6" x="662.6" y="1031.4"/><use href="#m6" x="667.0" y="1032.6"/><use href="#m6" x="671.4" y="1033.6"/><use href="#m6" x="675.8" y="1034.8"/><use href="#m6" x="680.2" y="1035.7"/><use href="#m6" x="684.6" y="1035.9"/><use href="#m6" x="689.0" y="1033.2"/><use href="#m6" x="693.4" y="1033.9"/><use href="#m6" x="697.8" y="1032.0"/><use href="#m6" x="702.2" y="1029.7"/><use href="#m6" x="706.6" y="1024.6"/><use href="#m6" x="711.0" y="1018.9"/><use href="#m6" x="715.4" y="1020.4"/><use href="#m6" x="719.8" y="1021.4"/><use href="#m6" x="724.2" y="1021.3"/><use href="#m6" x="728.6" y="1022.6"/><use href="#m6" x="733.0" y="1025.4"/><use href="#m6" x="737.4" y="1028.6"/><use href="#m6" x="741.8" y="1030.9"/><use href="#m6" x="746.2" y="1034.9"/><use href="#m6" x="750.6" y="1036.0"/><use href="#m6" x="755.0" y="1040.5"/><use href="#m6" x="759.4" y="1043.0"/><use href="#m6" x="763.8" y="1043.5"/><use href="#m6" x="768.2" y="1044.8"/><use href="#m6" x="772.6" y="1046.4"/><use href="#m6" x="777.0" y="1049.0"/><use href="#m6" x="781.4" y="1051.2"/><use href="#m6" x="785.8" y="1052.6"/><use href="#m6" x="790.2" y="1053.3"/><use href="#m6" x="794.6" y="1046.2"/><use href="#m6" x="799.0" y="1041.7"/><use href="#m6" x="803.4" y="1039.7"/><use href="#m6" x="807.8" y="1037.9"/><use href="#m6" x="812.2" y="1036.9"/><use href="#m6" x="816.6" y="1036.2"/><use href="#m6" x="821.0" y="1033.0"/><use href="#m6" x="825.4" y="1032.1"/><use href="#m6" x="829.8" y="1031.5"/><use href="#m6" x="834.2" y="1031.5"/><use href="#m6" x="838.6" y="1031.0"/><use href="#m6" x="843.0" y="1030.5"/><use href="#m6" x="847.4" y="1028.5"/><use href="#m6" x="851.8" y="1026.4"/><use href="#m6" x="856.2" y="1027.1"/><use href="#m6" x="860.6" y="1023.7"/><use href="#m6" x="865.0" y="1020.9"/><use href="#m6" x="869.4" y="1016.7"/><use href="#m6" x="873.8" y="1013.3"/><use href="#m6" x="878.2" y="1008.6"/><use href="#m6" x="882.6" y="1002.3"/><use href="#m6" x="887.0" y="999.1"/><use href="#m6" x="891.4" y="996.2"/><use href="#m6" x="895.8" y="999.2"/><use href="#m6" x="900.2" y="1003.6"/><use href="#m6" x="904.6" y="1008.8"/><use href="#m6" x="909.0" y="1009.8"/><use href="#m6" x="913.4" y="1012.2"/><use href="#m6" x="917.8" y="1016.0"/><use href="#m6" x="922.2" y="1022.8"/><use href="#m6" x="926.6" y="1027.0"/><use href="#m6" x="931.0" y="1029.5"/><use href="#m6" x="935.4" y="1026.6"/><use href="#m6" x="939.8" y="1021.1"/><use href="#m6" x="944.2" y="1021.2"/><use href="#m6" x="948.6" y="1019.4"/><use href="#m6" x="953.0" y="1017.3"/><use href="#m6" x="957.4" y="1015.2"/><use href="#m6" x="961.8" y="1012.4"/><use href="#m6" x="966.2" y="1007.9"/><use href="#m6" x="970.6" y="1003.8"/><use href="#m6" x="975.0" y="1001.6"/><use href="#m6" x="979.4" y="1000.6"/><use href="#m6" x="983.8" y="999.2"/><use href="#m6" x="988.2" y="998.4"/><use href="#m6" x="992.6" y="998.6"/><use href="#m6" x="997.0" y="994.0"/><use href="#m6" x="1001.4" y="989.8"/><use href="#m6" x="1005.8" y="986.5"/><use href="#m6" x="1010.2" y="984.1"/><use href="#m6" x="1014.6" y="983.5"/><use href="#m6" x="1019.0" y="982.0"/><use href="#m6" x="1023.4" y="982.5"/><use href="#m6" x="1027.8" y="982.9"/><use href="#m6" x="1032.2" y="981.9"/><use href="#m6" x="1036.6" y="982.9"/><use href="#m6" x="1041.0" y="978.5"/><use href="#m6" x="1045.4" y="975.1"/><use href="#m6" x="1049.8" y="971.0"/><use href="#m6" x="1054.2" y="965.4"/><use href="#m6" x="1058.6" y="960.5"/><use href="#m6" x="1063.0" y="953.6"/><use href="#m6" x="1067.4" y="949.4"/><use href="#m6" x="1071.8" y="942.5"/><use href="#m6" x="1076.2" y="939.7"/><use href="#m6" x="1080.6" y="938.1"/><use href="#m6" x="1085.0" y="937.1"/><use href="#m6" x="1089.4" y="938.9"/><use href="#m6" x="1093.8" y="942.2"/><use href="#m6" x="1098.2" y="942.7"/><use href="#m6" x="1102.6" y="942.5"/><use href="#m6" x="1107.0" y="940.4"/><use href="#m6" x="1111.4" y="927.9"/><use href="#m6" x="1115.8" y="925.6"/><use href="#m6" x="1120.2" y="924.3"/><use href="#m6" x="1124.6" y="924.1"/><use href="#m6" x="1129.0" y="919.5"/><use href="#m6" x="1133.4" y="913.5"/><use href="#m6" x="1137.8" y="906.2"/><use href="#m6" x="1142.2" y="900.7"/><use href="#m6" x="1146.6" y="895.7"/><use href="#m6" x="1151.0" y="892.9"/><use href="#m6" x="1155.4" y="889.9"/><use href="#m6" x="1159.8" y="884.1"/><use href="#m6" x="1164.2" y="878.2"/><use href="#m6" x="1168.6" y="872.4"/><use href="#m6" x="1173.0" y="866.7"/><use href="#m6" x="1177.4" y="861.0"/><use href="#m6" x="1181.8" y="853.5"/><use href="#m6" x="1186.2" y="851.3"/><use href="#m6" x="1190.6" y="850.2"/><use href="#m6" x="1195.0" y="849.5"/><use href="#m6" x="1199.4" y="847.6"/><use href="#m6" x="1203.8" y="845.9"/><use href="#m6" x="1208.2" y="846.3"/><use href="#m6" x="1212.6" y="845.8"/><use href="#m6" x="1217.0" y="844.7"/><use href="#m6" x="1221.4" y="846.4"/><use href="#m6" x="1225.8" y="850.4"/><use href="#m6" x="1230.2" y="848.9"/><use href="#m6" x="1234.6" y="845.3"/><use href="#m6" x="1239.0" y="837.9"/><use href="#m6" x="1243.4" y="833.7"/><use href="#m6" x="1247.8" y="827.1"/><use href="#m6" x="1252.2" y="822.7"/><use href="#m6" x="1256.6" y="818.0"/><use href="#m6" x="1261.0" y="813.8"/><use href="#m6" x="1265.4" y="806.1"/><use href="#m6" x="1269.8" y="801.6"/><use href="#m6" x="1274.2" y="799.6"/><use href="#m6" x="1278.6" y="797.8"/><use href="#m6" x="1283.0" y="794.9"/><use href="#m6" x="1287.4" y="793.9"/><use href="#m6" x="1291.8" y="792.1"/><use href="#m6" x="1296.2" y="792.1"/><use href="#m6" x="1300.6" y="790.1"/><use href="#m6" x="1305.0" y="787.4"/><use href="#m6" x="1309.4" y="786.2"/><use href="#m6" x="1313.8" y="786.3"/><use href="#m6" x="1318.2" y="785.3"/><use href="#m6" x="1322.6" y="783.3"/><use href="#m6" x="1327.0" y="782.4"/><use href="#m6" x="1331.4" y="780.7"/><use href="#m6" x="1335.8" y="779.9"/><use href="#m6" x="1340.2" y="783.1"/><use href="#m6" x="1344.6" y="785.7"/><use href="#m6" x="1349.0" y="786.5"/><use href="#m6" x="1353.4" y="784.1"/><use href="#m6" x="1357.8" y="781.4"/><use href="#m6" x="1362.2" y="778.2"/><use href="#m6" x="1366.6" y="776.6"/><use href="#m6" x="1371.0" y="772.9"/><use href="#m6" x="1375.4" y="769.8"/><use href="#m6" x="1379.8" y="767.2"/><use href="#m6" x="1384.2" y="769.5"/><use href="#m6" x="1388.6" y="770.6"/><use href="#m6" x="1393.0" y="768.1"/><use href="#m6" x="1397.4" y="759.2"/><use href="#m6" x="1401.8" y="754.3"/><use href="#m6" x="1406.2" y="749.5"/><use href="#m6" x="1410.6" y="746.9"/><use href="#m6" x="1415.0" y="744.1"/><use href="#m6" x="1419.4" y="740.7"/><use href="#m6" x="1423.8" y="738.7"/><use href="#m6" x="1428.2" y="735.3"/><use href="#m6" x="1432.6" y="729.6"/><use href="#m6" x="1437.0" y="723.1"/><use href="#m6" x="1441.4" y="717.8"/><use href="#m6" x="1445.8" y="713.8"/><use href="#m6" x="1450.2" y="710.4"/><use href="#m6" x="1454.6" y="708.6"/><use href="#m6" x="1459.0" y="712.0"/><use href="#m6" x="1463.4" y="716.3"/><use href="#m6" x="1467.8" y="717.5"/><use href="#m6" x="1472.2" y="719.4"/><use href="#m6" x="1476.6" y="722.9"/><use href="#m6" x="1481.0" y="726.4"/><use href="#m6" x="1485.4" y="733.2"/><use href="#m6" x="1489.8" y="738.7"/><use href="#m6" x="1494.2" y="742.5"/><use href="#m6" x="1498.6" y="742.9"/><use href="#m6" x="1503.0" y="742.7"/><use href="#m6" x="1507.4" y="743.2"/><use href="#m6" x="1511.8" y="744.4"/><use href="#m6" x="1516.2" y="747.0"/><use href="#m6" x="1520.6" y="747.7"/><use href="#m6" x="1525.0" y="752.7"/><use href="#m6" x="1529.4" y="753.9"/><use href="#m6" x="1533.8" y="753.2"/><use href="#m6" x="1538.2" y="749.6"/><use href="#m6" x="1542.6" y="755.9"/><use href="#m6" x="1547.0" y="757.7"/><use href="#m6" x="1551.4" y="760.4"/><use href="#m6" x="1555.8" y="761.7"/><use href="#m6" x="1560.2" y="760.4"/><use href="#m6" x="1564.6" y="759.9"/><use href="#m6" x="1569.0" y="763.4"/><use href="#m6" x="1573.4" y="768.2"/><use href="#m6" x="1577.8" y="777.0"/><use href="#m6" x="1582.2" y="786.2"/><use href="#m6" x="1586.6" y="792.8"/><use href="#m6" x="1591.0" y="800.0"/><use href="#m6" x="1595.4" y="810.6"/><use href="#m6" x="1599.8" y="818.5"/><use href="#m6" x="1604.2" y="829.2"/><use href="#m6" x="1608.6" y="839.1"/><use href="#m6" x="1613.0" y="846.3"/><use href="#m6" x="1617.4" y="852.6"/><use href="#m6" x="1621.8" y="860.7"/><use href="#m6" x="1626.2" y="868.3"/><use href="#m6" x="1630.6" y="874.8"/><use href="#m6" x="1635.0" y="881.2"/><use href="#m6" x="1639.4" y="886.5"/><use href="#m6" x="1643.8" y="892.4"/><use href="#m6" x="1648.2" y="900.0"/><use href="#m6" x="1652.6" y="907.8"/><use href="#m6" x="1657.0" y="915.0"/><use href="#m6" x="1661.4" y="923.7"/><use href="#m6" x="1665.8" y="932.3"/><use href="#m6" x="1670.2" y="938.9"/><use href="#m6" x="1674.6" y="948.9"/><use href="#m6" x="1679.0" y="959.3"/><use href="#m6" x="1683.4" y="968.8"/><use href="#m6" x="1687.8" y="976.7"/><use href="#m6" x="1692.2" y="982.9"/><use href="#m6" x="1696.6" y="988.2"/><use href="#m6" x="1701.0" y="991.4"/><use href="#m6" x="1705.4" y="995.0"/><use href="#m6" x="1709.8" y="999.7"/><use href="#m6" x="1714.2" y="1004.1"/><use href="#m6" x="1718.6" y="1008.9"/><use href="#m6" x="1723.0" y="1019.7"/><use href="#m6" x="1727.4" y="1031.4"/><use href="#m6" x="1731.8" y="1042.4"/><use href="#m6" x="1736.2" y="1049.6"/><use href="#m6" x="1740.6" y="1055.9"/><use href="#m6" x="1745.0" y="1063.9"/><use href="#m6" x="1749.4" y="1074.0"/><use href="#m6" x="1753.8" y="1080.7"/><use href="#m6" x="1758.2" y="1087.2"/><use href="#m6" x="1762.6" y="1092.1"/><use href="#m6" x="1767.0" y="1096.1"/><use href="#m6" x="1771.4" y="1100.7"/><use href="#m6" x="1775.8" y="1104.7"/><use href="#m6" x="1780.2" y="1108.5"/><use href="#m6" x="1784.6" y="1117.7"/><use href="#m6" x="1789.0" y="1125.1"/><use href="#m6" x="1793.4" y="1131.3"/><use href="#m6" x="1797.8" y="1139.4"/><use href="#m6" x="1802.2" y="1145.9"/><use href="#m6" x="1806.6" y="1151.8"/><use href="#m6" x="1811.0" y="1155.8"/><use href="#m6" x="1815.4" y="1160.2"/><use href="#m6" x="1819.8" y="1168.3"/><use href="#m6" x="1824.2" y="1174.0"/><use href="#m6" x="1828.6" y="1177.9"/><use href="#m6" x="1833.0" y="1183.1"/><use href="#m6" x="1837.4" y="1190.9"/><use href="#m6" x="1841.8" y="1197.6"/><use href="#m6" x="1846.2" y="1205.1"/><use href="#m6" x="1850.6" y="1208.3"/><use href="#m6" x="1855.0" y="1213.1"/><use href="#m6" x="1859.4" y="1217.9"/><use href="#m6" x="1863.8" y="1222.9"/><use href="#m6" x="1868.2" y="1230.5"/><use href="#m6" x="1872.6" y="1239.4"/><use href="#m6" x="1877.0" y="1246.2"/><use href="#m6" x="1881.4" y="1251.0"/><use href="#m6" x="1885.8" y="1256.4"/><use href="#m6" x="1890.2" y="1261.6"/><use href="#m6" x="1894.6" y="1267.6"/><use href="#m6" x="1899.0" y="1275.5"/><use href="#m6" x="1903.4" y="1283.8"/><use href="#m6" x="1907.8" y="1292.7"/><use href="#m6" x="1912.2" y="1295.1"/><use href="#m6" x="1916.6" y="1301.5"/><use href="#m6" x="1921.0" y="1305.4"/><use href="#m6" x="1925.4" y="1312.1"/><use href="#m6" x="1929.8" y="1318.3"/><use href="#m6" x="1934.2" y="1327.6"/></g>
<g><use href="#m7" x="800.0" y="623.6"/><use href="#m7" x="804.7" y="624.7"/><use href="#m7" x="809.3" y="625.6"/><use href="#m7" x="814.0" y="626.3"/><use href="#m7" x="818.6" y="626.9"/><use href="#m7" x="823.3" y="627.2"/><use href="#m7" x="827.9" y="627.3"/><use href="#m7" x="832.6" y="627.1"/><use href="#m7" x="837.2" y="626.7"/><use href="#m7" x="841.9" y="626.0"/><use href="#m7" x="846.5" y="625.0"/><use href="#m7" x="851.2" y="623.6"/><use href="#m7" x="855.8" y="621.9"/><use href="#m7" x="860.5" y="619.7"/><use href="#m7" x="865.1" y="617.1"/><use href="#m7" x="869.8" y="614.2"/><use href="#m7" x="874.4" y="610.8"/><use href="#m7" x="879.1" y="607.0"/><use href="#m7" x="883.7" y="602.7"/><use href="#m7" x="888.4" y="598.1"/><use href="#m7" x="893.0" y="592.9"/><use href="#m7" x="897.7" y="587.3"/><use href="#m7" x="902.3" y="581.1"/><use href="#m7" x="907.0" y="574.4"/><use href="#m7" x="911.6" y="567.2"/><use href="#m7" x="916.3" y="559.6"/><use href="#m7" x="920.9" y="551.8"/><use href="#m7" x="925.6" y="543.9"/><use href="#m7" x="930.2" y="536.3"/><use href="#m7" x="934.9" y="529.0"/><use href="#m7" x="939.5" y="522.3"/><use href="#m7" x="944.2" y="516.0"/><use href="#m7" x="948.8" y="510.3"/><use href="#m7" x="953.5" y="505.2"/><use href="#m7" x="958.1" y="500.7"/><use href="#m7" x="962.8" y="496.6"/><use href="#m7" x="967.4" y="493.0"/><use href="#m7" x="972.1" y="489.9"/><use href="#m7" x="976.7" y="487.2"/><use href="#m7" x="981.4" y="485.1"/><use href="#m7" x="986.0" y="483.5"/><use href="#m7" x="990.7" y="482.7"/><use href="#m7" x="995.3" y="482.5"/><use href="#m7" x="1000.0" y="483.2"/><use href="#m7" x="1004.6" y="484.6"/><use href="#m7" x="1009.3" y="486.7"/><use href="#m7" x="1013.9" y="489.4"/><use href="#m7" x="1018.6" y="492.7"/><use href="#m7" x="1023.2" y="496.6"/><use href="#m7" x="1027.9" y="501.0"/><use href="#m7" x="1032.5" y="505.8"/><use href="#m7" x="1037.2" y="511.0"/><use href="#m7" x="1041.8" y="516.6"/><use href="#m7" x="1046.5" y="522.6"/><use href="#m7" x="1051.1" y="529.0"/><use href="#m7" x="1055.8" y="535.9"/><use href="#m7" x="1060.4" y="543.2"/><use href="#m7" x="1065.1" y="550.9"/><use href="#m7" x="1069.7" y="558.9"/><use href="#m7" x="1074.4" y="567.2"/><use href="#m7" x="1079.0" y="575.7"/><use href="#m7" x="1083.7" y="584.4"/><use href="#m7" x="1088.3" y="593.4"/><use href="#m7" x="1093.0" y="602.6"/><use href="#m7" x="1097.6" y="612.0"/><use href="#m7" x="1102.3" y="621.7"/><use href="#m7" x="1106.9" y="631.7"/><use href="#m7" x="1111.6" y="642.0"/><use href="#m7" x="1116.2" y="652.7"/><use href="#m7" x="1120.9" y="663.6"/><use href="#m7" x="1125.5" y="675.0"/><use href="#m7" x="1130.2" y="686.7"/><use href="#m7" x="1134.8" y="698.8"/><use href="#m7" x="1139.5" y="711.4"/><use href="#m7" x="1144.1" y="724.4"/><use href="#m7" x="1148.8" y="738.0"/><use href="#m7" x="1153.4" y="752.1"/><use href="#m7" x="1158.1" y="766.8"/><use href="#m7" x="1162.7" y="782.1"/><use href="#m7" x="1167.4" y="798.2"/><use href="#m7" x="1172.0" y="815.1"/><use href="#m7" x="1176.7" y="832.8"/><use href="#m7" x="1181.3" y="851.5"/><use href="#m7" x="1186.0" y="871.2"/><use href="#m7" x="1190.6" y="892.0"/><use href="#m7" x="1195.3" y="914.1"/><use href="#m7" x="1199.9" y="937.7"/><use href="#m7" x="1204.6" y="962.8"/><use href="#m7" x="1209.2" y="989.5"/><use href="#m7" x="1213.9" y="1018.1"/><use href="#m7" x="1218.6" y="1048.6"/><use href="#m7" x="1223.2" y="1081.0"/><use href="#m7" x="1227.9" y="1115.2"/><use href="#m7" x="1232.5" y="1150.9"/><use href="#m7" x="1237.2" y="1187.8"/><use href="#m7" x="1241.8" y="1225.0"/><use href="#m7" x="1246.5" y="1261.8"/><use href="#m7" x="1251.1" y="1296.6"/><use href="#m7" x="1255.8" y="1328.5"/><use href="#m7" x="1260.4" y="1357.3"/><use href="#m7" x="1265.1" y="1383.1"/><use href="#m7" x="1269.7" y="1406.5"/><use href="#m7" x="1274.4" y="1427.7"/><use href="#m7" x="1279.0" y="1446.5"/><use href="#m7" x="1283.7" y="1459.3"/><use href="#m7" x="1288.3" y="1467.2"/><use href="#m7" x="1293.0" y="1472.4"/><use href="#m7" x="1297.6" y="1476.0"/><use href="#m7" x="1302.3" y="1478.6"/><use href="#m7" x="1306.9" y="1480.4"/><use href="#m7" x="1311.6" y="1481.5"/><use href="#m7" x="1316.2" y="1481.5"/><use href="#m7" x="1320.9" y="1481.5"/><use href="#m7" x="1325.5" y="1481.5"/><use href="#m7" x="1330.2" y="1481.5"/><use href="#m7" x="1334.8" y="1481.5"/><use href="#m7" x="1339.5" y="1481.5"/><use href="#m7" x="1344.1" y="1481.5"/></g>
<g><use href="#m9" x="209.5" y="1481.5"/><use href="#m9" x="216.3" y="1481.5"/><use href="#m9" x="223.2" y="1481.5"/><use href="#m9" x="230.1" y="1481.5"/><use href="#m9" x="236.9" y="1481.5"/><use href="#m9" x="243.8" y="1481.5"/><use href="#m9" x="250.7" y="1481.5"/><use href="#m9" x="257.5" y="1481.5"/><use href="#m9" x="264.4" y="1481.5"/><use href="#m9" x="271.3" y="1481.5"/><use href="#m9" x="278.2" y="1481.5"/><use href="#m9" x="285.1" y="1481.5"/><use href="#m9" x="292.0" y="1481.5"/><use href="#m9" x="298.9" y="1481.5"/><use href="#m9" x="305.8" y="1481.5"/><use href="#m9" x="312.7" y="1481.5"/><use href="#m9" x="319.6" y="1481.5"/><use href="#m9" x="326.5" y="1481.5"/><use href="#m9" x="333.5" y="1481.5"/><use href="#m9" x="340.4" y="1481.5"/><use href="#m9" x="347.3" y="1481.5"/><use href="#m9" x="354.3" y="1481.5"/><use href="#m9" x="361.2" y="1481.0"/><use href="#m9" x="368.1" y="1479.8"/><use href="#m9" x="375.1" y="1478.0"/><use href="#m9" x="382.1" y="1475.4"/><use href="#m9" x="389.0" y="1472.2"/><use href="#m9" x="396.0" y="1468.2"/><use href="#m9" x="402.9" y="1463.4"/><use href="#m9" x="409.9" y="1457.7"/><use href="#m9" x="416.9" y="1451.0"/><use href="#m9" x="423.9" y="1443.3"/><use href="#m9" x="430.9" y="1434.1"/><use href="#m9" x="437.8" y="1423.1"/><use href="#m9" x="444.8" y="1409.8"/><use href="#m9" x="451.8" y="1393.3"/><use href="#m9" x="458.8" y="1372.7"/><use href="#m9" x="465.9" y="1348.4"/><use href="#m9" x="472.9" y="1321.8"/><use href="#m9" x="479.9" y="1293.0"/><use href="#m9" x="486.9" y="1261.5"/><use href="#m9" x="493.9" y="1227.1"/><use href="#m9" x="501.0" y="1189.5"/><use href="#m9" x="508.0" y="1148.3"/><use href="#m9" x="515.0" y="1103.7"/><use href="#m9" x="522.1" y="1056.3"/><use href="#m9" x="529.1" y="1007.4"/><use href="#m9" x="536.2" y="958.5"/><use href="#m9" x="543.2" y="911.6"/><use href="#m9" x="550.3" y="867.2"/><use href="#m9" x="557.4" y="825.4"/><use href="#m9" x="564.4" y="786.1"/><use href="#m9" x="571.5" y="749.1"/><use href="#m9" x="578.6" y="714.2"/><use href="#m9" x="585.7" y="681.3"/><use href="#m9" x="592.7" y="651.4"/><use href="#m9" x="599.8" y="625.3"/><use href="#m9" x="606.9" y="603.1"/><use href="#m9" x="614.0" y="583.9"/><use href="#m9" x="621.1" y="567.3"/><use href="#m9" x="628.3" y="552.4"/><use href="#m9" x="635.4" y="538.7"/><use href="#m9" x="642.5" y="525.9"/><use href="#m9" x="649.6" y="513.8"/><use href="#m9" x="656.7" y="502.1"/><use href="#m9" x="663.9" y="490.8"/><use href="#m9" x="671.0" y="479.7"/><use href="#m9" x="678.2" y="468.8"/><use href="#m9" x="685.3" y="458.0"/><use href="#m9" x="692.4" y="447.2"/><use href="#m9" x="699.6" y="436.4"/><use href="#m9" x="706.8" y="425.4"/><use href="#m9" x="713.9" y="414.3"/><use href="#m9" x="721.1" y="403.1"/><use href="#m9" x="728.3" y="391.7"/><use href="#m9" x="735.4" y="380.3"/><use href="#m9" x="742.6" y="368.8"/><use href="#m9" x="749.8" y="357.2"/><use href="#m9" x="757.0" y="345.6"/><use href="#m9" x="764.2" y="333.9"/><use href="#m9" x="771.4" y="322.3"/><use href="#m9" x="778.6" y="310.7"/><use href="#m9" x="785.8" y="299.1"/><use href="#m9" x="793.0" y="287.6"/><use href="#m9" x="800.2" y="276.2"/><use href="#m9" x="807.5" y="264.9"/><use href="#m9" x="814.7" y="253.7"/><use href="#m9" x="821.9" y="242.7"/><use href="#m9" x="829.2" y="231.8"/><use href="#m9" x="836.4" y="221.0"/><use href="#m9" x="843.7" y="210.5"/><use href="#m9" x="850.9" y="200.1"/><use href="#m9" x="858.2" y="189.9"/><use href="#m9" x="865.4" y="179.9"/><use href="#m9" x="872.7" y="170.2"/><use href="#m9" x="880.0" y="161.0"/><use href="#m9" x="887.2" y="152.6"/><use href="#m9" x="894.5" y="145.2"/><use href="#m9" x="901.8" y="138.6"/><use href="#m9" x="909.1" y="133.0"/><use href="#m9" x="916.4" y="128.3"/><use href="#m9" x="923.7" y="124.6"/><use href="#m9" x="931.0" y="121.8"/><use href="#m9" x="938.3" y="120.1"/><use href="#m9" x="945.6" y="119.5"/><use href="#m9" x="952.9" y="120.0"/><use href="#m9" x="960.2" y="121.6"/><use href="#m9" x="967.5" y="124.0"/><use href="#m9" x="974.9" y="127.2"/><use href="#m9" x="982.2" y="131.3"/><use href="#m9" x="989.5" y="136.2"/><use href="#m9" x="996.9" y="142.0"/><use href="#m9" x="1004.2" y="148.6"/><use href="#m9" x="1011.6" y="156.1"/><use href="#m9" x="1018.9" y="164.2"/><use href="#m9" x="1026.3" y="172.9"/><use href="#m9" x="1033.7" y="181.9"/><use href="#m9" x="1041.0" y="191.3"/><use href="#m9" x="1048.4" y="201.2"/><use href="#m9" x="1055.8" y="211.4"/><use href="#m9" x="1063.2" y="222.2"/><use href="#m9" x="1070.6" y="233.3"/><use href="#m9" x="1078.0" y="245.0"/><use href="#m9" x="1085.4" y="257.2"/><use href="#m9" x="1092.8" y="269.9"/><use href="#m9" x="1100.2" y="283.0"/><use href="#m9" x="1107.6" y="296.7"/><use href="#m9" x="1115.0" y="310.9"/><use href="#m9" x="1122.4" y="325.5"/><use href="#m9" x="1129.9" y="340.6"/><use href="#m9" x="1137.3" y="356.1"/><use href="#m9" x="1144.7" y="372.1"/><use href="#m9" x="1152.2" y="388.6"/><use href="#m9" x="1159.6" y="405.7"/><use href="#m9" x="1167.1" y="423.4"/><use href="#m9" x="1174.5" y="441.8"/><use href="#m9" x="1182.0" y="461.0"/><use href="#m9" x="1189.4" y="481.0"/><use href="#m9" x="1196.9" y="502.1"/><use href="#m9" x="1204.4" y="524.3"/><use href="#m9" x="1211.9" y="548.0"/><use href="#m9" x="1219.3" y="573.2"/><use href="#m9" x="1226.8" y="600.4"/><use href="#m9" x="1234.3" y="629.8"/><use href="#m9" x="1241.8" y="661.8"/><use href="#m9" x="1249.3" y="697.0"/><use href="#m9" x="1256.8" y="735.8"/><use href="#m9" x="1264.3" y="779.2"/><use href="#m9" x="1271.9" y="828.1"/><use href="#m9" x="1279.4" y="883.5"/><use href="#m9" x="1286.9" y="946.3"/><use href="#m9" x="1294.4" y="1016.1"/><use href="#m9" x="1302.0" y="1090.8"/><use href="#m9" x="1309.5" y="1166.7"/><use href="#m9" x="1317.1" y="1239.9"/><use href="#m9" x="1324.6" y="1307.5"/><use href="#m9" x="1332.2" y="1368.8"/><use href="#m9" x="1339.7" y="1424.0"/><use href="#m9" x="1347.3" y="1456.9"/><use href="#m9" x="1354.8" y="1469.5"/><use href="#m9" x="1362.4" y="1476.1"/><use href="#m9" x="1370.0" y="1479.8"/><use href="#m9" x="1377.6" y="1481.4"/><use href="#m9" x="1385.2" y="1481.5"/><use href="#m9" x="1392.8" y="1481.5"/><use href="#m9" x="1400.4" y="1481.5"/><use href="#m9" x="1408.0" y="1481.5"/><use href="#m9" x="1415.6" y="1481.5"/><use href="#m9" x="1423.2" y="1481.5"/><use href="#m9" x="1430.8" y="1481.5"/><use href="#m9" x="1438.4" y="1481.5"/><use href="#m9" x="1446.0" y="1481.5"/><use href="#m9" x="1453.7" y="1481.5"/><use href="#m9" x="1461.3" y="1481.5"/><use href="#m9" x="1469.0" y="1481.5"/><use href="#m9" x="1476.6" y="1481.5"/><use href="#m9" x="1484.3" y="1481.5"/><use href="#m9" x="1491.9" y="1481.5"/><use href="#m9" x="1499.6" y="1481.5"/><use href="#m9" x="1507.2" y="1481.5"/></g>
</g>
<g class="tk">
<text x="165.5" y="1495.0" text-anchor="end" textLength="22.8" lengthAdjust="spacingAndGlyphs">0</text>
<text x="165.5" y="1315.9" text-anchor="end" textLength="22.8" lengthAdjust="spacingAndGlyphs">5</text>
<text x="165.5" y="1136.8" text-anchor="end" textLength="46.5" lengthAdjust="spacingAndGlyphs">10</text>
<text x="165.5" y="957.6" text-anchor="end" textLength="46.5" lengthAdjust="spacingAndGlyphs">15</text>
<text x="165.5" y="778.5" text-anchor="end" textLength="46.5" lengthAdjust="spacingAndGlyphs">20</text>
<text x="165.5" y="599.4" text-anchor="end" textLength="46.5" lengthAdjust="spacingAndGlyphs">25</text>
<text x="165.5" y="420.2" text-anchor="end" textLength="46.5" lengthAdjust="spacingAndGlyphs">30</text>
<text x="165.5" y="241.1" text-anchor="end" textLength="46.5" lengthAdjust="spacingAndGlyphs">35</text>
<text x="165.5" y="62.0" text-anchor="end" textLength="46.5" lengthAdjust="spacingAndGlyphs">40</text>
<text x="209.5" y="1554" text-anchor="middle" textLength="22.8" lengthAdjust="spacingAndGlyphs">0</text>
<text x="680.5" y="1554" text-anchor="middle" textLength="22.8" lengthAdjust="spacingAndGlyphs">5</text>
<text x="1151.4" y="1554" text-anchor="middle" textLength="46.5" lengthAdjust="spacingAndGlyphs">10</text>
<text x="1622.4" y="1554" text-anchor="middle" textLength="46.5" lengthAdjust="spacingAndGlyphs">15</text>
<text x="2093.3" y="1554" text-anchor="middle" textLength="46.5" lengthAdjust="spacingAndGlyphs">20</text>
</g>
<text class="ti" x="1197" y="1616.5" text-anchor="middle" textLength="301" lengthAdjust="spacingAndGlyphs">Tau [s/mm^2]</text>
<text class="ti" transform="translate(70.8,751.5) rotate(-90)" text-anchor="middle" textLength="396" lengthAdjust="spacingAndGlyphs">MLRPUA [g/m^2s]</text>
<rect x="1772.5" y="63.5" width="409" height="830" fill="#fff" stroke="#000" stroke-width="3" shape-rendering="crispEdges"/>
<g class="lg">
<use href="#m0" x="1808.5" y="104.5"/>
<text x="1836" y="120" textLength="277" lengthAdjust="spacingAndGlyphs">100:130_Exp</text>
<use href="#m1" x="1808.5" y="187.5"/>
<text x="1836" y="203" textLength="332" lengthAdjust="spacingAndGlyphs">100:130_Gpyro</text>
<use href="#m2" x="1808.5" y="270.5"/>
<text x="1836" y="286" textLength="277" lengthAdjust="spacingAndGlyphs">100:100_Exp</text>
<use href="#m3" x="1808.5" y="353.5"/>
<text x="1836" y="369" textLength="332" lengthAdjust="spacingAndGlyphs">100:100_Gpyro</text>
<use href="#m4" x="1808.5" y="436.5"/>
<text x="1836" y="452" textLength="250" lengthAdjust="spacingAndGlyphs">100:66_Exp</text>
<use href="#m5" x="1808.5" y="519.5"/>
<text x="1836" y="535" textLength="305" lengthAdjust="spacingAndGlyphs">100:66_Gpyro</text>
<use href="#m6" x="1808.5" y="602.5"/>
<text x="1836" y="618" textLength="250" lengthAdjust="spacingAndGlyphs">100:33_Exp</text>
<use href="#m7" x="1808.5" y="685.5"/>
<text x="1836" y="701" textLength="305" lengthAdjust="spacingAndGlyphs">100:33_Gpyro</text>
<use href="#m8" x="1808.5" y="768.5"/>
<text x="1836" y="784" textLength="224" lengthAdjust="spacingAndGlyphs">100:0_Exp</text>
<use href="#m9" x="1808.5" y="851.5"/>
<text x="1836" y="867" textLength="279" lengthAdjust="spacingAndGlyphs">100:0_Gpyro</text>
</g>
</svg>
</body>
</html>
